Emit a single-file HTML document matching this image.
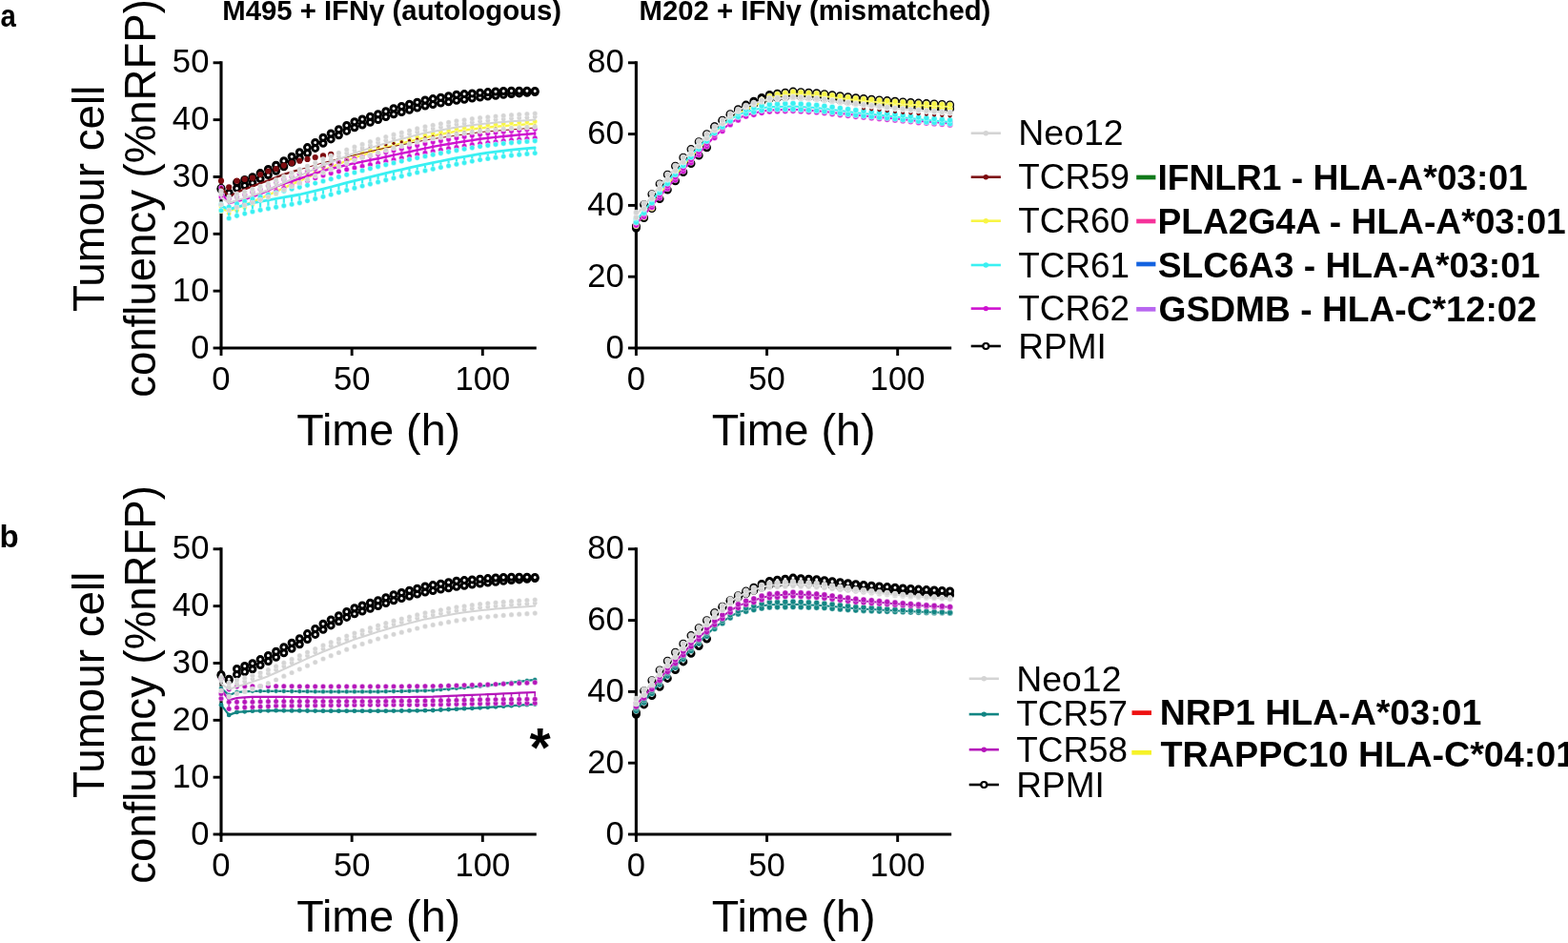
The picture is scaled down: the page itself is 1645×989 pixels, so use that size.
<!DOCTYPE html>
<html lang="en"><head><meta charset="utf-8"><title>Tumour cell confluency</title>
<style>html,body{margin:0;padding:0;background:#fff;overflow:hidden}svg{display:block}</style></head>
<body>
<svg width="1645" height="989" viewBox="0 0 1645 989" font-family='"Liberation Sans", sans-serif' fill="#000">
<rect width="1645" height="989" fill="#fff"/>
<path d="M232.00 64.25V366.55" stroke="#000" stroke-width="3.1" fill="none"/>
<path d="M230.45 365.00H562.76" stroke="#000" stroke-width="3.1" fill="none"/>
<path d="M223.60 365.00H232.00" stroke="#000" stroke-width="2.9" fill="none"/>
<text transform="translate(219.40 375.60) scale(1.01 1)" font-size="34.3" text-anchor="end">0</text>
<path d="M223.60 305.16H232.00" stroke="#000" stroke-width="2.9" fill="none"/>
<text transform="translate(219.40 315.76) scale(1.01 1)" font-size="34.3" text-anchor="end">10</text>
<path d="M223.60 245.32H232.00" stroke="#000" stroke-width="2.9" fill="none"/>
<text transform="translate(219.40 255.92) scale(1.01 1)" font-size="34.3" text-anchor="end">20</text>
<path d="M223.60 185.48H232.00" stroke="#000" stroke-width="2.9" fill="none"/>
<text transform="translate(219.40 196.08) scale(1.01 1)" font-size="34.3" text-anchor="end">30</text>
<path d="M223.60 125.64H232.00" stroke="#000" stroke-width="2.9" fill="none"/>
<text transform="translate(219.40 136.24) scale(1.01 1)" font-size="34.3" text-anchor="end">40</text>
<path d="M223.60 65.80H232.00" stroke="#000" stroke-width="2.9" fill="none"/>
<text transform="translate(219.40 76.40) scale(1.01 1)" font-size="34.3" text-anchor="end">50</text>
<path d="M232.00 365.00V373.00" stroke="#000" stroke-width="2.9" fill="none"/>
<text transform="translate(232.00 409.30) scale(1.01 1)" font-size="34.3" text-anchor="middle">0</text>
<path d="M369.15 365.00V373.00" stroke="#000" stroke-width="2.9" fill="none"/>
<text transform="translate(369.15 409.30) scale(1.01 1)" font-size="34.3" text-anchor="middle">50</text>
<path d="M506.30 365.00V373.00" stroke="#000" stroke-width="2.9" fill="none"/>
<text transform="translate(506.30 409.30) scale(1.01 1)" font-size="34.3" text-anchor="middle">100</text>
<text transform="translate(397.18 466.90) scale(1.03 1)" font-size="45.3" text-anchor="middle">Time (h)</text>
<path d="M667.40 64.25V366.55" stroke="#000" stroke-width="3.1" fill="none"/>
<path d="M665.85 365.00H998.16" stroke="#000" stroke-width="3.1" fill="none"/>
<path d="M659.00 365.00H667.40" stroke="#000" stroke-width="2.9" fill="none"/>
<text transform="translate(654.80 375.60) scale(1.01 1)" font-size="34.3" text-anchor="end">0</text>
<path d="M659.00 290.20H667.40" stroke="#000" stroke-width="2.9" fill="none"/>
<text transform="translate(654.80 300.80) scale(1.01 1)" font-size="34.3" text-anchor="end">20</text>
<path d="M659.00 215.40H667.40" stroke="#000" stroke-width="2.9" fill="none"/>
<text transform="translate(654.80 226.00) scale(1.01 1)" font-size="34.3" text-anchor="end">40</text>
<path d="M659.00 140.60H667.40" stroke="#000" stroke-width="2.9" fill="none"/>
<text transform="translate(654.80 151.20) scale(1.01 1)" font-size="34.3" text-anchor="end">60</text>
<path d="M659.00 65.80H667.40" stroke="#000" stroke-width="2.9" fill="none"/>
<text transform="translate(654.80 76.40) scale(1.01 1)" font-size="34.3" text-anchor="end">80</text>
<path d="M667.40 365.00V373.00" stroke="#000" stroke-width="2.9" fill="none"/>
<text transform="translate(667.40 409.30) scale(1.01 1)" font-size="34.3" text-anchor="middle">0</text>
<path d="M804.55 365.00V373.00" stroke="#000" stroke-width="2.9" fill="none"/>
<text transform="translate(804.55 409.30) scale(1.01 1)" font-size="34.3" text-anchor="middle">50</text>
<path d="M941.70 365.00V373.00" stroke="#000" stroke-width="2.9" fill="none"/>
<text transform="translate(941.70 409.30) scale(1.01 1)" font-size="34.3" text-anchor="middle">100</text>
<text transform="translate(832.58 466.90) scale(1.03 1)" font-size="45.3" text-anchor="middle">Time (h)</text>
<g><circle cx="232.0" cy="198.6" r="3.0" fill="#fff" stroke="#000" stroke-width="3.0"/><circle cx="240.2" cy="203.4" r="3.0" fill="#fff" stroke="#000" stroke-width="3.0"/><circle cx="248.5" cy="197.4" r="3.0" fill="#fff" stroke="#000" stroke-width="3.0"/><circle cx="256.7" cy="194.5" r="3.0" fill="#fff" stroke="#000" stroke-width="3.0"/><circle cx="264.9" cy="191.8" r="3.0" fill="#fff" stroke="#000" stroke-width="3.0"/><circle cx="273.1" cy="187.6" r="3.0" fill="#fff" stroke="#000" stroke-width="3.0"/><circle cx="281.4" cy="183.5" r="3.0" fill="#fff" stroke="#000" stroke-width="3.0"/><circle cx="289.6" cy="179.2" r="3.0" fill="#fff" stroke="#000" stroke-width="3.0"/><circle cx="297.8" cy="174.7" r="3.0" fill="#fff" stroke="#000" stroke-width="3.0"/><circle cx="306.1" cy="170.2" r="3.0" fill="#fff" stroke="#000" stroke-width="3.0"/><circle cx="314.3" cy="165.7" r="3.0" fill="#fff" stroke="#000" stroke-width="3.0"/><circle cx="322.5" cy="160.5" r="3.0" fill="#fff" stroke="#000" stroke-width="3.0"/><circle cx="330.7" cy="155.4" r="3.0" fill="#fff" stroke="#000" stroke-width="3.0"/><circle cx="339.0" cy="150.2" r="3.0" fill="#fff" stroke="#000" stroke-width="3.0"/><circle cx="347.2" cy="145.9" r="3.0" fill="#fff" stroke="#000" stroke-width="3.0"/><circle cx="355.4" cy="141.7" r="3.0" fill="#fff" stroke="#000" stroke-width="3.0"/><circle cx="363.7" cy="137.4" r="3.0" fill="#fff" stroke="#000" stroke-width="3.0"/><circle cx="371.9" cy="133.7" r="3.0" fill="#fff" stroke="#000" stroke-width="3.0"/><circle cx="380.1" cy="131.0" r="3.0" fill="#fff" stroke="#000" stroke-width="3.0"/><circle cx="388.4" cy="128.3" r="3.0" fill="#fff" stroke="#000" stroke-width="3.0"/><circle cx="396.6" cy="125.6" r="3.0" fill="#fff" stroke="#000" stroke-width="3.0"/><circle cx="404.8" cy="122.6" r="3.0" fill="#fff" stroke="#000" stroke-width="3.0"/><circle cx="413.0" cy="119.7" r="3.0" fill="#fff" stroke="#000" stroke-width="3.0"/><circle cx="421.3" cy="117.5" r="3.0" fill="#fff" stroke="#000" stroke-width="3.0"/><circle cx="429.5" cy="115.3" r="3.0" fill="#fff" stroke="#000" stroke-width="3.0"/><circle cx="437.7" cy="113.1" r="3.0" fill="#fff" stroke="#000" stroke-width="3.0"/><circle cx="446.0" cy="111.0" r="3.0" fill="#fff" stroke="#000" stroke-width="3.0"/><circle cx="454.2" cy="109.6" r="3.0" fill="#fff" stroke="#000" stroke-width="3.0"/><circle cx="462.4" cy="108.1" r="3.0" fill="#fff" stroke="#000" stroke-width="3.0"/><circle cx="470.6" cy="106.7" r="3.0" fill="#fff" stroke="#000" stroke-width="3.0"/><circle cx="478.9" cy="105.3" r="3.0" fill="#fff" stroke="#000" stroke-width="3.0"/><circle cx="487.1" cy="104.2" r="3.0" fill="#fff" stroke="#000" stroke-width="3.0"/><circle cx="495.3" cy="103.1" r="3.0" fill="#fff" stroke="#000" stroke-width="3.0"/><circle cx="503.6" cy="102.1" r="3.0" fill="#fff" stroke="#000" stroke-width="3.0"/><circle cx="511.8" cy="101.1" r="3.0" fill="#fff" stroke="#000" stroke-width="3.0"/><circle cx="520.0" cy="100.2" r="3.0" fill="#fff" stroke="#000" stroke-width="3.0"/><circle cx="528.2" cy="99.3" r="3.0" fill="#fff" stroke="#000" stroke-width="3.0"/><circle cx="536.5" cy="98.5" r="3.0" fill="#fff" stroke="#000" stroke-width="3.0"/><circle cx="544.7" cy="97.9" r="3.0" fill="#fff" stroke="#000" stroke-width="3.0"/><circle cx="552.9" cy="97.2" r="3.0" fill="#fff" stroke="#000" stroke-width="3.0"/><circle cx="561.2" cy="96.6" r="3.0" fill="#fff" stroke="#000" stroke-width="3.0"/></g>
<g><circle cx="232.0" cy="197.4" r="3.0" fill="#fff" stroke="#000" stroke-width="3.0"/><circle cx="240.2" cy="202.2" r="3.0" fill="#fff" stroke="#000" stroke-width="3.0"/><circle cx="248.5" cy="191.5" r="3.0" fill="#fff" stroke="#000" stroke-width="3.0"/><circle cx="256.7" cy="188.5" r="3.0" fill="#fff" stroke="#000" stroke-width="3.0"/><circle cx="264.9" cy="185.8" r="3.0" fill="#fff" stroke="#000" stroke-width="3.0"/><circle cx="273.1" cy="181.6" r="3.0" fill="#fff" stroke="#000" stroke-width="3.0"/><circle cx="281.4" cy="177.5" r="3.0" fill="#fff" stroke="#000" stroke-width="3.0"/><circle cx="289.6" cy="173.2" r="3.0" fill="#fff" stroke="#000" stroke-width="3.0"/><circle cx="297.8" cy="168.7" r="3.0" fill="#fff" stroke="#000" stroke-width="3.0"/><circle cx="306.1" cy="164.2" r="3.0" fill="#fff" stroke="#000" stroke-width="3.0"/><circle cx="314.3" cy="159.7" r="3.0" fill="#fff" stroke="#000" stroke-width="3.0"/><circle cx="322.5" cy="154.6" r="3.0" fill="#fff" stroke="#000" stroke-width="3.0"/><circle cx="330.7" cy="149.4" r="3.0" fill="#fff" stroke="#000" stroke-width="3.0"/><circle cx="339.0" cy="144.2" r="3.0" fill="#fff" stroke="#000" stroke-width="3.0"/><circle cx="347.2" cy="139.9" r="3.0" fill="#fff" stroke="#000" stroke-width="3.0"/><circle cx="355.4" cy="135.7" r="3.0" fill="#fff" stroke="#000" stroke-width="3.0"/><circle cx="363.7" cy="131.5" r="3.0" fill="#fff" stroke="#000" stroke-width="3.0"/><circle cx="371.9" cy="127.7" r="3.0" fill="#fff" stroke="#000" stroke-width="3.0"/><circle cx="380.1" cy="125.0" r="3.0" fill="#fff" stroke="#000" stroke-width="3.0"/><circle cx="388.4" cy="122.3" r="3.0" fill="#fff" stroke="#000" stroke-width="3.0"/><circle cx="396.6" cy="119.7" r="3.0" fill="#fff" stroke="#000" stroke-width="3.0"/><circle cx="404.8" cy="116.7" r="3.0" fill="#fff" stroke="#000" stroke-width="3.0"/><circle cx="413.0" cy="113.7" r="3.0" fill="#fff" stroke="#000" stroke-width="3.0"/><circle cx="421.3" cy="111.5" r="3.0" fill="#fff" stroke="#000" stroke-width="3.0"/><circle cx="429.5" cy="109.3" r="3.0" fill="#fff" stroke="#000" stroke-width="3.0"/><circle cx="437.7" cy="107.2" r="3.0" fill="#fff" stroke="#000" stroke-width="3.0"/><circle cx="446.0" cy="105.0" r="3.0" fill="#fff" stroke="#000" stroke-width="3.0"/><circle cx="454.2" cy="103.6" r="3.0" fill="#fff" stroke="#000" stroke-width="3.0"/><circle cx="462.4" cy="102.2" r="3.0" fill="#fff" stroke="#000" stroke-width="3.0"/><circle cx="470.6" cy="100.7" r="3.0" fill="#fff" stroke="#000" stroke-width="3.0"/><circle cx="478.9" cy="99.3" r="3.0" fill="#fff" stroke="#000" stroke-width="3.0"/><circle cx="487.1" cy="98.6" r="3.0" fill="#fff" stroke="#000" stroke-width="3.0"/><circle cx="495.3" cy="97.9" r="3.0" fill="#fff" stroke="#000" stroke-width="3.0"/><circle cx="503.6" cy="97.2" r="3.0" fill="#fff" stroke="#000" stroke-width="3.0"/><circle cx="511.8" cy="96.6" r="3.0" fill="#fff" stroke="#000" stroke-width="3.0"/><circle cx="520.0" cy="96.0" r="3.0" fill="#fff" stroke="#000" stroke-width="3.0"/><circle cx="528.2" cy="95.5" r="3.0" fill="#fff" stroke="#000" stroke-width="3.0"/><circle cx="536.5" cy="95.2" r="3.0" fill="#fff" stroke="#000" stroke-width="3.0"/><circle cx="544.7" cy="95.2" r="3.0" fill="#fff" stroke="#000" stroke-width="3.0"/><circle cx="552.9" cy="95.3" r="3.0" fill="#fff" stroke="#000" stroke-width="3.0"/><circle cx="561.2" cy="95.4" r="3.0" fill="#fff" stroke="#000" stroke-width="3.0"/></g>
<path d="M232.0 219.0L240.2 221.4L248.5 218.2L256.7 215.0L264.9 211.8L273.1 208.2L281.4 204.6L289.6 201.0L297.8 197.2L306.1 193.4L314.3 189.7L322.5 186.1L330.7 182.5L339.0 178.9L347.2 175.4L355.4 172.0L363.7 168.6L371.9 165.4L380.1 162.7L388.4 160.0L396.6 157.4L404.8 155.0L413.0 152.7L421.3 150.4L429.5 148.3L437.7 146.3L446.0 144.3L454.2 142.5L462.4 140.8L470.6 139.2L478.9 137.6L487.1 136.5L495.3 135.5L503.6 134.4L511.8 133.5L520.0 132.8L528.2 132.1L536.5 131.4L544.7 130.9L552.9 130.4L561.2 129.8" stroke="#f8f545" stroke-width="2.4" fill="none" stroke-linejoin="round" stroke-linecap="round"/>
<g><circle cx="232.0" cy="221.4" r="2.5" fill="#f8f545" stroke="#fff" stroke-width="0.4"/><circle cx="240.2" cy="223.8" r="2.5" fill="#f8f545" stroke="#fff" stroke-width="0.4"/><circle cx="248.5" cy="220.6" r="2.5" fill="#f8f545" stroke="#fff" stroke-width="0.4"/><circle cx="256.7" cy="217.4" r="2.5" fill="#f8f545" stroke="#fff" stroke-width="0.4"/><circle cx="264.9" cy="214.2" r="2.5" fill="#f8f545" stroke="#fff" stroke-width="0.4"/><circle cx="273.1" cy="210.6" r="2.5" fill="#f8f545" stroke="#fff" stroke-width="0.4"/><circle cx="281.4" cy="207.0" r="2.5" fill="#f8f545" stroke="#fff" stroke-width="0.4"/><circle cx="289.6" cy="203.4" r="2.5" fill="#f8f545" stroke="#fff" stroke-width="0.4"/><circle cx="297.8" cy="199.6" r="2.5" fill="#f8f545" stroke="#fff" stroke-width="0.4"/><circle cx="306.1" cy="195.8" r="2.5" fill="#f8f545" stroke="#fff" stroke-width="0.4"/><circle cx="314.3" cy="192.1" r="2.5" fill="#f8f545" stroke="#fff" stroke-width="0.4"/><circle cx="322.5" cy="188.5" r="2.5" fill="#f8f545" stroke="#fff" stroke-width="0.4"/><circle cx="330.7" cy="184.9" r="2.5" fill="#f8f545" stroke="#fff" stroke-width="0.4"/><circle cx="339.0" cy="181.3" r="2.5" fill="#f8f545" stroke="#fff" stroke-width="0.4"/><circle cx="347.2" cy="177.8" r="2.5" fill="#f8f545" stroke="#fff" stroke-width="0.4"/><circle cx="355.4" cy="174.4" r="2.5" fill="#f8f545" stroke="#fff" stroke-width="0.4"/><circle cx="363.7" cy="171.0" r="2.5" fill="#f8f545" stroke="#fff" stroke-width="0.4"/><circle cx="371.9" cy="167.8" r="2.5" fill="#f8f545" stroke="#fff" stroke-width="0.4"/><circle cx="380.1" cy="165.1" r="2.5" fill="#f8f545" stroke="#fff" stroke-width="0.4"/><circle cx="388.4" cy="162.4" r="2.5" fill="#f8f545" stroke="#fff" stroke-width="0.4"/><circle cx="396.6" cy="159.7" r="2.5" fill="#f8f545" stroke="#fff" stroke-width="0.4"/><circle cx="404.8" cy="157.4" r="2.5" fill="#f8f545" stroke="#fff" stroke-width="0.4"/><circle cx="413.0" cy="155.1" r="2.5" fill="#f8f545" stroke="#fff" stroke-width="0.4"/><circle cx="421.3" cy="152.7" r="2.5" fill="#f8f545" stroke="#fff" stroke-width="0.4"/><circle cx="429.5" cy="150.7" r="2.5" fill="#f8f545" stroke="#fff" stroke-width="0.4"/><circle cx="437.7" cy="148.7" r="2.5" fill="#f8f545" stroke="#fff" stroke-width="0.4"/><circle cx="446.0" cy="146.7" r="2.5" fill="#f8f545" stroke="#fff" stroke-width="0.4"/><circle cx="454.2" cy="144.8" r="2.5" fill="#f8f545" stroke="#fff" stroke-width="0.4"/><circle cx="462.4" cy="143.2" r="2.5" fill="#f8f545" stroke="#fff" stroke-width="0.4"/><circle cx="470.6" cy="141.6" r="2.5" fill="#f8f545" stroke="#fff" stroke-width="0.4"/><circle cx="478.9" cy="140.0" r="2.5" fill="#f8f545" stroke="#fff" stroke-width="0.4"/><circle cx="487.1" cy="138.9" r="2.5" fill="#f8f545" stroke="#fff" stroke-width="0.4"/><circle cx="495.3" cy="137.8" r="2.5" fill="#f8f545" stroke="#fff" stroke-width="0.4"/><circle cx="503.6" cy="136.8" r="2.5" fill="#f8f545" stroke="#fff" stroke-width="0.4"/><circle cx="511.8" cy="135.9" r="2.5" fill="#f8f545" stroke="#fff" stroke-width="0.4"/><circle cx="520.0" cy="135.2" r="2.5" fill="#f8f545" stroke="#fff" stroke-width="0.4"/><circle cx="528.2" cy="134.5" r="2.5" fill="#f8f545" stroke="#fff" stroke-width="0.4"/><circle cx="536.5" cy="133.8" r="2.5" fill="#f8f545" stroke="#fff" stroke-width="0.4"/><circle cx="544.7" cy="133.3" r="2.5" fill="#f8f545" stroke="#fff" stroke-width="0.4"/><circle cx="552.9" cy="132.8" r="2.5" fill="#f8f545" stroke="#fff" stroke-width="0.4"/><circle cx="561.2" cy="132.2" r="2.5" fill="#f8f545" stroke="#fff" stroke-width="0.4"/></g>
<g><circle cx="232.0" cy="216.6" r="2.5" fill="#f8f545" stroke="#fff" stroke-width="0.4"/><circle cx="240.2" cy="219.0" r="2.5" fill="#f8f545" stroke="#fff" stroke-width="0.4"/><circle cx="248.5" cy="215.8" r="2.5" fill="#f8f545" stroke="#fff" stroke-width="0.4"/><circle cx="256.7" cy="212.6" r="2.5" fill="#f8f545" stroke="#fff" stroke-width="0.4"/><circle cx="264.9" cy="209.4" r="2.5" fill="#f8f545" stroke="#fff" stroke-width="0.4"/><circle cx="273.1" cy="205.8" r="2.5" fill="#f8f545" stroke="#fff" stroke-width="0.4"/><circle cx="281.4" cy="202.2" r="2.5" fill="#f8f545" stroke="#fff" stroke-width="0.4"/><circle cx="289.6" cy="198.6" r="2.5" fill="#f8f545" stroke="#fff" stroke-width="0.4"/><circle cx="297.8" cy="194.8" r="2.5" fill="#f8f545" stroke="#fff" stroke-width="0.4"/><circle cx="306.1" cy="191.0" r="2.5" fill="#f8f545" stroke="#fff" stroke-width="0.4"/><circle cx="314.3" cy="187.3" r="2.5" fill="#f8f545" stroke="#fff" stroke-width="0.4"/><circle cx="322.5" cy="183.7" r="2.5" fill="#f8f545" stroke="#fff" stroke-width="0.4"/><circle cx="330.7" cy="180.1" r="2.5" fill="#f8f545" stroke="#fff" stroke-width="0.4"/><circle cx="339.0" cy="176.5" r="2.5" fill="#f8f545" stroke="#fff" stroke-width="0.4"/><circle cx="347.2" cy="173.0" r="2.5" fill="#f8f545" stroke="#fff" stroke-width="0.4"/><circle cx="355.4" cy="169.6" r="2.5" fill="#f8f545" stroke="#fff" stroke-width="0.4"/><circle cx="363.7" cy="166.2" r="2.5" fill="#f8f545" stroke="#fff" stroke-width="0.4"/><circle cx="371.9" cy="163.0" r="2.5" fill="#f8f545" stroke="#fff" stroke-width="0.4"/><circle cx="380.1" cy="160.3" r="2.5" fill="#f8f545" stroke="#fff" stroke-width="0.4"/><circle cx="388.4" cy="157.7" r="2.5" fill="#f8f545" stroke="#fff" stroke-width="0.4"/><circle cx="396.6" cy="155.0" r="2.5" fill="#f8f545" stroke="#fff" stroke-width="0.4"/><circle cx="404.8" cy="152.6" r="2.5" fill="#f8f545" stroke="#fff" stroke-width="0.4"/><circle cx="413.0" cy="150.3" r="2.5" fill="#f8f545" stroke="#fff" stroke-width="0.4"/><circle cx="421.3" cy="148.0" r="2.5" fill="#f8f545" stroke="#fff" stroke-width="0.4"/><circle cx="429.5" cy="145.9" r="2.5" fill="#f8f545" stroke="#fff" stroke-width="0.4"/><circle cx="437.7" cy="143.9" r="2.5" fill="#f8f545" stroke="#fff" stroke-width="0.4"/><circle cx="446.0" cy="141.9" r="2.5" fill="#f8f545" stroke="#fff" stroke-width="0.4"/><circle cx="454.2" cy="140.1" r="2.5" fill="#f8f545" stroke="#fff" stroke-width="0.4"/><circle cx="462.4" cy="138.4" r="2.5" fill="#f8f545" stroke="#fff" stroke-width="0.4"/><circle cx="470.6" cy="136.8" r="2.5" fill="#f8f545" stroke="#fff" stroke-width="0.4"/><circle cx="478.9" cy="135.2" r="2.5" fill="#f8f545" stroke="#fff" stroke-width="0.4"/><circle cx="487.1" cy="134.1" r="2.5" fill="#f8f545" stroke="#fff" stroke-width="0.4"/><circle cx="495.3" cy="133.1" r="2.5" fill="#f8f545" stroke="#fff" stroke-width="0.4"/><circle cx="503.6" cy="132.0" r="2.5" fill="#f8f545" stroke="#fff" stroke-width="0.4"/><circle cx="511.8" cy="131.1" r="2.5" fill="#f8f545" stroke="#fff" stroke-width="0.4"/><circle cx="520.0" cy="130.4" r="2.5" fill="#f8f545" stroke="#fff" stroke-width="0.4"/><circle cx="528.2" cy="129.7" r="2.5" fill="#f8f545" stroke="#fff" stroke-width="0.4"/><circle cx="536.5" cy="129.1" r="2.5" fill="#f8f545" stroke="#fff" stroke-width="0.4"/><circle cx="544.7" cy="128.5" r="2.5" fill="#f8f545" stroke="#fff" stroke-width="0.4"/><circle cx="552.9" cy="128.0" r="2.5" fill="#f8f545" stroke="#fff" stroke-width="0.4"/><circle cx="561.2" cy="127.4" r="2.5" fill="#f8f545" stroke="#fff" stroke-width="0.4"/></g>
<path d="M232.0 201.6L240.2 213.0L248.5 211.2L256.7 209.0L264.9 206.3L273.1 203.4L281.4 199.6L289.6 195.7L297.8 192.7L306.1 190.0L314.3 187.3L322.5 184.6L330.7 181.9L339.0 179.2L347.2 177.0L355.4 175.0L363.7 173.0L371.9 171.2L380.1 169.6L388.4 167.9L396.6 166.3L404.8 164.5L413.0 162.7L421.3 160.9L429.5 159.2L437.7 157.4L446.0 155.6L454.2 153.9L462.4 152.4L470.6 151.0L478.9 149.6L487.1 148.3L495.3 147.1L503.6 145.8L511.8 144.8L520.0 143.9L528.2 143.0L536.5 142.2L544.7 141.4L552.9 140.7L561.2 140.0" stroke="#cf12d0" stroke-width="2.4" fill="none" stroke-linejoin="round" stroke-linecap="round"/>
<path d="M232.0 206.4V196.8M240.2 217.8V208.2M248.5 216.0V206.4M256.7 213.8V204.2M264.9 211.1V201.5M273.1 208.2V198.6M281.4 204.4V194.8M289.6 200.5V191.0M297.8 197.4V187.9M306.1 194.8V185.2M314.3 192.1V182.5M322.5 189.4V179.8M330.7 186.7V177.1M339.0 184.0V174.4M347.2 181.8V172.2M355.4 179.8V170.2M363.7 177.8V168.2M371.9 176.0V166.4M380.1 174.3V164.8M388.4 172.7V163.2M396.6 171.1V161.5M404.8 169.3V159.7M413.0 167.5V158.0M421.3 165.7V156.2M429.5 163.9V154.4M437.7 162.1V152.6M446.0 160.3V150.8M454.2 158.7V149.1M462.4 157.2V147.7M470.6 155.8V146.2M478.9 154.4V144.8M487.1 153.1V143.5M495.3 151.8V142.3M503.6 150.6V141.0M511.8 149.6V140.0M520.0 148.7V139.1M528.2 147.8V138.2M536.5 146.9V137.4M544.7 146.2V136.7M552.9 145.5V135.9M561.2 144.8V135.2" stroke="#cf12d0" stroke-width="2.0" fill="none"/>
<g><circle cx="232.0" cy="206.4" r="2.7" fill="#cf12d0" stroke="#fff" stroke-width="0.4"/><circle cx="240.2" cy="217.8" r="2.7" fill="#cf12d0" stroke="#fff" stroke-width="0.4"/><circle cx="248.5" cy="216.0" r="2.7" fill="#cf12d0" stroke="#fff" stroke-width="0.4"/><circle cx="256.7" cy="213.8" r="2.7" fill="#cf12d0" stroke="#fff" stroke-width="0.4"/><circle cx="264.9" cy="211.1" r="2.7" fill="#cf12d0" stroke="#fff" stroke-width="0.4"/><circle cx="273.1" cy="208.2" r="2.7" fill="#cf12d0" stroke="#fff" stroke-width="0.4"/><circle cx="281.4" cy="204.4" r="2.7" fill="#cf12d0" stroke="#fff" stroke-width="0.4"/><circle cx="289.6" cy="200.5" r="2.7" fill="#cf12d0" stroke="#fff" stroke-width="0.4"/><circle cx="297.8" cy="197.4" r="2.7" fill="#cf12d0" stroke="#fff" stroke-width="0.4"/><circle cx="306.1" cy="194.8" r="2.7" fill="#cf12d0" stroke="#fff" stroke-width="0.4"/><circle cx="314.3" cy="192.1" r="2.7" fill="#cf12d0" stroke="#fff" stroke-width="0.4"/><circle cx="322.5" cy="189.4" r="2.7" fill="#cf12d0" stroke="#fff" stroke-width="0.4"/><circle cx="330.7" cy="186.7" r="2.7" fill="#cf12d0" stroke="#fff" stroke-width="0.4"/><circle cx="339.0" cy="184.0" r="2.7" fill="#cf12d0" stroke="#fff" stroke-width="0.4"/><circle cx="347.2" cy="181.8" r="2.7" fill="#cf12d0" stroke="#fff" stroke-width="0.4"/><circle cx="355.4" cy="179.8" r="2.7" fill="#cf12d0" stroke="#fff" stroke-width="0.4"/><circle cx="363.7" cy="177.8" r="2.7" fill="#cf12d0" stroke="#fff" stroke-width="0.4"/><circle cx="371.9" cy="176.0" r="2.7" fill="#cf12d0" stroke="#fff" stroke-width="0.4"/><circle cx="380.1" cy="174.3" r="2.7" fill="#cf12d0" stroke="#fff" stroke-width="0.4"/><circle cx="388.4" cy="172.7" r="2.7" fill="#cf12d0" stroke="#fff" stroke-width="0.4"/><circle cx="396.6" cy="171.1" r="2.7" fill="#cf12d0" stroke="#fff" stroke-width="0.4"/><circle cx="404.8" cy="169.3" r="2.7" fill="#cf12d0" stroke="#fff" stroke-width="0.4"/><circle cx="413.0" cy="167.5" r="2.7" fill="#cf12d0" stroke="#fff" stroke-width="0.4"/><circle cx="421.3" cy="165.7" r="2.7" fill="#cf12d0" stroke="#fff" stroke-width="0.4"/><circle cx="429.5" cy="163.9" r="2.7" fill="#cf12d0" stroke="#fff" stroke-width="0.4"/><circle cx="437.7" cy="162.1" r="2.7" fill="#cf12d0" stroke="#fff" stroke-width="0.4"/><circle cx="446.0" cy="160.3" r="2.7" fill="#cf12d0" stroke="#fff" stroke-width="0.4"/><circle cx="454.2" cy="158.7" r="2.7" fill="#cf12d0" stroke="#fff" stroke-width="0.4"/><circle cx="462.4" cy="157.2" r="2.7" fill="#cf12d0" stroke="#fff" stroke-width="0.4"/><circle cx="470.6" cy="155.8" r="2.7" fill="#cf12d0" stroke="#fff" stroke-width="0.4"/><circle cx="478.9" cy="154.4" r="2.7" fill="#cf12d0" stroke="#fff" stroke-width="0.4"/><circle cx="487.1" cy="153.1" r="2.7" fill="#cf12d0" stroke="#fff" stroke-width="0.4"/><circle cx="495.3" cy="151.8" r="2.7" fill="#cf12d0" stroke="#fff" stroke-width="0.4"/><circle cx="503.6" cy="150.6" r="2.7" fill="#cf12d0" stroke="#fff" stroke-width="0.4"/><circle cx="511.8" cy="149.6" r="2.7" fill="#cf12d0" stroke="#fff" stroke-width="0.4"/><circle cx="520.0" cy="148.7" r="2.7" fill="#cf12d0" stroke="#fff" stroke-width="0.4"/><circle cx="528.2" cy="147.8" r="2.7" fill="#cf12d0" stroke="#fff" stroke-width="0.4"/><circle cx="536.5" cy="146.9" r="2.7" fill="#cf12d0" stroke="#fff" stroke-width="0.4"/><circle cx="544.7" cy="146.2" r="2.7" fill="#cf12d0" stroke="#fff" stroke-width="0.4"/><circle cx="552.9" cy="145.5" r="2.7" fill="#cf12d0" stroke="#fff" stroke-width="0.4"/><circle cx="561.2" cy="144.8" r="2.7" fill="#cf12d0" stroke="#fff" stroke-width="0.4"/></g>
<g><circle cx="232.0" cy="196.8" r="2.7" fill="#cf12d0" stroke="#fff" stroke-width="0.4"/><circle cx="240.2" cy="208.2" r="2.7" fill="#cf12d0" stroke="#fff" stroke-width="0.4"/><circle cx="248.5" cy="206.4" r="2.7" fill="#cf12d0" stroke="#fff" stroke-width="0.4"/><circle cx="256.7" cy="204.2" r="2.7" fill="#cf12d0" stroke="#fff" stroke-width="0.4"/><circle cx="264.9" cy="201.5" r="2.7" fill="#cf12d0" stroke="#fff" stroke-width="0.4"/><circle cx="273.1" cy="198.6" r="2.7" fill="#cf12d0" stroke="#fff" stroke-width="0.4"/><circle cx="281.4" cy="194.8" r="2.7" fill="#cf12d0" stroke="#fff" stroke-width="0.4"/><circle cx="289.6" cy="191.0" r="2.7" fill="#cf12d0" stroke="#fff" stroke-width="0.4"/><circle cx="297.8" cy="187.9" r="2.7" fill="#cf12d0" stroke="#fff" stroke-width="0.4"/><circle cx="306.1" cy="185.2" r="2.7" fill="#cf12d0" stroke="#fff" stroke-width="0.4"/><circle cx="314.3" cy="182.5" r="2.7" fill="#cf12d0" stroke="#fff" stroke-width="0.4"/><circle cx="322.5" cy="179.8" r="2.7" fill="#cf12d0" stroke="#fff" stroke-width="0.4"/><circle cx="330.7" cy="177.1" r="2.7" fill="#cf12d0" stroke="#fff" stroke-width="0.4"/><circle cx="339.0" cy="174.4" r="2.7" fill="#cf12d0" stroke="#fff" stroke-width="0.4"/><circle cx="347.2" cy="172.2" r="2.7" fill="#cf12d0" stroke="#fff" stroke-width="0.4"/><circle cx="355.4" cy="170.2" r="2.7" fill="#cf12d0" stroke="#fff" stroke-width="0.4"/><circle cx="363.7" cy="168.2" r="2.7" fill="#cf12d0" stroke="#fff" stroke-width="0.4"/><circle cx="371.9" cy="166.4" r="2.7" fill="#cf12d0" stroke="#fff" stroke-width="0.4"/><circle cx="380.1" cy="164.8" r="2.7" fill="#cf12d0" stroke="#fff" stroke-width="0.4"/><circle cx="388.4" cy="163.2" r="2.7" fill="#cf12d0" stroke="#fff" stroke-width="0.4"/><circle cx="396.6" cy="161.5" r="2.7" fill="#cf12d0" stroke="#fff" stroke-width="0.4"/><circle cx="404.8" cy="159.7" r="2.7" fill="#cf12d0" stroke="#fff" stroke-width="0.4"/><circle cx="413.0" cy="158.0" r="2.7" fill="#cf12d0" stroke="#fff" stroke-width="0.4"/><circle cx="421.3" cy="156.2" r="2.7" fill="#cf12d0" stroke="#fff" stroke-width="0.4"/><circle cx="429.5" cy="154.4" r="2.7" fill="#cf12d0" stroke="#fff" stroke-width="0.4"/><circle cx="437.7" cy="152.6" r="2.7" fill="#cf12d0" stroke="#fff" stroke-width="0.4"/><circle cx="446.0" cy="150.8" r="2.7" fill="#cf12d0" stroke="#fff" stroke-width="0.4"/><circle cx="454.2" cy="149.1" r="2.7" fill="#cf12d0" stroke="#fff" stroke-width="0.4"/><circle cx="462.4" cy="147.7" r="2.7" fill="#cf12d0" stroke="#fff" stroke-width="0.4"/><circle cx="470.6" cy="146.2" r="2.7" fill="#cf12d0" stroke="#fff" stroke-width="0.4"/><circle cx="478.9" cy="144.8" r="2.7" fill="#cf12d0" stroke="#fff" stroke-width="0.4"/><circle cx="487.1" cy="143.5" r="2.7" fill="#cf12d0" stroke="#fff" stroke-width="0.4"/><circle cx="495.3" cy="142.3" r="2.7" fill="#cf12d0" stroke="#fff" stroke-width="0.4"/><circle cx="503.6" cy="141.0" r="2.7" fill="#cf12d0" stroke="#fff" stroke-width="0.4"/><circle cx="511.8" cy="140.0" r="2.7" fill="#cf12d0" stroke="#fff" stroke-width="0.4"/><circle cx="520.0" cy="139.1" r="2.7" fill="#cf12d0" stroke="#fff" stroke-width="0.4"/><circle cx="528.2" cy="138.2" r="2.7" fill="#cf12d0" stroke="#fff" stroke-width="0.4"/><circle cx="536.5" cy="137.4" r="2.7" fill="#cf12d0" stroke="#fff" stroke-width="0.4"/><circle cx="544.7" cy="136.7" r="2.7" fill="#cf12d0" stroke="#fff" stroke-width="0.4"/><circle cx="552.9" cy="135.9" r="2.7" fill="#cf12d0" stroke="#fff" stroke-width="0.4"/><circle cx="561.2" cy="135.2" r="2.7" fill="#cf12d0" stroke="#fff" stroke-width="0.4"/></g>
<path d="M232.0 216.0L240.2 219.6L248.5 217.2L256.7 215.1L264.9 213.0L273.1 211.4L281.4 209.9L289.6 208.3L297.8 206.9L306.1 205.5L314.3 204.0L322.5 202.1L330.7 200.1L339.0 198.1L347.2 196.0L355.4 193.9L363.7 191.7L371.9 189.6L380.1 187.6L388.4 185.7L396.6 183.7L404.8 181.7L413.0 179.7L421.3 177.8L429.5 175.9L437.7 174.1L446.0 172.3L454.2 170.6L462.4 169.0L470.6 167.3L478.9 165.7L487.1 164.3L495.3 162.9L503.6 161.4L511.8 160.2L520.0 159.2L528.2 158.1L536.5 157.1L544.7 156.4L552.9 155.7L561.2 155.0" stroke="#3af0f2" stroke-width="2.8" fill="none" stroke-linejoin="round" stroke-linecap="round"/>
<path d="M232.0 220.8V217.2M240.2 228.9V220.8M248.5 226.3V218.4M256.7 224.1V216.3M264.9 222.0V214.2M273.1 220.3V212.6M281.4 218.7V211.1M289.6 217.2V209.5M297.8 215.7V208.1M306.1 214.2V206.7M314.3 212.7V205.2M322.5 210.6V203.3M330.7 208.5V201.3M339.0 206.3V199.3M347.2 204.1V197.2M355.4 201.8V195.1M363.7 199.5V192.9M371.9 197.2V190.8M380.1 195.1V188.8M388.4 193.0V186.9M396.6 190.9V184.9M404.8 188.8V182.9M413.0 186.8V180.9M421.3 184.7V179.0M429.5 182.8V177.1M437.7 180.9V175.3M446.0 179.0V173.5M454.2 177.2V171.8M462.4 175.5V170.2M470.6 173.9V168.5M478.9 172.2V166.9M487.1 170.7V165.5M495.3 169.1V164.1M503.6 167.6V162.6M511.8 166.4V161.4M520.0 165.2V160.3M528.2 164.1V159.3M536.5 163.0V158.3M544.7 162.2V157.6M552.9 161.4V156.9M561.2 160.6V156.2" stroke="#3af0f2" stroke-width="2.2" fill="none"/>
<g><circle cx="232.0" cy="220.8" r="2.7" fill="#3af0f2" stroke="#fff" stroke-width="0.4"/><circle cx="240.2" cy="228.9" r="2.7" fill="#3af0f2" stroke="#fff" stroke-width="0.4"/><circle cx="248.5" cy="226.3" r="2.7" fill="#3af0f2" stroke="#fff" stroke-width="0.4"/><circle cx="256.7" cy="224.1" r="2.7" fill="#3af0f2" stroke="#fff" stroke-width="0.4"/><circle cx="264.9" cy="222.0" r="2.7" fill="#3af0f2" stroke="#fff" stroke-width="0.4"/><circle cx="273.1" cy="220.3" r="2.7" fill="#3af0f2" stroke="#fff" stroke-width="0.4"/><circle cx="281.4" cy="218.7" r="2.7" fill="#3af0f2" stroke="#fff" stroke-width="0.4"/><circle cx="289.6" cy="217.2" r="2.7" fill="#3af0f2" stroke="#fff" stroke-width="0.4"/><circle cx="297.8" cy="215.7" r="2.7" fill="#3af0f2" stroke="#fff" stroke-width="0.4"/><circle cx="306.1" cy="214.2" r="2.7" fill="#3af0f2" stroke="#fff" stroke-width="0.4"/><circle cx="314.3" cy="212.7" r="2.7" fill="#3af0f2" stroke="#fff" stroke-width="0.4"/><circle cx="322.5" cy="210.6" r="2.7" fill="#3af0f2" stroke="#fff" stroke-width="0.4"/><circle cx="330.7" cy="208.5" r="2.7" fill="#3af0f2" stroke="#fff" stroke-width="0.4"/><circle cx="339.0" cy="206.3" r="2.7" fill="#3af0f2" stroke="#fff" stroke-width="0.4"/><circle cx="347.2" cy="204.1" r="2.7" fill="#3af0f2" stroke="#fff" stroke-width="0.4"/><circle cx="355.4" cy="201.8" r="2.7" fill="#3af0f2" stroke="#fff" stroke-width="0.4"/><circle cx="363.7" cy="199.5" r="2.7" fill="#3af0f2" stroke="#fff" stroke-width="0.4"/><circle cx="371.9" cy="197.2" r="2.7" fill="#3af0f2" stroke="#fff" stroke-width="0.4"/><circle cx="380.1" cy="195.1" r="2.7" fill="#3af0f2" stroke="#fff" stroke-width="0.4"/><circle cx="388.4" cy="193.0" r="2.7" fill="#3af0f2" stroke="#fff" stroke-width="0.4"/><circle cx="396.6" cy="190.9" r="2.7" fill="#3af0f2" stroke="#fff" stroke-width="0.4"/><circle cx="404.8" cy="188.8" r="2.7" fill="#3af0f2" stroke="#fff" stroke-width="0.4"/><circle cx="413.0" cy="186.8" r="2.7" fill="#3af0f2" stroke="#fff" stroke-width="0.4"/><circle cx="421.3" cy="184.7" r="2.7" fill="#3af0f2" stroke="#fff" stroke-width="0.4"/><circle cx="429.5" cy="182.8" r="2.7" fill="#3af0f2" stroke="#fff" stroke-width="0.4"/><circle cx="437.7" cy="180.9" r="2.7" fill="#3af0f2" stroke="#fff" stroke-width="0.4"/><circle cx="446.0" cy="179.0" r="2.7" fill="#3af0f2" stroke="#fff" stroke-width="0.4"/><circle cx="454.2" cy="177.2" r="2.7" fill="#3af0f2" stroke="#fff" stroke-width="0.4"/><circle cx="462.4" cy="175.5" r="2.7" fill="#3af0f2" stroke="#fff" stroke-width="0.4"/><circle cx="470.6" cy="173.9" r="2.7" fill="#3af0f2" stroke="#fff" stroke-width="0.4"/><circle cx="478.9" cy="172.2" r="2.7" fill="#3af0f2" stroke="#fff" stroke-width="0.4"/><circle cx="487.1" cy="170.7" r="2.7" fill="#3af0f2" stroke="#fff" stroke-width="0.4"/><circle cx="495.3" cy="169.1" r="2.7" fill="#3af0f2" stroke="#fff" stroke-width="0.4"/><circle cx="503.6" cy="167.6" r="2.7" fill="#3af0f2" stroke="#fff" stroke-width="0.4"/><circle cx="511.8" cy="166.4" r="2.7" fill="#3af0f2" stroke="#fff" stroke-width="0.4"/><circle cx="520.0" cy="165.2" r="2.7" fill="#3af0f2" stroke="#fff" stroke-width="0.4"/><circle cx="528.2" cy="164.1" r="2.7" fill="#3af0f2" stroke="#fff" stroke-width="0.4"/><circle cx="536.5" cy="163.0" r="2.7" fill="#3af0f2" stroke="#fff" stroke-width="0.4"/><circle cx="544.7" cy="162.2" r="2.7" fill="#3af0f2" stroke="#fff" stroke-width="0.4"/><circle cx="552.9" cy="161.4" r="2.7" fill="#3af0f2" stroke="#fff" stroke-width="0.4"/><circle cx="561.2" cy="160.6" r="2.7" fill="#3af0f2" stroke="#fff" stroke-width="0.4"/></g>
<g><circle cx="232.0" cy="214.2" r="2.7" fill="#3af0f2" stroke="#fff" stroke-width="0.4"/><circle cx="240.2" cy="216.9" r="2.7" fill="#3af0f2" stroke="#fff" stroke-width="0.4"/><circle cx="248.5" cy="213.6" r="2.7" fill="#3af0f2" stroke="#fff" stroke-width="0.4"/><circle cx="256.7" cy="211.0" r="2.7" fill="#3af0f2" stroke="#fff" stroke-width="0.4"/><circle cx="264.9" cy="208.4" r="2.7" fill="#3af0f2" stroke="#fff" stroke-width="0.4"/><circle cx="273.1" cy="206.3" r="2.7" fill="#3af0f2" stroke="#fff" stroke-width="0.4"/><circle cx="281.4" cy="204.2" r="2.7" fill="#3af0f2" stroke="#fff" stroke-width="0.4"/><circle cx="289.6" cy="202.1" r="2.7" fill="#3af0f2" stroke="#fff" stroke-width="0.4"/><circle cx="297.8" cy="200.2" r="2.7" fill="#3af0f2" stroke="#fff" stroke-width="0.4"/><circle cx="306.1" cy="198.2" r="2.7" fill="#3af0f2" stroke="#fff" stroke-width="0.4"/><circle cx="314.3" cy="196.3" r="2.7" fill="#3af0f2" stroke="#fff" stroke-width="0.4"/><circle cx="322.5" cy="194.2" r="2.7" fill="#3af0f2" stroke="#fff" stroke-width="0.4"/><circle cx="330.7" cy="192.1" r="2.7" fill="#3af0f2" stroke="#fff" stroke-width="0.4"/><circle cx="339.0" cy="190.0" r="2.7" fill="#3af0f2" stroke="#fff" stroke-width="0.4"/><circle cx="347.2" cy="187.8" r="2.7" fill="#3af0f2" stroke="#fff" stroke-width="0.4"/><circle cx="355.4" cy="185.5" r="2.7" fill="#3af0f2" stroke="#fff" stroke-width="0.4"/><circle cx="363.7" cy="183.2" r="2.7" fill="#3af0f2" stroke="#fff" stroke-width="0.4"/><circle cx="371.9" cy="181.0" r="2.7" fill="#3af0f2" stroke="#fff" stroke-width="0.4"/><circle cx="380.1" cy="178.9" r="2.7" fill="#3af0f2" stroke="#fff" stroke-width="0.4"/><circle cx="388.4" cy="176.8" r="2.7" fill="#3af0f2" stroke="#fff" stroke-width="0.4"/><circle cx="396.6" cy="174.7" r="2.7" fill="#3af0f2" stroke="#fff" stroke-width="0.4"/><circle cx="404.8" cy="172.8" r="2.7" fill="#3af0f2" stroke="#fff" stroke-width="0.4"/><circle cx="413.0" cy="170.9" r="2.7" fill="#3af0f2" stroke="#fff" stroke-width="0.4"/><circle cx="421.3" cy="169.1" r="2.7" fill="#3af0f2" stroke="#fff" stroke-width="0.4"/><circle cx="429.5" cy="167.3" r="2.7" fill="#3af0f2" stroke="#fff" stroke-width="0.4"/><circle cx="437.7" cy="165.6" r="2.7" fill="#3af0f2" stroke="#fff" stroke-width="0.4"/><circle cx="446.0" cy="163.9" r="2.7" fill="#3af0f2" stroke="#fff" stroke-width="0.4"/><circle cx="454.2" cy="162.2" r="2.7" fill="#3af0f2" stroke="#fff" stroke-width="0.4"/><circle cx="462.4" cy="160.7" r="2.7" fill="#3af0f2" stroke="#fff" stroke-width="0.4"/><circle cx="470.6" cy="159.2" r="2.7" fill="#3af0f2" stroke="#fff" stroke-width="0.4"/><circle cx="478.9" cy="157.7" r="2.7" fill="#3af0f2" stroke="#fff" stroke-width="0.4"/><circle cx="487.1" cy="156.3" r="2.7" fill="#3af0f2" stroke="#fff" stroke-width="0.4"/><circle cx="495.3" cy="155.0" r="2.7" fill="#3af0f2" stroke="#fff" stroke-width="0.4"/><circle cx="503.6" cy="153.6" r="2.7" fill="#3af0f2" stroke="#fff" stroke-width="0.4"/><circle cx="511.8" cy="152.5" r="2.7" fill="#3af0f2" stroke="#fff" stroke-width="0.4"/><circle cx="520.0" cy="151.5" r="2.7" fill="#3af0f2" stroke="#fff" stroke-width="0.4"/><circle cx="528.2" cy="150.5" r="2.7" fill="#3af0f2" stroke="#fff" stroke-width="0.4"/><circle cx="536.5" cy="149.7" r="2.7" fill="#3af0f2" stroke="#fff" stroke-width="0.4"/><circle cx="544.7" cy="149.0" r="2.7" fill="#3af0f2" stroke="#fff" stroke-width="0.4"/><circle cx="552.9" cy="148.4" r="2.7" fill="#3af0f2" stroke="#fff" stroke-width="0.4"/><circle cx="561.2" cy="147.8" r="2.7" fill="#3af0f2" stroke="#fff" stroke-width="0.4"/></g>
<path d="M232.0 196.3L240.2 206.4L248.5 201.6L256.7 198.5L264.9 195.4L273.1 192.3L281.4 189.2L289.6 186.0L297.8 182.9L306.1 180.3L314.3 177.9" stroke="#7d0c10" stroke-width="2.2" fill="none" stroke-linejoin="round" stroke-linecap="round"/>
<path d="M314.3 177.9L322.5 175.5L330.7 173.1L339.0 170.7L347.2 168.6L355.4 166.6L363.7 164.7L371.9 162.7L380.1 160.7L388.4 158.7L396.6 156.8L404.8 155.1L413.0 153.5L421.3 151.9L429.5 150.3L437.7 148.7L446.0 147.1L454.2 145.6L462.4 144.4L470.6 143.3L478.9 142.1L487.1 140.9L495.3 139.8L503.6 138.6L511.8 137.8L520.0 137.2L528.2 136.5L536.5 135.9L544.7 135.3L552.9 134.6L561.2 134.0" stroke="#7d0c10" stroke-width="1.0" fill="none" stroke-linejoin="round" stroke-linecap="round"/>
<g><circle cx="297.8" cy="186.5" r="1.5" fill="#7d0c10" stroke="#fff" stroke-width="0.4"/><circle cx="306.1" cy="183.9" r="1.5" fill="#7d0c10" stroke="#fff" stroke-width="0.4"/><circle cx="314.3" cy="181.5" r="1.5" fill="#7d0c10" stroke="#fff" stroke-width="0.4"/><circle cx="322.5" cy="179.1" r="1.5" fill="#7d0c10" stroke="#fff" stroke-width="0.4"/><circle cx="330.7" cy="176.7" r="1.5" fill="#7d0c10" stroke="#fff" stroke-width="0.4"/><circle cx="339.0" cy="174.3" r="1.5" fill="#7d0c10" stroke="#fff" stroke-width="0.4"/><circle cx="347.2" cy="172.2" r="1.5" fill="#7d0c10" stroke="#fff" stroke-width="0.4"/><circle cx="355.4" cy="170.2" r="1.5" fill="#7d0c10" stroke="#fff" stroke-width="0.4"/><circle cx="363.7" cy="168.2" r="1.5" fill="#7d0c10" stroke="#fff" stroke-width="0.4"/></g>
<g><circle cx="232.0" cy="189.7" r="3.1" fill="#7d0c10"/><circle cx="240.2" cy="196.3" r="3.1" fill="#7d0c10"/><circle cx="248.5" cy="189.7" r="3.1" fill="#7d0c10"/><circle cx="256.7" cy="187.9" r="3.1" fill="#7d0c10"/><circle cx="264.9" cy="186.7" r="3.1" fill="#7d0c10"/><circle cx="273.1" cy="183.1" r="3.1" fill="#7d0c10"/><circle cx="281.4" cy="179.5" r="3.1" fill="#7d0c10"/><circle cx="289.6" cy="177.1" r="3.1" fill="#7d0c10"/><circle cx="297.8" cy="173.5" r="3.1" fill="#7d0c10"/><circle cx="306.1" cy="171.1" r="3.1" fill="#7d0c10"/><circle cx="314.3" cy="168.7" r="3.1" fill="#7d0c10"/><circle cx="322.5" cy="166.9" r="3.1" fill="#7d0c10"/><circle cx="330.7" cy="165.1" r="3.1" fill="#7d0c10"/><circle cx="339.0" cy="163.3" r="3.1" fill="#7d0c10"/><circle cx="347.2" cy="161.9" r="3.1" fill="#7d0c10"/></g>
<g><circle cx="355.4" cy="160.4" r="1.6" fill="#7d0c10"/><circle cx="363.7" cy="158.9" r="1.6" fill="#7d0c10"/><circle cx="371.9" cy="157.5" r="1.6" fill="#7d0c10"/><circle cx="380.1" cy="156.0" r="1.6" fill="#7d0c10"/><circle cx="388.4" cy="154.6" r="1.6" fill="#7d0c10"/><circle cx="396.6" cy="153.2" r="1.6" fill="#7d0c10"/><circle cx="404.8" cy="151.7" r="1.6" fill="#7d0c10"/><circle cx="413.0" cy="150.3" r="1.6" fill="#7d0c10"/><circle cx="421.3" cy="148.9" r="1.6" fill="#7d0c10"/><circle cx="429.5" cy="147.4" r="1.6" fill="#7d0c10"/><circle cx="437.7" cy="146.0" r="1.6" fill="#7d0c10"/><circle cx="446.0" cy="144.5" r="1.6" fill="#7d0c10"/><circle cx="454.2" cy="143.2" r="1.6" fill="#7d0c10"/><circle cx="462.4" cy="142.0" r="1.6" fill="#7d0c10"/><circle cx="470.6" cy="140.9" r="1.6" fill="#7d0c10"/><circle cx="478.9" cy="139.7" r="1.6" fill="#7d0c10"/><circle cx="487.1" cy="138.5" r="1.6" fill="#7d0c10"/><circle cx="495.3" cy="137.4" r="1.6" fill="#7d0c10"/><circle cx="503.6" cy="136.2" r="1.6" fill="#7d0c10"/><circle cx="511.8" cy="135.5" r="1.6" fill="#7d0c10"/><circle cx="520.0" cy="134.9" r="1.6" fill="#7d0c10"/><circle cx="528.2" cy="134.4" r="1.6" fill="#7d0c10"/><circle cx="536.5" cy="133.8" r="1.6" fill="#7d0c10"/><circle cx="544.7" cy="133.3" r="1.6" fill="#7d0c10"/><circle cx="552.9" cy="132.8" r="1.6" fill="#7d0c10"/><circle cx="561.2" cy="132.2" r="1.6" fill="#7d0c10"/></g>
<path d="M232.0 207.0L240.2 213.0L248.5 210.0L256.7 207.8L264.9 205.1L273.1 202.2L281.4 199.2L289.6 195.5L297.8 191.8L306.1 188.0L314.3 184.3L322.5 180.7L330.7 177.1L339.0 173.5L347.2 170.2L355.4 167.0L363.7 163.7L371.9 160.6L380.1 158.0L388.4 155.3L396.6 152.6L404.8 150.2L413.0 147.8L421.3 145.7L429.5 143.6L437.7 141.5L446.0 139.4L454.2 137.9L462.4 136.4L470.6 134.9L478.9 133.4L487.1 132.3L495.3 131.3L503.6 130.2L511.8 129.4L520.0 128.6L528.2 127.9L536.5 127.3L544.7 126.7L552.9 126.2L561.2 125.6" stroke="#d4d4d4" stroke-width="2.0" fill="none" stroke-linejoin="round" stroke-linecap="round"/>
<path d="M232.0 205.2V200.4M240.2 211.2V206.4M248.5 208.2V203.4M256.7 206.0V201.2M264.9 203.3V198.5M273.1 200.4V195.7M281.4 197.4V192.6M289.6 193.7V188.9M297.8 190.0V185.2M306.1 186.2V181.4M314.3 182.5V177.7M322.5 178.9V174.1M330.7 175.3V170.5M339.0 171.7V166.9M347.2 168.5V163.7M355.4 165.2V160.4M363.7 161.9V157.1M371.9 158.9V154.1M380.1 156.2V151.4M388.4 153.5V148.7M396.6 150.8V146.0M404.8 148.4V143.6M413.0 146.0V141.2M421.3 143.9V139.1M429.5 141.8V137.0M437.7 139.7V134.9M446.0 137.6V132.8M454.2 136.1V131.3M462.4 134.6V129.8M470.6 133.1V128.3M478.9 131.6V126.8M487.1 130.5V125.8M495.3 129.5V124.7M503.6 128.4V123.6M511.8 127.6V122.8M520.0 126.8V122.0M528.2 126.1V121.3M536.5 125.5V120.7M544.7 124.9V120.1M552.9 124.4V119.6M561.2 123.8V119.1" stroke="#d4d4d4" stroke-width="2.4" fill="none"/>
<g><circle cx="232.0" cy="214.5" r="2.6" fill="#d4d4d4" stroke="#fff" stroke-width="0.3"/><circle cx="240.2" cy="220.5" r="2.6" fill="#d4d4d4" stroke="#fff" stroke-width="0.3"/><circle cx="248.5" cy="217.5" r="2.6" fill="#d4d4d4" stroke="#fff" stroke-width="0.3"/><circle cx="256.7" cy="215.3" r="2.6" fill="#d4d4d4" stroke="#fff" stroke-width="0.3"/><circle cx="264.9" cy="212.6" r="2.6" fill="#d4d4d4" stroke="#fff" stroke-width="0.3"/><circle cx="273.1" cy="209.7" r="2.6" fill="#d4d4d4" stroke="#fff" stroke-width="0.3"/><circle cx="281.4" cy="206.7" r="2.6" fill="#d4d4d4" stroke="#fff" stroke-width="0.3"/><circle cx="289.6" cy="203.0" r="2.6" fill="#d4d4d4" stroke="#fff" stroke-width="0.3"/><circle cx="297.8" cy="199.2" r="2.6" fill="#d4d4d4" stroke="#fff" stroke-width="0.3"/><circle cx="306.1" cy="195.5" r="2.6" fill="#d4d4d4" stroke="#fff" stroke-width="0.3"/><circle cx="314.3" cy="191.8" r="2.6" fill="#d4d4d4" stroke="#fff" stroke-width="0.3"/><circle cx="322.5" cy="188.2" r="2.6" fill="#d4d4d4" stroke="#fff" stroke-width="0.3"/><circle cx="330.7" cy="184.6" r="2.6" fill="#d4d4d4" stroke="#fff" stroke-width="0.3"/><circle cx="339.0" cy="181.0" r="2.6" fill="#d4d4d4" stroke="#fff" stroke-width="0.3"/><circle cx="347.2" cy="177.7" r="2.6" fill="#d4d4d4" stroke="#fff" stroke-width="0.3"/><circle cx="355.4" cy="174.5" r="2.6" fill="#d4d4d4" stroke="#fff" stroke-width="0.3"/><circle cx="363.7" cy="171.2" r="2.6" fill="#d4d4d4" stroke="#fff" stroke-width="0.3"/><circle cx="371.9" cy="168.1" r="2.6" fill="#d4d4d4" stroke="#fff" stroke-width="0.3"/><circle cx="380.1" cy="165.4" r="2.6" fill="#d4d4d4" stroke="#fff" stroke-width="0.3"/><circle cx="388.4" cy="162.7" r="2.6" fill="#d4d4d4" stroke="#fff" stroke-width="0.3"/><circle cx="396.6" cy="160.0" r="2.6" fill="#d4d4d4" stroke="#fff" stroke-width="0.3"/><circle cx="404.8" cy="157.7" r="2.6" fill="#d4d4d4" stroke="#fff" stroke-width="0.3"/><circle cx="413.0" cy="155.3" r="2.6" fill="#d4d4d4" stroke="#fff" stroke-width="0.3"/><circle cx="421.3" cy="153.2" r="2.6" fill="#d4d4d4" stroke="#fff" stroke-width="0.3"/><circle cx="429.5" cy="151.1" r="2.6" fill="#d4d4d4" stroke="#fff" stroke-width="0.3"/><circle cx="437.7" cy="149.0" r="2.6" fill="#d4d4d4" stroke="#fff" stroke-width="0.3"/><circle cx="446.0" cy="146.9" r="2.6" fill="#d4d4d4" stroke="#fff" stroke-width="0.3"/><circle cx="454.2" cy="145.4" r="2.6" fill="#d4d4d4" stroke="#fff" stroke-width="0.3"/><circle cx="462.4" cy="143.9" r="2.6" fill="#d4d4d4" stroke="#fff" stroke-width="0.3"/><circle cx="470.6" cy="142.4" r="2.6" fill="#d4d4d4" stroke="#fff" stroke-width="0.3"/><circle cx="478.9" cy="140.9" r="2.6" fill="#d4d4d4" stroke="#fff" stroke-width="0.3"/><circle cx="487.1" cy="139.8" r="2.6" fill="#d4d4d4" stroke="#fff" stroke-width="0.3"/><circle cx="495.3" cy="138.7" r="2.6" fill="#d4d4d4" stroke="#fff" stroke-width="0.3"/><circle cx="503.6" cy="137.7" r="2.6" fill="#d4d4d4" stroke="#fff" stroke-width="0.3"/><circle cx="511.8" cy="136.8" r="2.6" fill="#d4d4d4" stroke="#fff" stroke-width="0.3"/><circle cx="520.0" cy="136.1" r="2.6" fill="#d4d4d4" stroke="#fff" stroke-width="0.3"/><circle cx="528.2" cy="135.4" r="2.6" fill="#d4d4d4" stroke="#fff" stroke-width="0.3"/><circle cx="536.5" cy="134.7" r="2.6" fill="#d4d4d4" stroke="#fff" stroke-width="0.3"/><circle cx="544.7" cy="134.2" r="2.6" fill="#d4d4d4" stroke="#fff" stroke-width="0.3"/><circle cx="552.9" cy="133.7" r="2.6" fill="#d4d4d4" stroke="#fff" stroke-width="0.3"/><circle cx="561.2" cy="133.1" r="2.6" fill="#d4d4d4" stroke="#fff" stroke-width="0.3"/></g>
<g><circle cx="232.0" cy="204.0" r="2.4" fill="#d4d4d4"/><circle cx="240.2" cy="210.0" r="2.4" fill="#d4d4d4"/><circle cx="248.5" cy="207.0" r="2.4" fill="#d4d4d4"/><circle cx="256.7" cy="204.8" r="2.4" fill="#d4d4d4"/><circle cx="264.9" cy="202.1" r="2.4" fill="#d4d4d4"/><circle cx="273.1" cy="199.2" r="2.4" fill="#d4d4d4"/><circle cx="281.4" cy="196.2" r="2.4" fill="#d4d4d4"/><circle cx="289.6" cy="192.5" r="2.4" fill="#d4d4d4"/><circle cx="297.8" cy="188.8" r="2.4" fill="#d4d4d4"/><circle cx="306.1" cy="185.0" r="2.4" fill="#d4d4d4"/><circle cx="314.3" cy="181.3" r="2.4" fill="#d4d4d4"/><circle cx="322.5" cy="177.7" r="2.4" fill="#d4d4d4"/><circle cx="330.7" cy="174.1" r="2.4" fill="#d4d4d4"/><circle cx="339.0" cy="170.5" r="2.4" fill="#d4d4d4"/><circle cx="347.2" cy="167.3" r="2.4" fill="#d4d4d4"/><circle cx="355.4" cy="164.0" r="2.4" fill="#d4d4d4"/><circle cx="363.7" cy="160.7" r="2.4" fill="#d4d4d4"/><circle cx="371.9" cy="157.7" r="2.4" fill="#d4d4d4"/><circle cx="380.1" cy="155.0" r="2.4" fill="#d4d4d4"/><circle cx="388.4" cy="152.3" r="2.4" fill="#d4d4d4"/><circle cx="396.6" cy="149.6" r="2.4" fill="#d4d4d4"/><circle cx="404.8" cy="147.2" r="2.4" fill="#d4d4d4"/><circle cx="413.0" cy="144.8" r="2.4" fill="#d4d4d4"/><circle cx="421.3" cy="142.7" r="2.4" fill="#d4d4d4"/><circle cx="429.5" cy="140.6" r="2.4" fill="#d4d4d4"/><circle cx="437.7" cy="138.5" r="2.4" fill="#d4d4d4"/><circle cx="446.0" cy="136.4" r="2.4" fill="#d4d4d4"/><circle cx="454.2" cy="134.9" r="2.4" fill="#d4d4d4"/><circle cx="462.4" cy="133.4" r="2.4" fill="#d4d4d4"/><circle cx="470.6" cy="131.9" r="2.4" fill="#d4d4d4"/><circle cx="478.9" cy="130.4" r="2.4" fill="#d4d4d4"/><circle cx="487.1" cy="129.4" r="2.4" fill="#d4d4d4"/><circle cx="495.3" cy="128.3" r="2.4" fill="#d4d4d4"/><circle cx="503.6" cy="127.2" r="2.4" fill="#d4d4d4"/><circle cx="511.8" cy="126.4" r="2.4" fill="#d4d4d4"/><circle cx="520.0" cy="125.6" r="2.4" fill="#d4d4d4"/><circle cx="528.2" cy="124.9" r="2.4" fill="#d4d4d4"/><circle cx="536.5" cy="124.3" r="2.4" fill="#d4d4d4"/><circle cx="544.7" cy="123.7" r="2.4" fill="#d4d4d4"/><circle cx="552.9" cy="123.2" r="2.4" fill="#d4d4d4"/><circle cx="561.2" cy="122.6" r="2.4" fill="#d4d4d4"/></g>
<g><circle cx="232.0" cy="200.4" r="2.6" fill="#d4d4d4" stroke="#fff" stroke-width="0.3"/><circle cx="240.2" cy="206.4" r="2.6" fill="#d4d4d4" stroke="#fff" stroke-width="0.3"/><circle cx="248.5" cy="203.4" r="2.6" fill="#d4d4d4" stroke="#fff" stroke-width="0.3"/><circle cx="256.7" cy="201.2" r="2.6" fill="#d4d4d4" stroke="#fff" stroke-width="0.3"/><circle cx="264.9" cy="198.5" r="2.6" fill="#d4d4d4" stroke="#fff" stroke-width="0.3"/><circle cx="273.1" cy="195.7" r="2.6" fill="#d4d4d4" stroke="#fff" stroke-width="0.3"/><circle cx="281.4" cy="192.6" r="2.6" fill="#d4d4d4" stroke="#fff" stroke-width="0.3"/><circle cx="289.6" cy="188.9" r="2.6" fill="#d4d4d4" stroke="#fff" stroke-width="0.3"/><circle cx="297.8" cy="185.2" r="2.6" fill="#d4d4d4" stroke="#fff" stroke-width="0.3"/><circle cx="306.1" cy="181.4" r="2.6" fill="#d4d4d4" stroke="#fff" stroke-width="0.3"/><circle cx="314.3" cy="177.7" r="2.6" fill="#d4d4d4" stroke="#fff" stroke-width="0.3"/><circle cx="322.5" cy="174.1" r="2.6" fill="#d4d4d4" stroke="#fff" stroke-width="0.3"/><circle cx="330.7" cy="170.5" r="2.6" fill="#d4d4d4" stroke="#fff" stroke-width="0.3"/><circle cx="339.0" cy="166.9" r="2.6" fill="#d4d4d4" stroke="#fff" stroke-width="0.3"/><circle cx="347.2" cy="163.7" r="2.6" fill="#d4d4d4" stroke="#fff" stroke-width="0.3"/><circle cx="355.4" cy="160.4" r="2.6" fill="#d4d4d4" stroke="#fff" stroke-width="0.3"/><circle cx="363.7" cy="157.1" r="2.6" fill="#d4d4d4" stroke="#fff" stroke-width="0.3"/><circle cx="371.9" cy="154.1" r="2.6" fill="#d4d4d4" stroke="#fff" stroke-width="0.3"/><circle cx="380.1" cy="151.4" r="2.6" fill="#d4d4d4" stroke="#fff" stroke-width="0.3"/><circle cx="388.4" cy="148.7" r="2.6" fill="#d4d4d4" stroke="#fff" stroke-width="0.3"/><circle cx="396.6" cy="146.0" r="2.6" fill="#d4d4d4" stroke="#fff" stroke-width="0.3"/><circle cx="404.8" cy="143.6" r="2.6" fill="#d4d4d4" stroke="#fff" stroke-width="0.3"/><circle cx="413.0" cy="141.2" r="2.6" fill="#d4d4d4" stroke="#fff" stroke-width="0.3"/><circle cx="421.3" cy="139.1" r="2.6" fill="#d4d4d4" stroke="#fff" stroke-width="0.3"/><circle cx="429.5" cy="137.0" r="2.6" fill="#d4d4d4" stroke="#fff" stroke-width="0.3"/><circle cx="437.7" cy="134.9" r="2.6" fill="#d4d4d4" stroke="#fff" stroke-width="0.3"/><circle cx="446.0" cy="132.8" r="2.6" fill="#d4d4d4" stroke="#fff" stroke-width="0.3"/><circle cx="454.2" cy="131.3" r="2.6" fill="#d4d4d4" stroke="#fff" stroke-width="0.3"/><circle cx="462.4" cy="129.8" r="2.6" fill="#d4d4d4" stroke="#fff" stroke-width="0.3"/><circle cx="470.6" cy="128.3" r="2.6" fill="#d4d4d4" stroke="#fff" stroke-width="0.3"/><circle cx="478.9" cy="126.8" r="2.6" fill="#d4d4d4" stroke="#fff" stroke-width="0.3"/><circle cx="487.1" cy="125.8" r="2.6" fill="#d4d4d4" stroke="#fff" stroke-width="0.3"/><circle cx="495.3" cy="124.7" r="2.6" fill="#d4d4d4" stroke="#fff" stroke-width="0.3"/><circle cx="503.6" cy="123.6" r="2.6" fill="#d4d4d4" stroke="#fff" stroke-width="0.3"/><circle cx="511.8" cy="122.8" r="2.6" fill="#d4d4d4" stroke="#fff" stroke-width="0.3"/><circle cx="520.0" cy="122.0" r="2.6" fill="#d4d4d4" stroke="#fff" stroke-width="0.3"/><circle cx="528.2" cy="121.3" r="2.6" fill="#d4d4d4" stroke="#fff" stroke-width="0.3"/><circle cx="536.5" cy="120.7" r="2.6" fill="#d4d4d4" stroke="#fff" stroke-width="0.3"/><circle cx="544.7" cy="120.1" r="2.6" fill="#d4d4d4" stroke="#fff" stroke-width="0.3"/><circle cx="552.9" cy="119.6" r="2.6" fill="#d4d4d4" stroke="#fff" stroke-width="0.3"/><circle cx="561.2" cy="119.1" r="2.6" fill="#d4d4d4" stroke="#fff" stroke-width="0.3"/></g>
<g><circle cx="667.4" cy="239.3" r="3.0" fill="#fff" stroke="#000" stroke-width="3.0"/><circle cx="675.6" cy="228.5" r="3.0" fill="#fff" stroke="#000" stroke-width="3.0"/><circle cx="683.9" cy="218.6" r="3.0" fill="#fff" stroke="#000" stroke-width="3.0"/><circle cx="692.1" cy="208.6" r="3.0" fill="#fff" stroke="#000" stroke-width="3.0"/><circle cx="700.3" cy="199.1" r="3.0" fill="#fff" stroke="#000" stroke-width="3.0"/><circle cx="708.5" cy="189.8" r="3.0" fill="#fff" stroke="#000" stroke-width="3.0"/><circle cx="716.8" cy="180.5" r="3.0" fill="#fff" stroke="#000" stroke-width="3.0"/><circle cx="725.0" cy="171.5" r="3.0" fill="#fff" stroke="#000" stroke-width="3.0"/><circle cx="733.2" cy="163.1" r="3.0" fill="#fff" stroke="#000" stroke-width="3.0"/><circle cx="741.5" cy="154.8" r="3.0" fill="#fff" stroke="#000" stroke-width="3.0"/><circle cx="749.7" cy="133.1" r="3.0" fill="#fff" stroke="#000" stroke-width="3.0"/><circle cx="757.9" cy="126.8" r="3.0" fill="#fff" stroke="#000" stroke-width="3.0"/><circle cx="766.1" cy="120.4" r="3.0" fill="#fff" stroke="#000" stroke-width="3.0"/><circle cx="774.4" cy="116.4" r="3.0" fill="#fff" stroke="#000" stroke-width="3.0"/><circle cx="782.6" cy="112.6" r="3.0" fill="#fff" stroke="#000" stroke-width="3.0"/><circle cx="790.8" cy="109.2" r="3.0" fill="#fff" stroke="#000" stroke-width="3.0"/><circle cx="799.1" cy="106.0" r="3.0" fill="#fff" stroke="#000" stroke-width="3.0"/><circle cx="807.3" cy="103.6" r="3.0" fill="#fff" stroke="#000" stroke-width="3.0"/><circle cx="815.5" cy="102.5" r="3.0" fill="#fff" stroke="#000" stroke-width="3.0"/><circle cx="823.8" cy="101.5" r="3.0" fill="#fff" stroke="#000" stroke-width="3.0"/><circle cx="832.0" cy="100.4" r="3.0" fill="#fff" stroke="#000" stroke-width="3.0"/><circle cx="840.2" cy="101.0" r="3.0" fill="#fff" stroke="#000" stroke-width="3.0"/><circle cx="848.4" cy="101.5" r="3.0" fill="#fff" stroke="#000" stroke-width="3.0"/><circle cx="856.7" cy="102.1" r="3.0" fill="#fff" stroke="#000" stroke-width="3.0"/><circle cx="864.9" cy="103.0" r="3.0" fill="#fff" stroke="#000" stroke-width="3.0"/><circle cx="873.1" cy="104.0" r="3.0" fill="#fff" stroke="#000" stroke-width="3.0"/><circle cx="881.4" cy="105.0" r="3.0" fill="#fff" stroke="#000" stroke-width="3.0"/><circle cx="889.6" cy="106.1" r="3.0" fill="#fff" stroke="#000" stroke-width="3.0"/><circle cx="897.8" cy="107.1" r="3.0" fill="#fff" stroke="#000" stroke-width="3.0"/><circle cx="906.0" cy="107.8" r="3.0" fill="#fff" stroke="#000" stroke-width="3.0"/><circle cx="914.3" cy="108.5" r="3.0" fill="#fff" stroke="#000" stroke-width="3.0"/><circle cx="922.5" cy="109.2" r="3.0" fill="#fff" stroke="#000" stroke-width="3.0"/><circle cx="930.7" cy="109.9" r="3.0" fill="#fff" stroke="#000" stroke-width="3.0"/><circle cx="939.0" cy="110.6" r="3.0" fill="#fff" stroke="#000" stroke-width="3.0"/><circle cx="947.2" cy="111.2" r="3.0" fill="#fff" stroke="#000" stroke-width="3.0"/><circle cx="955.4" cy="111.8" r="3.0" fill="#fff" stroke="#000" stroke-width="3.0"/><circle cx="963.6" cy="112.4" r="3.0" fill="#fff" stroke="#000" stroke-width="3.0"/><circle cx="971.9" cy="112.9" r="3.0" fill="#fff" stroke="#000" stroke-width="3.0"/><circle cx="980.1" cy="113.3" r="3.0" fill="#fff" stroke="#000" stroke-width="3.0"/><circle cx="988.3" cy="113.7" r="3.0" fill="#fff" stroke="#000" stroke-width="3.0"/><circle cx="996.6" cy="114.0" r="3.0" fill="#fff" stroke="#000" stroke-width="3.0"/></g>
<g><circle cx="667.4" cy="237.1" r="3.0" fill="#fff" stroke="#000" stroke-width="3.0"/><circle cx="675.6" cy="214.7" r="3.0" fill="#fff" stroke="#000" stroke-width="3.0"/><circle cx="683.9" cy="203.8" r="3.0" fill="#fff" stroke="#000" stroke-width="3.0"/><circle cx="692.1" cy="192.9" r="3.0" fill="#fff" stroke="#000" stroke-width="3.0"/><circle cx="700.3" cy="183.2" r="3.0" fill="#fff" stroke="#000" stroke-width="3.0"/><circle cx="708.5" cy="174.3" r="3.0" fill="#fff" stroke="#000" stroke-width="3.0"/><circle cx="716.8" cy="165.3" r="3.0" fill="#fff" stroke="#000" stroke-width="3.0"/><circle cx="725.0" cy="156.6" r="3.0" fill="#fff" stroke="#000" stroke-width="3.0"/><circle cx="733.2" cy="148.7" r="3.0" fill="#fff" stroke="#000" stroke-width="3.0"/><circle cx="741.5" cy="140.7" r="3.0" fill="#fff" stroke="#000" stroke-width="3.0"/><circle cx="749.7" cy="132.7" r="3.0" fill="#fff" stroke="#000" stroke-width="3.0"/><circle cx="757.9" cy="126.2" r="3.0" fill="#fff" stroke="#000" stroke-width="3.0"/><circle cx="766.1" cy="119.7" r="3.0" fill="#fff" stroke="#000" stroke-width="3.0"/><circle cx="774.4" cy="114.7" r="3.0" fill="#fff" stroke="#000" stroke-width="3.0"/><circle cx="782.6" cy="110.1" r="3.0" fill="#fff" stroke="#000" stroke-width="3.0"/><circle cx="790.8" cy="106.3" r="3.0" fill="#fff" stroke="#000" stroke-width="3.0"/><circle cx="799.1" cy="102.4" r="3.0" fill="#fff" stroke="#000" stroke-width="3.0"/><circle cx="807.3" cy="99.5" r="3.0" fill="#fff" stroke="#000" stroke-width="3.0"/><circle cx="815.5" cy="98.3" r="3.0" fill="#fff" stroke="#000" stroke-width="3.0"/><circle cx="823.8" cy="97.2" r="3.0" fill="#fff" stroke="#000" stroke-width="3.0"/><circle cx="832.0" cy="96.1" r="3.0" fill="#fff" stroke="#000" stroke-width="3.0"/><circle cx="840.2" cy="96.7" r="3.0" fill="#fff" stroke="#000" stroke-width="3.0"/><circle cx="848.4" cy="97.2" r="3.0" fill="#fff" stroke="#000" stroke-width="3.0"/><circle cx="856.7" cy="97.8" r="3.0" fill="#fff" stroke="#000" stroke-width="3.0"/><circle cx="864.9" cy="98.7" r="3.0" fill="#fff" stroke="#000" stroke-width="3.0"/><circle cx="873.1" cy="99.7" r="3.0" fill="#fff" stroke="#000" stroke-width="3.0"/><circle cx="881.4" cy="100.7" r="3.0" fill="#fff" stroke="#000" stroke-width="3.0"/><circle cx="889.6" cy="101.8" r="3.0" fill="#fff" stroke="#000" stroke-width="3.0"/><circle cx="897.8" cy="102.8" r="3.0" fill="#fff" stroke="#000" stroke-width="3.0"/><circle cx="906.0" cy="103.5" r="3.0" fill="#fff" stroke="#000" stroke-width="3.0"/><circle cx="914.3" cy="104.2" r="3.0" fill="#fff" stroke="#000" stroke-width="3.0"/><circle cx="922.5" cy="104.9" r="3.0" fill="#fff" stroke="#000" stroke-width="3.0"/><circle cx="930.7" cy="105.6" r="3.0" fill="#fff" stroke="#000" stroke-width="3.0"/><circle cx="939.0" cy="106.3" r="3.0" fill="#fff" stroke="#000" stroke-width="3.0"/><circle cx="947.2" cy="106.9" r="3.0" fill="#fff" stroke="#000" stroke-width="3.0"/><circle cx="955.4" cy="107.5" r="3.0" fill="#fff" stroke="#000" stroke-width="3.0"/><circle cx="963.6" cy="108.1" r="3.0" fill="#fff" stroke="#000" stroke-width="3.0"/><circle cx="971.9" cy="108.6" r="3.0" fill="#fff" stroke="#000" stroke-width="3.0"/><circle cx="980.1" cy="109.0" r="3.0" fill="#fff" stroke="#000" stroke-width="3.0"/><circle cx="988.3" cy="109.5" r="3.0" fill="#fff" stroke="#000" stroke-width="3.0"/><circle cx="996.6" cy="109.9" r="3.0" fill="#fff" stroke="#000" stroke-width="3.0"/></g>
<path d="M667.4 234.8L675.6 225.7L683.9 216.3L692.1 204.3L700.3 193.6L708.5 183.7L716.8 173.7L725.0 164.2L733.2 155.6L741.5 147.0L749.7 138.4L757.9 131.8L766.1 125.2L774.4 119.7L782.6 114.9L790.8 111.5L799.1 106.7L807.3 102.9L815.5 100.7L823.8 99.5L832.0 98.3L840.2 98.9L848.4 99.5L856.7 100.0L864.9 100.9L873.1 101.9L881.4 103.0L889.6 104.0L897.8 105.1L906.0 105.8L914.3 106.5L922.5 107.2L930.7 107.9L939.0 108.6L947.2 109.2L955.4 109.7L963.6 110.3L971.9 110.8L980.1 111.2L988.3 111.6L996.6 112.0" stroke="#f8f545" stroke-width="2.0" fill="none" stroke-linejoin="round" stroke-linecap="round"/>
<g><circle cx="667.4" cy="236.9" r="3.0" fill="#f8f545" stroke="#fff" stroke-width="0.4"/><circle cx="675.6" cy="227.7" r="3.0" fill="#f8f545" stroke="#fff" stroke-width="0.4"/><circle cx="683.9" cy="218.4" r="3.0" fill="#f8f545" stroke="#fff" stroke-width="0.4"/><circle cx="692.1" cy="206.3" r="3.0" fill="#f8f545" stroke="#fff" stroke-width="0.4"/><circle cx="700.3" cy="195.7" r="3.0" fill="#f8f545" stroke="#fff" stroke-width="0.4"/><circle cx="708.5" cy="185.7" r="3.0" fill="#f8f545" stroke="#fff" stroke-width="0.4"/><circle cx="716.8" cy="175.8" r="3.0" fill="#f8f545" stroke="#fff" stroke-width="0.4"/><circle cx="725.0" cy="166.3" r="3.0" fill="#f8f545" stroke="#fff" stroke-width="0.4"/><circle cx="733.2" cy="157.7" r="3.0" fill="#f8f545" stroke="#fff" stroke-width="0.4"/><circle cx="741.5" cy="149.0" r="3.0" fill="#f8f545" stroke="#fff" stroke-width="0.4"/><circle cx="749.7" cy="140.4" r="3.0" fill="#f8f545" stroke="#fff" stroke-width="0.4"/><circle cx="757.9" cy="133.9" r="3.0" fill="#f8f545" stroke="#fff" stroke-width="0.4"/><circle cx="766.1" cy="127.3" r="3.0" fill="#f8f545" stroke="#fff" stroke-width="0.4"/><circle cx="774.4" cy="121.8" r="3.0" fill="#f8f545" stroke="#fff" stroke-width="0.4"/><circle cx="782.6" cy="117.0" r="3.0" fill="#f8f545" stroke="#fff" stroke-width="0.4"/><circle cx="790.8" cy="113.5" r="3.0" fill="#f8f545" stroke="#fff" stroke-width="0.4"/><circle cx="799.1" cy="108.8" r="3.0" fill="#f8f545" stroke="#fff" stroke-width="0.4"/><circle cx="807.3" cy="104.9" r="3.0" fill="#f8f545" stroke="#fff" stroke-width="0.4"/><circle cx="815.5" cy="102.8" r="3.0" fill="#f8f545" stroke="#fff" stroke-width="0.4"/><circle cx="823.8" cy="101.6" r="3.0" fill="#f8f545" stroke="#fff" stroke-width="0.4"/><circle cx="832.0" cy="100.4" r="3.0" fill="#f8f545" stroke="#fff" stroke-width="0.4"/><circle cx="840.2" cy="101.0" r="3.0" fill="#f8f545" stroke="#fff" stroke-width="0.4"/><circle cx="848.4" cy="101.5" r="3.0" fill="#f8f545" stroke="#fff" stroke-width="0.4"/><circle cx="856.7" cy="102.1" r="3.0" fill="#f8f545" stroke="#fff" stroke-width="0.4"/><circle cx="864.9" cy="103.0" r="3.0" fill="#f8f545" stroke="#fff" stroke-width="0.4"/><circle cx="873.1" cy="104.0" r="3.0" fill="#f8f545" stroke="#fff" stroke-width="0.4"/><circle cx="881.4" cy="105.0" r="3.0" fill="#f8f545" stroke="#fff" stroke-width="0.4"/><circle cx="889.6" cy="106.1" r="3.0" fill="#f8f545" stroke="#fff" stroke-width="0.4"/><circle cx="897.8" cy="107.1" r="3.0" fill="#f8f545" stroke="#fff" stroke-width="0.4"/><circle cx="906.0" cy="107.8" r="3.0" fill="#f8f545" stroke="#fff" stroke-width="0.4"/><circle cx="914.3" cy="108.5" r="3.0" fill="#f8f545" stroke="#fff" stroke-width="0.4"/><circle cx="922.5" cy="109.2" r="3.0" fill="#f8f545" stroke="#fff" stroke-width="0.4"/><circle cx="930.7" cy="109.9" r="3.0" fill="#f8f545" stroke="#fff" stroke-width="0.4"/><circle cx="939.0" cy="110.6" r="3.0" fill="#f8f545" stroke="#fff" stroke-width="0.4"/><circle cx="947.2" cy="111.2" r="3.0" fill="#f8f545" stroke="#fff" stroke-width="0.4"/><circle cx="955.4" cy="111.8" r="3.0" fill="#f8f545" stroke="#fff" stroke-width="0.4"/><circle cx="963.6" cy="112.4" r="3.0" fill="#f8f545" stroke="#fff" stroke-width="0.4"/><circle cx="971.9" cy="112.9" r="3.0" fill="#f8f545" stroke="#fff" stroke-width="0.4"/><circle cx="980.1" cy="113.3" r="3.0" fill="#f8f545" stroke="#fff" stroke-width="0.4"/><circle cx="988.3" cy="113.7" r="3.0" fill="#f8f545" stroke="#fff" stroke-width="0.4"/><circle cx="996.6" cy="114.0" r="3.0" fill="#f8f545" stroke="#fff" stroke-width="0.4"/></g>
<g><circle cx="667.4" cy="232.8" r="3.0" fill="#f8f545" stroke="#fff" stroke-width="0.4"/><circle cx="675.6" cy="223.6" r="3.0" fill="#f8f545" stroke="#fff" stroke-width="0.4"/><circle cx="683.9" cy="214.3" r="3.0" fill="#f8f545" stroke="#fff" stroke-width="0.4"/><circle cx="692.1" cy="202.2" r="3.0" fill="#f8f545" stroke="#fff" stroke-width="0.4"/><circle cx="700.3" cy="191.6" r="3.0" fill="#f8f545" stroke="#fff" stroke-width="0.4"/><circle cx="708.5" cy="181.6" r="3.0" fill="#f8f545" stroke="#fff" stroke-width="0.4"/><circle cx="716.8" cy="171.7" r="3.0" fill="#f8f545" stroke="#fff" stroke-width="0.4"/><circle cx="725.0" cy="162.2" r="3.0" fill="#f8f545" stroke="#fff" stroke-width="0.4"/><circle cx="733.2" cy="153.5" r="3.0" fill="#f8f545" stroke="#fff" stroke-width="0.4"/><circle cx="741.5" cy="144.9" r="3.0" fill="#f8f545" stroke="#fff" stroke-width="0.4"/><circle cx="749.7" cy="136.3" r="3.0" fill="#f8f545" stroke="#fff" stroke-width="0.4"/><circle cx="757.9" cy="129.7" r="3.0" fill="#f8f545" stroke="#fff" stroke-width="0.4"/><circle cx="766.1" cy="123.2" r="3.0" fill="#f8f545" stroke="#fff" stroke-width="0.4"/><circle cx="774.4" cy="117.7" r="3.0" fill="#f8f545" stroke="#fff" stroke-width="0.4"/><circle cx="782.6" cy="112.9" r="3.0" fill="#f8f545" stroke="#fff" stroke-width="0.4"/><circle cx="790.8" cy="109.4" r="3.0" fill="#f8f545" stroke="#fff" stroke-width="0.4"/><circle cx="799.1" cy="104.7" r="3.0" fill="#f8f545" stroke="#fff" stroke-width="0.4"/><circle cx="807.3" cy="100.8" r="3.0" fill="#f8f545" stroke="#fff" stroke-width="0.4"/><circle cx="815.5" cy="98.7" r="3.0" fill="#f8f545" stroke="#fff" stroke-width="0.4"/><circle cx="823.8" cy="97.5" r="3.0" fill="#f8f545" stroke="#fff" stroke-width="0.4"/><circle cx="832.0" cy="96.3" r="3.0" fill="#f8f545" stroke="#fff" stroke-width="0.4"/><circle cx="840.2" cy="96.8" r="3.0" fill="#f8f545" stroke="#fff" stroke-width="0.4"/><circle cx="848.4" cy="97.4" r="3.0" fill="#f8f545" stroke="#fff" stroke-width="0.4"/><circle cx="856.7" cy="98.0" r="3.0" fill="#f8f545" stroke="#fff" stroke-width="0.4"/><circle cx="864.9" cy="98.8" r="3.0" fill="#f8f545" stroke="#fff" stroke-width="0.4"/><circle cx="873.1" cy="99.9" r="3.0" fill="#f8f545" stroke="#fff" stroke-width="0.4"/><circle cx="881.4" cy="100.9" r="3.0" fill="#f8f545" stroke="#fff" stroke-width="0.4"/><circle cx="889.6" cy="102.0" r="3.0" fill="#f8f545" stroke="#fff" stroke-width="0.4"/><circle cx="897.8" cy="103.0" r="3.0" fill="#f8f545" stroke="#fff" stroke-width="0.4"/><circle cx="906.0" cy="103.7" r="3.0" fill="#f8f545" stroke="#fff" stroke-width="0.4"/><circle cx="914.3" cy="104.4" r="3.0" fill="#f8f545" stroke="#fff" stroke-width="0.4"/><circle cx="922.5" cy="105.1" r="3.0" fill="#f8f545" stroke="#fff" stroke-width="0.4"/><circle cx="930.7" cy="105.8" r="3.0" fill="#f8f545" stroke="#fff" stroke-width="0.4"/><circle cx="939.0" cy="106.5" r="3.0" fill="#f8f545" stroke="#fff" stroke-width="0.4"/><circle cx="947.2" cy="107.1" r="3.0" fill="#f8f545" stroke="#fff" stroke-width="0.4"/><circle cx="955.4" cy="107.7" r="3.0" fill="#f8f545" stroke="#fff" stroke-width="0.4"/><circle cx="963.6" cy="108.2" r="3.0" fill="#f8f545" stroke="#fff" stroke-width="0.4"/><circle cx="971.9" cy="108.8" r="3.0" fill="#f8f545" stroke="#fff" stroke-width="0.4"/><circle cx="980.1" cy="109.1" r="3.0" fill="#f8f545" stroke="#fff" stroke-width="0.4"/><circle cx="988.3" cy="109.5" r="3.0" fill="#f8f545" stroke="#fff" stroke-width="0.4"/><circle cx="996.6" cy="109.9" r="3.0" fill="#f8f545" stroke="#fff" stroke-width="0.4"/></g>
<path d="M667.4 234.8L675.6 225.8L683.9 215.9L692.1 206.0L700.3 196.5L708.5 187.3L716.8 178.0L725.0 169.1L733.2 160.8L741.5 152.0L749.7 143.0L757.9 136.1L766.1 129.2L774.4 124.4L782.6 120.5L790.8 118.7L799.1 116.8L807.3 115.5L815.5 115.2L823.8 115.0L832.0 114.8L840.2 115.3L848.4 115.7L856.7 116.2L864.9 117.0L873.1 117.9L881.4 118.9L889.6 119.8L897.8 120.8L906.0 121.5L914.3 122.3L922.5 123.0L930.7 123.8L939.0 124.5L947.2 125.3L955.4 126.1L963.6 126.9L971.9 127.6L980.1 128.2L988.3 128.8L996.6 129.4" stroke="#cf12d0" stroke-width="2.0" fill="none" stroke-linejoin="round" stroke-linecap="round"/>
<g><circle cx="667.4" cy="236.3" r="3.0" fill="#cf12d0" stroke="#fff" stroke-width="0.4"/><circle cx="675.6" cy="227.3" r="3.0" fill="#cf12d0" stroke="#fff" stroke-width="0.4"/><circle cx="683.9" cy="217.4" r="3.0" fill="#cf12d0" stroke="#fff" stroke-width="0.4"/><circle cx="692.1" cy="207.5" r="3.0" fill="#cf12d0" stroke="#fff" stroke-width="0.4"/><circle cx="700.3" cy="198.0" r="3.0" fill="#cf12d0" stroke="#fff" stroke-width="0.4"/><circle cx="708.5" cy="188.8" r="3.0" fill="#cf12d0" stroke="#fff" stroke-width="0.4"/><circle cx="716.8" cy="179.5" r="3.0" fill="#cf12d0" stroke="#fff" stroke-width="0.4"/><circle cx="725.0" cy="170.6" r="3.0" fill="#cf12d0" stroke="#fff" stroke-width="0.4"/><circle cx="733.2" cy="162.3" r="3.0" fill="#cf12d0" stroke="#fff" stroke-width="0.4"/><circle cx="741.5" cy="153.5" r="3.0" fill="#cf12d0" stroke="#fff" stroke-width="0.4"/><circle cx="749.7" cy="144.5" r="3.0" fill="#cf12d0" stroke="#fff" stroke-width="0.4"/><circle cx="757.9" cy="137.6" r="3.0" fill="#cf12d0" stroke="#fff" stroke-width="0.4"/><circle cx="766.1" cy="130.7" r="3.0" fill="#cf12d0" stroke="#fff" stroke-width="0.4"/><circle cx="774.4" cy="125.9" r="3.0" fill="#cf12d0" stroke="#fff" stroke-width="0.4"/><circle cx="782.6" cy="122.0" r="3.0" fill="#cf12d0" stroke="#fff" stroke-width="0.4"/><circle cx="790.8" cy="120.2" r="3.0" fill="#cf12d0" stroke="#fff" stroke-width="0.4"/><circle cx="799.1" cy="118.3" r="3.0" fill="#cf12d0" stroke="#fff" stroke-width="0.4"/><circle cx="807.3" cy="117.0" r="3.0" fill="#cf12d0" stroke="#fff" stroke-width="0.4"/><circle cx="815.5" cy="116.7" r="3.0" fill="#cf12d0" stroke="#fff" stroke-width="0.4"/><circle cx="823.8" cy="116.5" r="3.0" fill="#cf12d0" stroke="#fff" stroke-width="0.4"/><circle cx="832.0" cy="116.3" r="3.0" fill="#cf12d0" stroke="#fff" stroke-width="0.4"/><circle cx="840.2" cy="116.8" r="3.0" fill="#cf12d0" stroke="#fff" stroke-width="0.4"/><circle cx="848.4" cy="117.2" r="3.0" fill="#cf12d0" stroke="#fff" stroke-width="0.4"/><circle cx="856.7" cy="117.7" r="3.0" fill="#cf12d0" stroke="#fff" stroke-width="0.4"/><circle cx="864.9" cy="118.5" r="3.0" fill="#cf12d0" stroke="#fff" stroke-width="0.4"/><circle cx="873.1" cy="119.4" r="3.0" fill="#cf12d0" stroke="#fff" stroke-width="0.4"/><circle cx="881.4" cy="120.4" r="3.0" fill="#cf12d0" stroke="#fff" stroke-width="0.4"/><circle cx="889.6" cy="121.3" r="3.0" fill="#cf12d0" stroke="#fff" stroke-width="0.4"/><circle cx="897.8" cy="122.3" r="3.0" fill="#cf12d0" stroke="#fff" stroke-width="0.4"/><circle cx="906.0" cy="123.0" r="3.0" fill="#cf12d0" stroke="#fff" stroke-width="0.4"/><circle cx="914.3" cy="123.8" r="3.0" fill="#cf12d0" stroke="#fff" stroke-width="0.4"/><circle cx="922.5" cy="124.5" r="3.0" fill="#cf12d0" stroke="#fff" stroke-width="0.4"/><circle cx="930.7" cy="125.3" r="3.0" fill="#cf12d0" stroke="#fff" stroke-width="0.4"/><circle cx="939.0" cy="126.0" r="3.0" fill="#cf12d0" stroke="#fff" stroke-width="0.4"/><circle cx="947.2" cy="126.8" r="3.0" fill="#cf12d0" stroke="#fff" stroke-width="0.4"/><circle cx="955.4" cy="127.6" r="3.0" fill="#cf12d0" stroke="#fff" stroke-width="0.4"/><circle cx="963.6" cy="128.4" r="3.0" fill="#cf12d0" stroke="#fff" stroke-width="0.4"/><circle cx="971.9" cy="129.1" r="3.0" fill="#cf12d0" stroke="#fff" stroke-width="0.4"/><circle cx="980.1" cy="129.7" r="3.0" fill="#cf12d0" stroke="#fff" stroke-width="0.4"/><circle cx="988.3" cy="130.3" r="3.0" fill="#cf12d0" stroke="#fff" stroke-width="0.4"/><circle cx="996.6" cy="130.9" r="3.0" fill="#cf12d0" stroke="#fff" stroke-width="0.4"/></g>
<g><circle cx="667.4" cy="233.4" r="3.0" fill="#cf12d0" stroke="#fff" stroke-width="0.4"/><circle cx="675.6" cy="224.3" r="3.0" fill="#cf12d0" stroke="#fff" stroke-width="0.4"/><circle cx="683.9" cy="214.4" r="3.0" fill="#cf12d0" stroke="#fff" stroke-width="0.4"/><circle cx="692.1" cy="204.5" r="3.0" fill="#cf12d0" stroke="#fff" stroke-width="0.4"/><circle cx="700.3" cy="195.0" r="3.0" fill="#cf12d0" stroke="#fff" stroke-width="0.4"/><circle cx="708.5" cy="185.8" r="3.0" fill="#cf12d0" stroke="#fff" stroke-width="0.4"/><circle cx="716.8" cy="176.6" r="3.0" fill="#cf12d0" stroke="#fff" stroke-width="0.4"/><circle cx="725.0" cy="167.6" r="3.0" fill="#cf12d0" stroke="#fff" stroke-width="0.4"/><circle cx="733.2" cy="159.3" r="3.0" fill="#cf12d0" stroke="#fff" stroke-width="0.4"/><circle cx="741.5" cy="150.5" r="3.0" fill="#cf12d0" stroke="#fff" stroke-width="0.4"/><circle cx="749.7" cy="141.5" r="3.0" fill="#cf12d0" stroke="#fff" stroke-width="0.4"/><circle cx="757.9" cy="134.6" r="3.0" fill="#cf12d0" stroke="#fff" stroke-width="0.4"/><circle cx="766.1" cy="127.7" r="3.0" fill="#cf12d0" stroke="#fff" stroke-width="0.4"/><circle cx="774.4" cy="122.9" r="3.0" fill="#cf12d0" stroke="#fff" stroke-width="0.4"/><circle cx="782.6" cy="119.0" r="3.0" fill="#cf12d0" stroke="#fff" stroke-width="0.4"/><circle cx="790.8" cy="117.2" r="3.0" fill="#cf12d0" stroke="#fff" stroke-width="0.4"/><circle cx="799.1" cy="115.3" r="3.0" fill="#cf12d0" stroke="#fff" stroke-width="0.4"/><circle cx="807.3" cy="114.0" r="3.0" fill="#cf12d0" stroke="#fff" stroke-width="0.4"/><circle cx="815.5" cy="113.7" r="3.0" fill="#cf12d0" stroke="#fff" stroke-width="0.4"/><circle cx="823.8" cy="113.5" r="3.0" fill="#cf12d0" stroke="#fff" stroke-width="0.4"/><circle cx="832.0" cy="113.3" r="3.0" fill="#cf12d0" stroke="#fff" stroke-width="0.4"/><circle cx="840.2" cy="113.8" r="3.0" fill="#cf12d0" stroke="#fff" stroke-width="0.4"/><circle cx="848.4" cy="114.2" r="3.0" fill="#cf12d0" stroke="#fff" stroke-width="0.4"/><circle cx="856.7" cy="114.7" r="3.0" fill="#cf12d0" stroke="#fff" stroke-width="0.4"/><circle cx="864.9" cy="115.5" r="3.0" fill="#cf12d0" stroke="#fff" stroke-width="0.4"/><circle cx="873.1" cy="116.4" r="3.0" fill="#cf12d0" stroke="#fff" stroke-width="0.4"/><circle cx="881.4" cy="117.4" r="3.0" fill="#cf12d0" stroke="#fff" stroke-width="0.4"/><circle cx="889.6" cy="118.3" r="3.0" fill="#cf12d0" stroke="#fff" stroke-width="0.4"/><circle cx="897.8" cy="119.3" r="3.0" fill="#cf12d0" stroke="#fff" stroke-width="0.4"/><circle cx="906.0" cy="120.0" r="3.0" fill="#cf12d0" stroke="#fff" stroke-width="0.4"/><circle cx="914.3" cy="120.8" r="3.0" fill="#cf12d0" stroke="#fff" stroke-width="0.4"/><circle cx="922.5" cy="121.5" r="3.0" fill="#cf12d0" stroke="#fff" stroke-width="0.4"/><circle cx="930.7" cy="122.3" r="3.0" fill="#cf12d0" stroke="#fff" stroke-width="0.4"/><circle cx="939.0" cy="123.0" r="3.0" fill="#cf12d0" stroke="#fff" stroke-width="0.4"/><circle cx="947.2" cy="123.8" r="3.0" fill="#cf12d0" stroke="#fff" stroke-width="0.4"/><circle cx="955.4" cy="124.6" r="3.0" fill="#cf12d0" stroke="#fff" stroke-width="0.4"/><circle cx="963.6" cy="125.4" r="3.0" fill="#cf12d0" stroke="#fff" stroke-width="0.4"/><circle cx="971.9" cy="126.1" r="3.0" fill="#cf12d0" stroke="#fff" stroke-width="0.4"/><circle cx="980.1" cy="126.7" r="3.0" fill="#cf12d0" stroke="#fff" stroke-width="0.4"/><circle cx="988.3" cy="127.3" r="3.0" fill="#cf12d0" stroke="#fff" stroke-width="0.4"/><circle cx="996.6" cy="127.9" r="3.0" fill="#cf12d0" stroke="#fff" stroke-width="0.4"/></g>
<path d="M667.4 231.1L675.6 221.4L683.9 210.8L692.1 200.2L700.3 190.5L708.5 181.2L716.8 171.9L725.0 162.9L733.2 154.4L741.5 146.0L749.7 137.6L757.9 131.3L766.1 124.9L774.4 120.6L782.6 117.2L790.8 115.3L799.1 113.4L807.3 112.1L815.5 111.9L823.8 111.7L832.0 111.4L840.2 112.0L848.4 112.6L856.7 113.1L864.9 114.0L873.1 115.0L881.4 116.1L889.6 117.1L897.8 118.2L906.0 119.0L914.3 119.8L922.5 120.7L930.7 121.5L939.0 122.4L947.2 123.2L955.4 124.1L963.6 125.0L971.9 125.9L980.1 126.5L988.3 127.2L996.6 127.9" stroke="#3af0f2" stroke-width="2.0" fill="none" stroke-linejoin="round" stroke-linecap="round"/>
<g><circle cx="667.4" cy="233.0" r="3.0" fill="#3af0f2" stroke="#fff" stroke-width="0.4"/><circle cx="675.6" cy="223.3" r="3.0" fill="#3af0f2" stroke="#fff" stroke-width="0.4"/><circle cx="683.9" cy="212.7" r="3.0" fill="#3af0f2" stroke="#fff" stroke-width="0.4"/><circle cx="692.1" cy="202.1" r="3.0" fill="#3af0f2" stroke="#fff" stroke-width="0.4"/><circle cx="700.3" cy="192.4" r="3.0" fill="#3af0f2" stroke="#fff" stroke-width="0.4"/><circle cx="708.5" cy="183.0" r="3.0" fill="#3af0f2" stroke="#fff" stroke-width="0.4"/><circle cx="716.8" cy="173.7" r="3.0" fill="#3af0f2" stroke="#fff" stroke-width="0.4"/><circle cx="725.0" cy="164.7" r="3.0" fill="#3af0f2" stroke="#fff" stroke-width="0.4"/><circle cx="733.2" cy="156.3" r="3.0" fill="#3af0f2" stroke="#fff" stroke-width="0.4"/><circle cx="741.5" cy="147.9" r="3.0" fill="#3af0f2" stroke="#fff" stroke-width="0.4"/><circle cx="749.7" cy="139.5" r="3.0" fill="#3af0f2" stroke="#fff" stroke-width="0.4"/><circle cx="757.9" cy="133.1" r="3.0" fill="#3af0f2" stroke="#fff" stroke-width="0.4"/><circle cx="766.1" cy="126.8" r="3.0" fill="#3af0f2" stroke="#fff" stroke-width="0.4"/><circle cx="774.4" cy="122.5" r="3.0" fill="#3af0f2" stroke="#fff" stroke-width="0.4"/><circle cx="782.6" cy="119.1" r="3.0" fill="#3af0f2" stroke="#fff" stroke-width="0.4"/><circle cx="790.8" cy="117.4" r="3.0" fill="#3af0f2" stroke="#fff" stroke-width="0.4"/><circle cx="799.1" cy="115.7" r="3.0" fill="#3af0f2" stroke="#fff" stroke-width="0.4"/><circle cx="807.3" cy="114.6" r="3.0" fill="#3af0f2" stroke="#fff" stroke-width="0.4"/><circle cx="815.5" cy="114.5" r="3.0" fill="#3af0f2" stroke="#fff" stroke-width="0.4"/><circle cx="823.8" cy="114.5" r="3.0" fill="#3af0f2" stroke="#fff" stroke-width="0.4"/><circle cx="832.0" cy="114.4" r="3.0" fill="#3af0f2" stroke="#fff" stroke-width="0.4"/><circle cx="840.2" cy="114.9" r="3.0" fill="#3af0f2" stroke="#fff" stroke-width="0.4"/><circle cx="848.4" cy="115.4" r="3.0" fill="#3af0f2" stroke="#fff" stroke-width="0.4"/><circle cx="856.7" cy="115.9" r="3.0" fill="#3af0f2" stroke="#fff" stroke-width="0.4"/><circle cx="864.9" cy="116.8" r="3.0" fill="#3af0f2" stroke="#fff" stroke-width="0.4"/><circle cx="873.1" cy="117.7" r="3.0" fill="#3af0f2" stroke="#fff" stroke-width="0.4"/><circle cx="881.4" cy="118.7" r="3.0" fill="#3af0f2" stroke="#fff" stroke-width="0.4"/><circle cx="889.6" cy="119.7" r="3.0" fill="#3af0f2" stroke="#fff" stroke-width="0.4"/><circle cx="897.8" cy="120.7" r="3.0" fill="#3af0f2" stroke="#fff" stroke-width="0.4"/><circle cx="906.0" cy="121.5" r="3.0" fill="#3af0f2" stroke="#fff" stroke-width="0.4"/><circle cx="914.3" cy="122.3" r="3.0" fill="#3af0f2" stroke="#fff" stroke-width="0.4"/><circle cx="922.5" cy="123.1" r="3.0" fill="#3af0f2" stroke="#fff" stroke-width="0.4"/><circle cx="930.7" cy="123.8" r="3.0" fill="#3af0f2" stroke="#fff" stroke-width="0.4"/><circle cx="939.0" cy="124.6" r="3.0" fill="#3af0f2" stroke="#fff" stroke-width="0.4"/><circle cx="947.2" cy="125.5" r="3.0" fill="#3af0f2" stroke="#fff" stroke-width="0.4"/><circle cx="955.4" cy="126.3" r="3.0" fill="#3af0f2" stroke="#fff" stroke-width="0.4"/><circle cx="963.6" cy="127.1" r="3.0" fill="#3af0f2" stroke="#fff" stroke-width="0.4"/><circle cx="971.9" cy="127.9" r="3.0" fill="#3af0f2" stroke="#fff" stroke-width="0.4"/><circle cx="980.1" cy="128.5" r="3.0" fill="#3af0f2" stroke="#fff" stroke-width="0.4"/><circle cx="988.3" cy="129.1" r="3.0" fill="#3af0f2" stroke="#fff" stroke-width="0.4"/><circle cx="996.6" cy="129.8" r="3.0" fill="#3af0f2" stroke="#fff" stroke-width="0.4"/></g>
<g><circle cx="667.4" cy="229.2" r="3.0" fill="#3af0f2" stroke="#fff" stroke-width="0.4"/><circle cx="675.6" cy="219.5" r="3.0" fill="#3af0f2" stroke="#fff" stroke-width="0.4"/><circle cx="683.9" cy="208.9" r="3.0" fill="#3af0f2" stroke="#fff" stroke-width="0.4"/><circle cx="692.1" cy="198.4" r="3.0" fill="#3af0f2" stroke="#fff" stroke-width="0.4"/><circle cx="700.3" cy="188.6" r="3.0" fill="#3af0f2" stroke="#fff" stroke-width="0.4"/><circle cx="708.5" cy="179.3" r="3.0" fill="#3af0f2" stroke="#fff" stroke-width="0.4"/><circle cx="716.8" cy="170.0" r="3.0" fill="#3af0f2" stroke="#fff" stroke-width="0.4"/><circle cx="725.0" cy="161.0" r="3.0" fill="#3af0f2" stroke="#fff" stroke-width="0.4"/><circle cx="733.2" cy="152.6" r="3.0" fill="#3af0f2" stroke="#fff" stroke-width="0.4"/><circle cx="741.5" cy="144.2" r="3.0" fill="#3af0f2" stroke="#fff" stroke-width="0.4"/><circle cx="749.7" cy="135.7" r="3.0" fill="#3af0f2" stroke="#fff" stroke-width="0.4"/><circle cx="757.9" cy="129.4" r="3.0" fill="#3af0f2" stroke="#fff" stroke-width="0.4"/><circle cx="766.1" cy="123.0" r="3.0" fill="#3af0f2" stroke="#fff" stroke-width="0.4"/><circle cx="774.4" cy="118.8" r="3.0" fill="#3af0f2" stroke="#fff" stroke-width="0.4"/><circle cx="782.6" cy="115.2" r="3.0" fill="#3af0f2" stroke="#fff" stroke-width="0.4"/><circle cx="790.8" cy="113.2" r="3.0" fill="#3af0f2" stroke="#fff" stroke-width="0.4"/><circle cx="799.1" cy="111.1" r="3.0" fill="#3af0f2" stroke="#fff" stroke-width="0.4"/><circle cx="807.3" cy="109.6" r="3.0" fill="#3af0f2" stroke="#fff" stroke-width="0.4"/><circle cx="815.5" cy="109.2" r="3.0" fill="#3af0f2" stroke="#fff" stroke-width="0.4"/><circle cx="823.8" cy="108.8" r="3.0" fill="#3af0f2" stroke="#fff" stroke-width="0.4"/><circle cx="832.0" cy="108.4" r="3.0" fill="#3af0f2" stroke="#fff" stroke-width="0.4"/><circle cx="840.2" cy="109.1" r="3.0" fill="#3af0f2" stroke="#fff" stroke-width="0.4"/><circle cx="848.4" cy="109.7" r="3.0" fill="#3af0f2" stroke="#fff" stroke-width="0.4"/><circle cx="856.7" cy="110.3" r="3.0" fill="#3af0f2" stroke="#fff" stroke-width="0.4"/><circle cx="864.9" cy="111.2" r="3.0" fill="#3af0f2" stroke="#fff" stroke-width="0.4"/><circle cx="873.1" cy="112.3" r="3.0" fill="#3af0f2" stroke="#fff" stroke-width="0.4"/><circle cx="881.4" cy="113.4" r="3.0" fill="#3af0f2" stroke="#fff" stroke-width="0.4"/><circle cx="889.6" cy="114.5" r="3.0" fill="#3af0f2" stroke="#fff" stroke-width="0.4"/><circle cx="897.8" cy="115.6" r="3.0" fill="#3af0f2" stroke="#fff" stroke-width="0.4"/><circle cx="906.0" cy="116.5" r="3.0" fill="#3af0f2" stroke="#fff" stroke-width="0.4"/><circle cx="914.3" cy="117.4" r="3.0" fill="#3af0f2" stroke="#fff" stroke-width="0.4"/><circle cx="922.5" cy="118.3" r="3.0" fill="#3af0f2" stroke="#fff" stroke-width="0.4"/><circle cx="930.7" cy="119.2" r="3.0" fill="#3af0f2" stroke="#fff" stroke-width="0.4"/><circle cx="939.0" cy="120.1" r="3.0" fill="#3af0f2" stroke="#fff" stroke-width="0.4"/><circle cx="947.2" cy="121.0" r="3.0" fill="#3af0f2" stroke="#fff" stroke-width="0.4"/><circle cx="955.4" cy="122.0" r="3.0" fill="#3af0f2" stroke="#fff" stroke-width="0.4"/><circle cx="963.6" cy="122.9" r="3.0" fill="#3af0f2" stroke="#fff" stroke-width="0.4"/><circle cx="971.9" cy="123.8" r="3.0" fill="#3af0f2" stroke="#fff" stroke-width="0.4"/><circle cx="980.1" cy="124.6" r="3.0" fill="#3af0f2" stroke="#fff" stroke-width="0.4"/><circle cx="988.3" cy="125.3" r="3.0" fill="#3af0f2" stroke="#fff" stroke-width="0.4"/><circle cx="996.6" cy="126.0" r="3.0" fill="#3af0f2" stroke="#fff" stroke-width="0.4"/></g>
<g><circle cx="906.0" cy="113.5" r="2.0" fill="#7d0c10"/><circle cx="914.3" cy="114.4" r="2.0" fill="#7d0c10"/><circle cx="922.5" cy="115.3" r="2.0" fill="#7d0c10"/><circle cx="930.7" cy="116.2" r="2.0" fill="#7d0c10"/><circle cx="939.0" cy="117.1" r="2.0" fill="#7d0c10"/><circle cx="947.2" cy="117.9" r="2.0" fill="#7d0c10"/><circle cx="955.4" cy="118.5" r="2.0" fill="#7d0c10"/><circle cx="963.6" cy="119.2" r="2.0" fill="#7d0c10"/><circle cx="971.9" cy="119.8" r="2.0" fill="#7d0c10"/><circle cx="980.1" cy="120.4" r="2.0" fill="#7d0c10"/><circle cx="988.3" cy="121.0" r="2.0" fill="#7d0c10"/><circle cx="996.6" cy="121.5" r="2.0" fill="#7d0c10"/></g>
<g><circle cx="906.0" cy="112.7" r="2.0" fill="#7d0c10"/><circle cx="914.3" cy="113.6" r="2.0" fill="#7d0c10"/><circle cx="922.5" cy="114.5" r="2.0" fill="#7d0c10"/><circle cx="930.7" cy="115.4" r="2.0" fill="#7d0c10"/><circle cx="939.0" cy="116.4" r="2.0" fill="#7d0c10"/><circle cx="947.2" cy="117.1" r="2.0" fill="#7d0c10"/><circle cx="955.4" cy="117.8" r="2.0" fill="#7d0c10"/><circle cx="963.6" cy="118.5" r="2.0" fill="#7d0c10"/><circle cx="971.9" cy="119.1" r="2.0" fill="#7d0c10"/><circle cx="980.1" cy="119.7" r="2.0" fill="#7d0c10"/><circle cx="988.3" cy="120.2" r="2.0" fill="#7d0c10"/><circle cx="996.6" cy="120.8" r="2.0" fill="#7d0c10"/></g>
<path d="M667.4 225.5L675.6 216.1L683.9 205.6L692.1 195.0L700.3 185.5L708.5 176.5L716.8 167.5L725.0 158.9L733.2 150.8L741.5 142.7L749.7 134.6L757.9 127.7L766.1 120.8L774.4 115.8L782.6 111.6L790.8 108.7L799.1 105.9L807.3 103.8L815.5 103.3L823.8 102.8L832.0 102.3L840.2 102.8L848.4 103.3L856.7 103.8L864.9 104.7L873.1 105.8L881.4 106.9L889.6 108.1L897.8 109.2L906.0 110.1L914.3 111.0L922.5 111.9L930.7 112.8L939.0 113.7L947.2 114.5L955.4 115.2L963.6 115.8L971.9 116.5L980.1 117.0L988.3 117.6L996.6 118.2" stroke="#d4d4d4" stroke-width="2.0" fill="none" stroke-linejoin="round" stroke-linecap="round"/>
<g><circle cx="667.4" cy="228.1" r="3.0" fill="#d4d4d4" stroke="#fff" stroke-width="0.4"/><circle cx="675.6" cy="218.7" r="3.0" fill="#d4d4d4" stroke="#fff" stroke-width="0.4"/><circle cx="683.9" cy="208.1" r="3.0" fill="#d4d4d4" stroke="#fff" stroke-width="0.4"/><circle cx="692.1" cy="197.5" r="3.0" fill="#d4d4d4" stroke="#fff" stroke-width="0.4"/><circle cx="700.3" cy="188.0" r="3.0" fill="#d4d4d4" stroke="#fff" stroke-width="0.4"/><circle cx="708.5" cy="179.0" r="3.0" fill="#d4d4d4" stroke="#fff" stroke-width="0.4"/><circle cx="716.8" cy="170.0" r="3.0" fill="#d4d4d4" stroke="#fff" stroke-width="0.4"/><circle cx="725.0" cy="161.3" r="3.0" fill="#d4d4d4" stroke="#fff" stroke-width="0.4"/><circle cx="733.2" cy="153.2" r="3.0" fill="#d4d4d4" stroke="#fff" stroke-width="0.4"/><circle cx="741.5" cy="144.9" r="3.0" fill="#d4d4d4" stroke="#fff" stroke-width="0.4"/><circle cx="749.7" cy="136.5" r="3.0" fill="#d4d4d4" stroke="#fff" stroke-width="0.4"/><circle cx="757.9" cy="129.3" r="3.0" fill="#d4d4d4" stroke="#fff" stroke-width="0.4"/><circle cx="766.1" cy="122.1" r="3.0" fill="#d4d4d4" stroke="#fff" stroke-width="0.4"/><circle cx="774.4" cy="116.8" r="3.0" fill="#d4d4d4" stroke="#fff" stroke-width="0.4"/><circle cx="782.6" cy="112.3" r="3.0" fill="#d4d4d4" stroke="#fff" stroke-width="0.4"/><circle cx="790.8" cy="109.4" r="3.0" fill="#d4d4d4" stroke="#fff" stroke-width="0.4"/><circle cx="799.1" cy="106.5" r="3.0" fill="#d4d4d4" stroke="#fff" stroke-width="0.4"/><circle cx="807.3" cy="104.4" r="3.0" fill="#d4d4d4" stroke="#fff" stroke-width="0.4"/><circle cx="815.5" cy="103.9" r="3.0" fill="#d4d4d4" stroke="#fff" stroke-width="0.4"/><circle cx="823.8" cy="103.4" r="3.0" fill="#d4d4d4" stroke="#fff" stroke-width="0.4"/><circle cx="832.0" cy="102.8" r="3.0" fill="#d4d4d4" stroke="#fff" stroke-width="0.4"/><circle cx="840.2" cy="103.3" r="3.0" fill="#d4d4d4" stroke="#fff" stroke-width="0.4"/><circle cx="848.4" cy="103.8" r="3.0" fill="#d4d4d4" stroke="#fff" stroke-width="0.4"/><circle cx="856.7" cy="104.3" r="3.0" fill="#d4d4d4" stroke="#fff" stroke-width="0.4"/><circle cx="864.9" cy="105.2" r="3.0" fill="#d4d4d4" stroke="#fff" stroke-width="0.4"/><circle cx="873.1" cy="106.3" r="3.0" fill="#d4d4d4" stroke="#fff" stroke-width="0.4"/><circle cx="881.4" cy="107.4" r="3.0" fill="#d4d4d4" stroke="#fff" stroke-width="0.4"/><circle cx="889.6" cy="108.5" r="3.0" fill="#d4d4d4" stroke="#fff" stroke-width="0.4"/><circle cx="897.8" cy="109.6" r="3.0" fill="#d4d4d4" stroke="#fff" stroke-width="0.4"/><circle cx="906.0" cy="110.5" r="3.0" fill="#d4d4d4" stroke="#fff" stroke-width="0.4"/><circle cx="914.3" cy="111.4" r="3.0" fill="#d4d4d4" stroke="#fff" stroke-width="0.4"/><circle cx="922.5" cy="112.3" r="3.0" fill="#d4d4d4" stroke="#fff" stroke-width="0.4"/><circle cx="930.7" cy="113.2" r="3.0" fill="#d4d4d4" stroke="#fff" stroke-width="0.4"/><circle cx="939.0" cy="114.1" r="3.0" fill="#d4d4d4" stroke="#fff" stroke-width="0.4"/><circle cx="947.2" cy="114.8" r="3.0" fill="#d4d4d4" stroke="#fff" stroke-width="0.4"/><circle cx="955.4" cy="115.4" r="3.0" fill="#d4d4d4" stroke="#fff" stroke-width="0.4"/><circle cx="963.6" cy="116.1" r="3.0" fill="#d4d4d4" stroke="#fff" stroke-width="0.4"/><circle cx="971.9" cy="116.7" r="3.0" fill="#d4d4d4" stroke="#fff" stroke-width="0.4"/><circle cx="980.1" cy="117.3" r="3.0" fill="#d4d4d4" stroke="#fff" stroke-width="0.4"/><circle cx="988.3" cy="117.8" r="3.0" fill="#d4d4d4" stroke="#fff" stroke-width="0.4"/><circle cx="996.6" cy="118.3" r="3.0" fill="#d4d4d4" stroke="#fff" stroke-width="0.4"/></g>
<g><circle cx="667.4" cy="222.9" r="3.0" fill="#d4d4d4" stroke="#fff" stroke-width="0.4"/><circle cx="675.6" cy="213.6" r="3.0" fill="#d4d4d4" stroke="#fff" stroke-width="0.4"/><circle cx="683.9" cy="203.0" r="3.0" fill="#d4d4d4" stroke="#fff" stroke-width="0.4"/><circle cx="692.1" cy="192.4" r="3.0" fill="#d4d4d4" stroke="#fff" stroke-width="0.4"/><circle cx="700.3" cy="183.0" r="3.0" fill="#d4d4d4" stroke="#fff" stroke-width="0.4"/><circle cx="708.5" cy="174.0" r="3.0" fill="#d4d4d4" stroke="#fff" stroke-width="0.4"/><circle cx="716.8" cy="165.0" r="3.0" fill="#d4d4d4" stroke="#fff" stroke-width="0.4"/><circle cx="725.0" cy="156.4" r="3.0" fill="#d4d4d4" stroke="#fff" stroke-width="0.4"/><circle cx="733.2" cy="148.3" r="3.0" fill="#d4d4d4" stroke="#fff" stroke-width="0.4"/><circle cx="741.5" cy="140.5" r="3.0" fill="#d4d4d4" stroke="#fff" stroke-width="0.4"/><circle cx="749.7" cy="132.7" r="3.0" fill="#d4d4d4" stroke="#fff" stroke-width="0.4"/><circle cx="757.9" cy="126.1" r="3.0" fill="#d4d4d4" stroke="#fff" stroke-width="0.4"/><circle cx="766.1" cy="119.5" r="3.0" fill="#d4d4d4" stroke="#fff" stroke-width="0.4"/><circle cx="774.4" cy="114.9" r="3.0" fill="#d4d4d4" stroke="#fff" stroke-width="0.4"/><circle cx="782.6" cy="110.9" r="3.0" fill="#d4d4d4" stroke="#fff" stroke-width="0.4"/><circle cx="790.8" cy="108.0" r="3.0" fill="#d4d4d4" stroke="#fff" stroke-width="0.4"/><circle cx="799.1" cy="105.2" r="3.0" fill="#d4d4d4" stroke="#fff" stroke-width="0.4"/><circle cx="807.3" cy="103.1" r="3.0" fill="#d4d4d4" stroke="#fff" stroke-width="0.4"/><circle cx="815.5" cy="102.7" r="3.0" fill="#d4d4d4" stroke="#fff" stroke-width="0.4"/><circle cx="823.8" cy="102.2" r="3.0" fill="#d4d4d4" stroke="#fff" stroke-width="0.4"/><circle cx="832.0" cy="101.7" r="3.0" fill="#d4d4d4" stroke="#fff" stroke-width="0.4"/><circle cx="840.2" cy="102.2" r="3.0" fill="#d4d4d4" stroke="#fff" stroke-width="0.4"/><circle cx="848.4" cy="102.8" r="3.0" fill="#d4d4d4" stroke="#fff" stroke-width="0.4"/><circle cx="856.7" cy="103.3" r="3.0" fill="#d4d4d4" stroke="#fff" stroke-width="0.4"/><circle cx="864.9" cy="104.2" r="3.0" fill="#d4d4d4" stroke="#fff" stroke-width="0.4"/><circle cx="873.1" cy="105.4" r="3.0" fill="#d4d4d4" stroke="#fff" stroke-width="0.4"/><circle cx="881.4" cy="106.5" r="3.0" fill="#d4d4d4" stroke="#fff" stroke-width="0.4"/><circle cx="889.6" cy="107.6" r="3.0" fill="#d4d4d4" stroke="#fff" stroke-width="0.4"/><circle cx="897.8" cy="108.8" r="3.0" fill="#d4d4d4" stroke="#fff" stroke-width="0.4"/><circle cx="906.0" cy="109.7" r="3.0" fill="#d4d4d4" stroke="#fff" stroke-width="0.4"/><circle cx="914.3" cy="110.6" r="3.0" fill="#d4d4d4" stroke="#fff" stroke-width="0.4"/><circle cx="922.5" cy="111.6" r="3.0" fill="#d4d4d4" stroke="#fff" stroke-width="0.4"/><circle cx="930.7" cy="112.5" r="3.0" fill="#d4d4d4" stroke="#fff" stroke-width="0.4"/><circle cx="939.0" cy="113.4" r="3.0" fill="#d4d4d4" stroke="#fff" stroke-width="0.4"/><circle cx="947.2" cy="114.2" r="3.0" fill="#d4d4d4" stroke="#fff" stroke-width="0.4"/><circle cx="955.4" cy="114.9" r="3.0" fill="#d4d4d4" stroke="#fff" stroke-width="0.4"/><circle cx="963.6" cy="115.6" r="3.0" fill="#d4d4d4" stroke="#fff" stroke-width="0.4"/><circle cx="971.9" cy="116.2" r="3.0" fill="#d4d4d4" stroke="#fff" stroke-width="0.4"/><circle cx="980.1" cy="116.8" r="3.0" fill="#d4d4d4" stroke="#fff" stroke-width="0.4"/><circle cx="988.3" cy="117.4" r="3.0" fill="#d4d4d4" stroke="#fff" stroke-width="0.4"/><circle cx="996.6" cy="118.0" r="3.0" fill="#d4d4d4" stroke="#fff" stroke-width="0.4"/></g>
<text transform="translate(109.30 208.30) rotate(-90) scale(1.0104 1)" font-size="45.3" text-anchor="middle">Tumour cell</text>
<text transform="translate(162.50 208.00) rotate(-90) scale(1.006 1)" font-size="45.3" text-anchor="middle">confluency (%nRFP)</text>
<path d="M232.00 574.25V876.55" stroke="#000" stroke-width="3.1" fill="none"/>
<path d="M230.45 875.00H562.76" stroke="#000" stroke-width="3.1" fill="none"/>
<path d="M223.60 875.00H232.00" stroke="#000" stroke-width="2.9" fill="none"/>
<text transform="translate(219.40 885.60) scale(1.01 1)" font-size="34.3" text-anchor="end">0</text>
<path d="M223.60 815.16H232.00" stroke="#000" stroke-width="2.9" fill="none"/>
<text transform="translate(219.40 825.76) scale(1.01 1)" font-size="34.3" text-anchor="end">10</text>
<path d="M223.60 755.32H232.00" stroke="#000" stroke-width="2.9" fill="none"/>
<text transform="translate(219.40 765.92) scale(1.01 1)" font-size="34.3" text-anchor="end">20</text>
<path d="M223.60 695.48H232.00" stroke="#000" stroke-width="2.9" fill="none"/>
<text transform="translate(219.40 706.08) scale(1.01 1)" font-size="34.3" text-anchor="end">30</text>
<path d="M223.60 635.64H232.00" stroke="#000" stroke-width="2.9" fill="none"/>
<text transform="translate(219.40 646.24) scale(1.01 1)" font-size="34.3" text-anchor="end">40</text>
<path d="M223.60 575.80H232.00" stroke="#000" stroke-width="2.9" fill="none"/>
<text transform="translate(219.40 586.40) scale(1.01 1)" font-size="34.3" text-anchor="end">50</text>
<path d="M232.00 875.00V883.00" stroke="#000" stroke-width="2.9" fill="none"/>
<text transform="translate(232.00 919.30) scale(1.01 1)" font-size="34.3" text-anchor="middle">0</text>
<path d="M369.15 875.00V883.00" stroke="#000" stroke-width="2.9" fill="none"/>
<text transform="translate(369.15 919.30) scale(1.01 1)" font-size="34.3" text-anchor="middle">50</text>
<path d="M506.30 875.00V883.00" stroke="#000" stroke-width="2.9" fill="none"/>
<text transform="translate(506.30 919.30) scale(1.01 1)" font-size="34.3" text-anchor="middle">100</text>
<text transform="translate(397.18 976.90) scale(1.03 1)" font-size="45.3" text-anchor="middle">Time (h)</text>
<path d="M667.40 574.25V876.55" stroke="#000" stroke-width="3.1" fill="none"/>
<path d="M665.85 875.00H998.16" stroke="#000" stroke-width="3.1" fill="none"/>
<path d="M659.00 875.00H667.40" stroke="#000" stroke-width="2.9" fill="none"/>
<text transform="translate(654.80 885.60) scale(1.01 1)" font-size="34.3" text-anchor="end">0</text>
<path d="M659.00 800.20H667.40" stroke="#000" stroke-width="2.9" fill="none"/>
<text transform="translate(654.80 810.80) scale(1.01 1)" font-size="34.3" text-anchor="end">20</text>
<path d="M659.00 725.40H667.40" stroke="#000" stroke-width="2.9" fill="none"/>
<text transform="translate(654.80 736.00) scale(1.01 1)" font-size="34.3" text-anchor="end">40</text>
<path d="M659.00 650.60H667.40" stroke="#000" stroke-width="2.9" fill="none"/>
<text transform="translate(654.80 661.20) scale(1.01 1)" font-size="34.3" text-anchor="end">60</text>
<path d="M659.00 575.80H667.40" stroke="#000" stroke-width="2.9" fill="none"/>
<text transform="translate(654.80 586.40) scale(1.01 1)" font-size="34.3" text-anchor="end">80</text>
<path d="M667.40 875.00V883.00" stroke="#000" stroke-width="2.9" fill="none"/>
<text transform="translate(667.40 919.30) scale(1.01 1)" font-size="34.3" text-anchor="middle">0</text>
<path d="M804.55 875.00V883.00" stroke="#000" stroke-width="2.9" fill="none"/>
<text transform="translate(804.55 919.30) scale(1.01 1)" font-size="34.3" text-anchor="middle">50</text>
<path d="M941.70 875.00V883.00" stroke="#000" stroke-width="2.9" fill="none"/>
<text transform="translate(941.70 919.30) scale(1.01 1)" font-size="34.3" text-anchor="middle">100</text>
<text transform="translate(832.58 976.90) scale(1.03 1)" font-size="45.3" text-anchor="middle">Time (h)</text>
<g><circle cx="232.0" cy="708.6" r="3.0" fill="#fff" stroke="#000" stroke-width="3.0"/><circle cx="240.2" cy="713.4" r="3.0" fill="#fff" stroke="#000" stroke-width="3.0"/><circle cx="248.5" cy="707.4" r="3.0" fill="#fff" stroke="#000" stroke-width="3.0"/><circle cx="256.7" cy="704.5" r="3.0" fill="#fff" stroke="#000" stroke-width="3.0"/><circle cx="264.9" cy="701.8" r="3.0" fill="#fff" stroke="#000" stroke-width="3.0"/><circle cx="273.1" cy="697.6" r="3.0" fill="#fff" stroke="#000" stroke-width="3.0"/><circle cx="281.4" cy="693.5" r="3.0" fill="#fff" stroke="#000" stroke-width="3.0"/><circle cx="289.6" cy="689.2" r="3.0" fill="#fff" stroke="#000" stroke-width="3.0"/><circle cx="297.8" cy="684.7" r="3.0" fill="#fff" stroke="#000" stroke-width="3.0"/><circle cx="306.1" cy="680.2" r="3.0" fill="#fff" stroke="#000" stroke-width="3.0"/><circle cx="314.3" cy="675.7" r="3.0" fill="#fff" stroke="#000" stroke-width="3.0"/><circle cx="322.5" cy="670.5" r="3.0" fill="#fff" stroke="#000" stroke-width="3.0"/><circle cx="330.7" cy="665.4" r="3.0" fill="#fff" stroke="#000" stroke-width="3.0"/><circle cx="339.0" cy="660.2" r="3.0" fill="#fff" stroke="#000" stroke-width="3.0"/><circle cx="347.2" cy="655.9" r="3.0" fill="#fff" stroke="#000" stroke-width="3.0"/><circle cx="355.4" cy="651.7" r="3.0" fill="#fff" stroke="#000" stroke-width="3.0"/><circle cx="363.7" cy="647.4" r="3.0" fill="#fff" stroke="#000" stroke-width="3.0"/><circle cx="371.9" cy="643.7" r="3.0" fill="#fff" stroke="#000" stroke-width="3.0"/><circle cx="380.1" cy="641.0" r="3.0" fill="#fff" stroke="#000" stroke-width="3.0"/><circle cx="388.4" cy="638.3" r="3.0" fill="#fff" stroke="#000" stroke-width="3.0"/><circle cx="396.6" cy="635.6" r="3.0" fill="#fff" stroke="#000" stroke-width="3.0"/><circle cx="404.8" cy="632.6" r="3.0" fill="#fff" stroke="#000" stroke-width="3.0"/><circle cx="413.0" cy="629.7" r="3.0" fill="#fff" stroke="#000" stroke-width="3.0"/><circle cx="421.3" cy="627.5" r="3.0" fill="#fff" stroke="#000" stroke-width="3.0"/><circle cx="429.5" cy="625.3" r="3.0" fill="#fff" stroke="#000" stroke-width="3.0"/><circle cx="437.7" cy="623.1" r="3.0" fill="#fff" stroke="#000" stroke-width="3.0"/><circle cx="446.0" cy="621.0" r="3.0" fill="#fff" stroke="#000" stroke-width="3.0"/><circle cx="454.2" cy="619.6" r="3.0" fill="#fff" stroke="#000" stroke-width="3.0"/><circle cx="462.4" cy="618.1" r="3.0" fill="#fff" stroke="#000" stroke-width="3.0"/><circle cx="470.6" cy="616.7" r="3.0" fill="#fff" stroke="#000" stroke-width="3.0"/><circle cx="478.9" cy="615.3" r="3.0" fill="#fff" stroke="#000" stroke-width="3.0"/><circle cx="487.1" cy="614.2" r="3.0" fill="#fff" stroke="#000" stroke-width="3.0"/><circle cx="495.3" cy="613.1" r="3.0" fill="#fff" stroke="#000" stroke-width="3.0"/><circle cx="503.6" cy="612.1" r="3.0" fill="#fff" stroke="#000" stroke-width="3.0"/><circle cx="511.8" cy="611.1" r="3.0" fill="#fff" stroke="#000" stroke-width="3.0"/><circle cx="520.0" cy="610.2" r="3.0" fill="#fff" stroke="#000" stroke-width="3.0"/><circle cx="528.2" cy="609.3" r="3.0" fill="#fff" stroke="#000" stroke-width="3.0"/><circle cx="536.5" cy="608.5" r="3.0" fill="#fff" stroke="#000" stroke-width="3.0"/><circle cx="544.7" cy="607.9" r="3.0" fill="#fff" stroke="#000" stroke-width="3.0"/><circle cx="552.9" cy="607.2" r="3.0" fill="#fff" stroke="#000" stroke-width="3.0"/><circle cx="561.2" cy="606.6" r="3.0" fill="#fff" stroke="#000" stroke-width="3.0"/></g>
<g><circle cx="232.0" cy="707.4" r="3.0" fill="#fff" stroke="#000" stroke-width="3.0"/><circle cx="240.2" cy="712.2" r="3.0" fill="#fff" stroke="#000" stroke-width="3.0"/><circle cx="248.5" cy="701.5" r="3.0" fill="#fff" stroke="#000" stroke-width="3.0"/><circle cx="256.7" cy="698.5" r="3.0" fill="#fff" stroke="#000" stroke-width="3.0"/><circle cx="264.9" cy="695.8" r="3.0" fill="#fff" stroke="#000" stroke-width="3.0"/><circle cx="273.1" cy="691.6" r="3.0" fill="#fff" stroke="#000" stroke-width="3.0"/><circle cx="281.4" cy="687.5" r="3.0" fill="#fff" stroke="#000" stroke-width="3.0"/><circle cx="289.6" cy="683.2" r="3.0" fill="#fff" stroke="#000" stroke-width="3.0"/><circle cx="297.8" cy="678.7" r="3.0" fill="#fff" stroke="#000" stroke-width="3.0"/><circle cx="306.1" cy="674.2" r="3.0" fill="#fff" stroke="#000" stroke-width="3.0"/><circle cx="314.3" cy="669.7" r="3.0" fill="#fff" stroke="#000" stroke-width="3.0"/><circle cx="322.5" cy="664.6" r="3.0" fill="#fff" stroke="#000" stroke-width="3.0"/><circle cx="330.7" cy="659.4" r="3.0" fill="#fff" stroke="#000" stroke-width="3.0"/><circle cx="339.0" cy="654.2" r="3.0" fill="#fff" stroke="#000" stroke-width="3.0"/><circle cx="347.2" cy="649.9" r="3.0" fill="#fff" stroke="#000" stroke-width="3.0"/><circle cx="355.4" cy="645.7" r="3.0" fill="#fff" stroke="#000" stroke-width="3.0"/><circle cx="363.7" cy="641.5" r="3.0" fill="#fff" stroke="#000" stroke-width="3.0"/><circle cx="371.9" cy="637.7" r="3.0" fill="#fff" stroke="#000" stroke-width="3.0"/><circle cx="380.1" cy="635.0" r="3.0" fill="#fff" stroke="#000" stroke-width="3.0"/><circle cx="388.4" cy="632.3" r="3.0" fill="#fff" stroke="#000" stroke-width="3.0"/><circle cx="396.6" cy="629.7" r="3.0" fill="#fff" stroke="#000" stroke-width="3.0"/><circle cx="404.8" cy="626.7" r="3.0" fill="#fff" stroke="#000" stroke-width="3.0"/><circle cx="413.0" cy="623.7" r="3.0" fill="#fff" stroke="#000" stroke-width="3.0"/><circle cx="421.3" cy="621.5" r="3.0" fill="#fff" stroke="#000" stroke-width="3.0"/><circle cx="429.5" cy="619.3" r="3.0" fill="#fff" stroke="#000" stroke-width="3.0"/><circle cx="437.7" cy="617.2" r="3.0" fill="#fff" stroke="#000" stroke-width="3.0"/><circle cx="446.0" cy="615.0" r="3.0" fill="#fff" stroke="#000" stroke-width="3.0"/><circle cx="454.2" cy="613.6" r="3.0" fill="#fff" stroke="#000" stroke-width="3.0"/><circle cx="462.4" cy="612.2" r="3.0" fill="#fff" stroke="#000" stroke-width="3.0"/><circle cx="470.6" cy="610.7" r="3.0" fill="#fff" stroke="#000" stroke-width="3.0"/><circle cx="478.9" cy="609.3" r="3.0" fill="#fff" stroke="#000" stroke-width="3.0"/><circle cx="487.1" cy="608.6" r="3.0" fill="#fff" stroke="#000" stroke-width="3.0"/><circle cx="495.3" cy="607.9" r="3.0" fill="#fff" stroke="#000" stroke-width="3.0"/><circle cx="503.6" cy="607.2" r="3.0" fill="#fff" stroke="#000" stroke-width="3.0"/><circle cx="511.8" cy="606.6" r="3.0" fill="#fff" stroke="#000" stroke-width="3.0"/><circle cx="520.0" cy="606.0" r="3.0" fill="#fff" stroke="#000" stroke-width="3.0"/><circle cx="528.2" cy="605.5" r="3.0" fill="#fff" stroke="#000" stroke-width="3.0"/><circle cx="536.5" cy="605.2" r="3.0" fill="#fff" stroke="#000" stroke-width="3.0"/><circle cx="544.7" cy="605.2" r="3.0" fill="#fff" stroke="#000" stroke-width="3.0"/><circle cx="552.9" cy="605.3" r="3.0" fill="#fff" stroke="#000" stroke-width="3.0"/><circle cx="561.2" cy="605.4" r="3.0" fill="#fff" stroke="#000" stroke-width="3.0"/></g>
<path d="M232.0 739.2L240.2 749.9L248.5 746.9L256.7 746.3L264.9 745.7L273.1 745.5L281.4 745.3L289.6 745.2L297.8 745.3L306.1 745.4L314.3 745.4L322.5 745.5L330.7 745.6L339.0 745.7L347.2 745.7L355.4 745.7L363.7 745.7L371.9 745.7L380.1 745.7L388.4 745.7L396.6 745.7L404.8 745.7L413.0 745.6L421.3 745.5L429.5 745.4L437.7 745.3L446.0 745.2L454.2 745.0L462.4 744.5L470.6 744.1L478.9 743.7L487.1 743.2L495.3 742.8L503.6 742.3L511.8 741.8L520.0 741.3L528.2 740.7L536.5 740.2L544.7 739.6L552.9 739.1L561.2 738.6" stroke="#128583" stroke-width="2.2" fill="none" stroke-linejoin="round" stroke-linecap="round"/>
<g><circle cx="232.0" cy="739.2" r="2.4" fill="#128583"/><circle cx="240.2" cy="749.9" r="2.4" fill="#128583"/><circle cx="248.5" cy="746.9" r="2.4" fill="#128583"/><circle cx="256.7" cy="746.3" r="2.4" fill="#128583"/><circle cx="264.9" cy="745.7" r="2.4" fill="#128583"/><circle cx="273.1" cy="745.5" r="2.4" fill="#128583"/><circle cx="281.4" cy="745.3" r="2.4" fill="#128583"/><circle cx="289.6" cy="745.2" r="2.4" fill="#128583"/><circle cx="297.8" cy="745.3" r="2.4" fill="#128583"/><circle cx="306.1" cy="745.4" r="2.4" fill="#128583"/><circle cx="314.3" cy="745.4" r="2.4" fill="#128583"/><circle cx="322.5" cy="745.5" r="2.4" fill="#128583"/><circle cx="330.7" cy="745.6" r="2.4" fill="#128583"/><circle cx="339.0" cy="745.7" r="2.4" fill="#128583"/><circle cx="347.2" cy="745.7" r="2.4" fill="#128583"/><circle cx="355.4" cy="745.7" r="2.4" fill="#128583"/><circle cx="363.7" cy="745.7" r="2.4" fill="#128583"/><circle cx="371.9" cy="745.7" r="2.4" fill="#128583"/><circle cx="380.1" cy="745.7" r="2.4" fill="#128583"/><circle cx="388.4" cy="745.7" r="2.4" fill="#128583"/><circle cx="396.6" cy="745.7" r="2.4" fill="#128583"/><circle cx="404.8" cy="745.7" r="2.4" fill="#128583"/><circle cx="413.0" cy="745.6" r="2.4" fill="#128583"/><circle cx="421.3" cy="745.5" r="2.4" fill="#128583"/><circle cx="429.5" cy="745.4" r="2.4" fill="#128583"/><circle cx="437.7" cy="745.3" r="2.4" fill="#128583"/><circle cx="446.0" cy="745.2" r="2.4" fill="#128583"/><circle cx="454.2" cy="745.0" r="2.4" fill="#128583"/><circle cx="462.4" cy="744.5" r="2.4" fill="#128583"/><circle cx="470.6" cy="744.1" r="2.4" fill="#128583"/><circle cx="478.9" cy="743.7" r="2.4" fill="#128583"/><circle cx="487.1" cy="743.2" r="2.4" fill="#128583"/><circle cx="495.3" cy="742.8" r="2.4" fill="#128583"/><circle cx="503.6" cy="742.3" r="2.4" fill="#128583"/><circle cx="511.8" cy="741.8" r="2.4" fill="#128583"/><circle cx="520.0" cy="741.3" r="2.4" fill="#128583"/><circle cx="528.2" cy="740.7" r="2.4" fill="#128583"/><circle cx="536.5" cy="740.2" r="2.4" fill="#128583"/><circle cx="544.7" cy="739.6" r="2.4" fill="#128583"/><circle cx="552.9" cy="739.1" r="2.4" fill="#128583"/><circle cx="561.2" cy="738.6" r="2.4" fill="#128583"/></g>
<path d="M232.0 721.8L240.2 729.0L248.5 726.0L256.7 725.4L264.9 724.8L273.1 724.8L281.4 724.8L289.6 724.8L297.8 724.9L306.1 725.0L314.3 725.1L322.5 725.2L330.7 725.3L339.0 725.4L347.2 725.4L355.4 725.4L363.7 725.4L371.9 725.4L380.1 725.4L388.4 725.4L396.6 725.4L404.8 725.2L413.0 725.0L421.3 724.9L429.5 724.7L437.7 724.5L446.0 724.3L454.2 724.0L462.4 723.2L470.6 722.5L478.9 721.8L487.1 721.1L495.3 720.4L503.6 719.7L511.8 718.8L520.0 717.8L528.2 716.8L536.5 715.8L544.7 714.8L552.9 713.8L561.2 712.8" stroke="#128583" stroke-width="2.2" fill="none" stroke-linejoin="round" stroke-linecap="round"/>
<g><circle cx="232.0" cy="721.8" r="2.4" fill="#128583" stroke="#fff" stroke-width="0.4"/><circle cx="240.2" cy="729.0" r="2.4" fill="#128583" stroke="#fff" stroke-width="0.4"/><circle cx="248.5" cy="726.0" r="2.4" fill="#128583" stroke="#fff" stroke-width="0.4"/><circle cx="256.7" cy="725.4" r="2.4" fill="#128583" stroke="#fff" stroke-width="0.4"/><circle cx="264.9" cy="724.8" r="2.4" fill="#128583" stroke="#fff" stroke-width="0.4"/><circle cx="273.1" cy="724.8" r="2.4" fill="#128583" stroke="#fff" stroke-width="0.4"/><circle cx="281.4" cy="724.8" r="2.4" fill="#128583" stroke="#fff" stroke-width="0.4"/><circle cx="289.6" cy="724.8" r="2.4" fill="#128583" stroke="#fff" stroke-width="0.4"/><circle cx="297.8" cy="724.9" r="2.4" fill="#128583" stroke="#fff" stroke-width="0.4"/><circle cx="306.1" cy="725.0" r="2.4" fill="#128583" stroke="#fff" stroke-width="0.4"/><circle cx="314.3" cy="725.1" r="2.4" fill="#128583" stroke="#fff" stroke-width="0.4"/><circle cx="322.5" cy="725.2" r="2.4" fill="#128583" stroke="#fff" stroke-width="0.4"/><circle cx="330.7" cy="725.3" r="2.4" fill="#128583" stroke="#fff" stroke-width="0.4"/><circle cx="339.0" cy="725.4" r="2.4" fill="#128583" stroke="#fff" stroke-width="0.4"/><circle cx="347.2" cy="725.4" r="2.4" fill="#128583" stroke="#fff" stroke-width="0.4"/><circle cx="355.4" cy="725.4" r="2.4" fill="#128583" stroke="#fff" stroke-width="0.4"/><circle cx="363.7" cy="725.4" r="2.4" fill="#128583" stroke="#fff" stroke-width="0.4"/><circle cx="371.9" cy="725.4" r="2.4" fill="#128583" stroke="#fff" stroke-width="0.4"/><circle cx="380.1" cy="725.4" r="2.4" fill="#128583" stroke="#fff" stroke-width="0.4"/><circle cx="388.4" cy="725.4" r="2.4" fill="#128583" stroke="#fff" stroke-width="0.4"/><circle cx="396.6" cy="725.4" r="2.4" fill="#128583" stroke="#fff" stroke-width="0.4"/><circle cx="404.8" cy="725.2" r="2.4" fill="#128583" stroke="#fff" stroke-width="0.4"/><circle cx="413.0" cy="725.0" r="2.4" fill="#128583" stroke="#fff" stroke-width="0.4"/><circle cx="421.3" cy="724.9" r="2.4" fill="#128583" stroke="#fff" stroke-width="0.4"/><circle cx="429.5" cy="724.7" r="2.4" fill="#128583" stroke="#fff" stroke-width="0.4"/><circle cx="437.7" cy="724.5" r="2.4" fill="#128583" stroke="#fff" stroke-width="0.4"/><circle cx="446.0" cy="724.3" r="2.4" fill="#128583" stroke="#fff" stroke-width="0.4"/><circle cx="454.2" cy="724.0" r="2.4" fill="#128583" stroke="#fff" stroke-width="0.4"/><circle cx="462.4" cy="723.2" r="2.4" fill="#128583" stroke="#fff" stroke-width="0.4"/><circle cx="470.6" cy="722.5" r="2.4" fill="#128583" stroke="#fff" stroke-width="0.4"/><circle cx="478.9" cy="721.8" r="2.4" fill="#128583" stroke="#fff" stroke-width="0.4"/><circle cx="487.1" cy="721.1" r="2.4" fill="#128583" stroke="#fff" stroke-width="0.4"/><circle cx="495.3" cy="720.4" r="2.4" fill="#128583" stroke="#fff" stroke-width="0.4"/><circle cx="503.6" cy="719.7" r="2.4" fill="#128583" stroke="#fff" stroke-width="0.4"/><circle cx="511.8" cy="718.8" r="2.4" fill="#128583" stroke="#fff" stroke-width="0.4"/><circle cx="520.0" cy="717.8" r="2.4" fill="#128583" stroke="#fff" stroke-width="0.4"/><circle cx="528.2" cy="716.8" r="2.4" fill="#128583" stroke="#fff" stroke-width="0.4"/><circle cx="536.5" cy="715.8" r="2.4" fill="#128583" stroke="#fff" stroke-width="0.4"/><circle cx="544.7" cy="714.8" r="2.4" fill="#128583" stroke="#fff" stroke-width="0.4"/><circle cx="552.9" cy="713.8" r="2.4" fill="#128583" stroke="#fff" stroke-width="0.4"/><circle cx="561.2" cy="712.8" r="2.4" fill="#128583" stroke="#fff" stroke-width="0.4"/></g>
<path d="M232.0 723.0L240.2 734.4L248.5 732.0L256.7 731.4L264.9 730.8L273.1 730.8L281.4 730.8L289.6 730.8L297.8 730.9L306.1 731.0L314.3 731.1L322.5 731.2L330.7 731.3L339.0 731.4L347.2 731.4L355.4 731.4L363.7 731.4L371.9 731.4L380.1 731.4L388.4 731.4L396.6 731.4L404.8 731.3L413.0 731.2L421.3 731.1L429.5 731.0L437.7 730.9L446.0 730.8L454.2 730.7L462.4 730.3L470.6 729.9L478.9 729.6L487.1 729.2L495.3 728.9L503.6 728.5L511.8 728.2L520.0 727.8L528.2 727.4L536.5 727.1L544.7 726.7L552.9 726.4L561.2 726.0" stroke="#b516ba" stroke-width="2.2" fill="none" stroke-linejoin="round" stroke-linecap="round"/>
<path d="M232.0 732.6V723.0M240.2 743.4V734.4M248.5 742.2V732.0M256.7 741.9V731.4M264.9 741.6V730.8M273.1 741.1V730.8M281.4 740.7V730.8M289.6 740.3V730.8M297.8 740.2V730.9M306.1 740.2V731.0M314.3 740.1V731.1M322.5 740.0V731.2M330.7 739.9V731.3M339.0 739.8V731.4M347.2 739.7V731.4M355.4 739.6V731.4M363.7 739.5V731.4M371.9 739.4V731.4M380.1 739.3V731.4M388.4 739.3V731.4M396.6 739.2V731.4M404.8 739.2V731.3M413.0 739.2V731.2M421.3 739.2V731.1M429.5 739.2V731.0M437.7 739.2V730.9M446.0 739.2V730.8M454.2 739.1V730.7M462.4 738.9V730.3M470.6 738.7V729.9M478.9 738.6V729.6M487.1 738.4V729.2M495.3 738.2V728.9M503.6 738.0V728.5M511.8 737.9V728.2M520.0 737.8V727.8M528.2 737.7V727.4M536.5 737.6V727.1M544.7 737.5V726.7M552.9 737.5V726.4M561.2 737.4V726.0" stroke="#b516ba" stroke-width="1.6" fill="none"/>
<g><circle cx="232.0" cy="732.6" r="2.7" fill="#b516ba" stroke="#fff" stroke-width="0.4"/><circle cx="240.2" cy="743.4" r="2.7" fill="#b516ba" stroke="#fff" stroke-width="0.4"/><circle cx="248.5" cy="742.2" r="2.7" fill="#b516ba" stroke="#fff" stroke-width="0.4"/><circle cx="256.7" cy="741.9" r="2.7" fill="#b516ba" stroke="#fff" stroke-width="0.4"/><circle cx="264.9" cy="741.6" r="2.7" fill="#b516ba" stroke="#fff" stroke-width="0.4"/><circle cx="273.1" cy="741.1" r="2.7" fill="#b516ba" stroke="#fff" stroke-width="0.4"/><circle cx="281.4" cy="740.7" r="2.7" fill="#b516ba" stroke="#fff" stroke-width="0.4"/><circle cx="289.6" cy="740.3" r="2.7" fill="#b516ba" stroke="#fff" stroke-width="0.4"/><circle cx="297.8" cy="740.2" r="2.7" fill="#b516ba" stroke="#fff" stroke-width="0.4"/><circle cx="306.1" cy="740.2" r="2.7" fill="#b516ba" stroke="#fff" stroke-width="0.4"/><circle cx="314.3" cy="740.1" r="2.7" fill="#b516ba" stroke="#fff" stroke-width="0.4"/><circle cx="322.5" cy="740.0" r="2.7" fill="#b516ba" stroke="#fff" stroke-width="0.4"/><circle cx="330.7" cy="739.9" r="2.7" fill="#b516ba" stroke="#fff" stroke-width="0.4"/><circle cx="339.0" cy="739.8" r="2.7" fill="#b516ba" stroke="#fff" stroke-width="0.4"/><circle cx="347.2" cy="739.7" r="2.7" fill="#b516ba" stroke="#fff" stroke-width="0.4"/><circle cx="355.4" cy="739.6" r="2.7" fill="#b516ba" stroke="#fff" stroke-width="0.4"/><circle cx="363.7" cy="739.5" r="2.7" fill="#b516ba" stroke="#fff" stroke-width="0.4"/><circle cx="371.9" cy="739.4" r="2.7" fill="#b516ba" stroke="#fff" stroke-width="0.4"/><circle cx="380.1" cy="739.3" r="2.7" fill="#b516ba" stroke="#fff" stroke-width="0.4"/><circle cx="388.4" cy="739.3" r="2.7" fill="#b516ba" stroke="#fff" stroke-width="0.4"/><circle cx="396.6" cy="739.2" r="2.7" fill="#b516ba" stroke="#fff" stroke-width="0.4"/><circle cx="404.8" cy="739.2" r="2.7" fill="#b516ba" stroke="#fff" stroke-width="0.4"/><circle cx="413.0" cy="739.2" r="2.7" fill="#b516ba" stroke="#fff" stroke-width="0.4"/><circle cx="421.3" cy="739.2" r="2.7" fill="#b516ba" stroke="#fff" stroke-width="0.4"/><circle cx="429.5" cy="739.2" r="2.7" fill="#b516ba" stroke="#fff" stroke-width="0.4"/><circle cx="437.7" cy="739.2" r="2.7" fill="#b516ba" stroke="#fff" stroke-width="0.4"/><circle cx="446.0" cy="739.2" r="2.7" fill="#b516ba" stroke="#fff" stroke-width="0.4"/><circle cx="454.2" cy="739.1" r="2.7" fill="#b516ba" stroke="#fff" stroke-width="0.4"/><circle cx="462.4" cy="738.9" r="2.7" fill="#b516ba" stroke="#fff" stroke-width="0.4"/><circle cx="470.6" cy="738.7" r="2.7" fill="#b516ba" stroke="#fff" stroke-width="0.4"/><circle cx="478.9" cy="738.6" r="2.7" fill="#b516ba" stroke="#fff" stroke-width="0.4"/><circle cx="487.1" cy="738.4" r="2.7" fill="#b516ba" stroke="#fff" stroke-width="0.4"/><circle cx="495.3" cy="738.2" r="2.7" fill="#b516ba" stroke="#fff" stroke-width="0.4"/><circle cx="503.6" cy="738.0" r="2.7" fill="#b516ba" stroke="#fff" stroke-width="0.4"/><circle cx="511.8" cy="737.9" r="2.7" fill="#b516ba" stroke="#fff" stroke-width="0.4"/><circle cx="520.0" cy="737.8" r="2.7" fill="#b516ba" stroke="#fff" stroke-width="0.4"/><circle cx="528.2" cy="737.7" r="2.7" fill="#b516ba" stroke="#fff" stroke-width="0.4"/><circle cx="536.5" cy="737.6" r="2.7" fill="#b516ba" stroke="#fff" stroke-width="0.4"/><circle cx="544.7" cy="737.5" r="2.7" fill="#b516ba" stroke="#fff" stroke-width="0.4"/><circle cx="552.9" cy="737.5" r="2.7" fill="#b516ba" stroke="#fff" stroke-width="0.4"/><circle cx="561.2" cy="737.4" r="2.7" fill="#b516ba" stroke="#fff" stroke-width="0.4"/></g>
<g><circle cx="232.0" cy="727.8" r="2.7" fill="#b516ba" stroke="#fff" stroke-width="0.4"/><circle cx="240.2" cy="736.2" r="2.7" fill="#b516ba" stroke="#fff" stroke-width="0.4"/><circle cx="248.5" cy="736.2" r="2.7" fill="#b516ba" stroke="#fff" stroke-width="0.4"/><circle cx="256.7" cy="736.2" r="2.7" fill="#b516ba" stroke="#fff" stroke-width="0.4"/><circle cx="264.9" cy="736.2" r="2.7" fill="#b516ba" stroke="#fff" stroke-width="0.4"/><circle cx="273.1" cy="735.9" r="2.7" fill="#b516ba" stroke="#fff" stroke-width="0.4"/><circle cx="281.4" cy="735.7" r="2.7" fill="#b516ba" stroke="#fff" stroke-width="0.4"/><circle cx="289.6" cy="735.6" r="2.7" fill="#b516ba" stroke="#fff" stroke-width="0.4"/><circle cx="297.8" cy="735.6" r="2.7" fill="#b516ba" stroke="#fff" stroke-width="0.4"/><circle cx="306.1" cy="735.6" r="2.7" fill="#b516ba" stroke="#fff" stroke-width="0.4"/><circle cx="314.3" cy="735.6" r="2.7" fill="#b516ba" stroke="#fff" stroke-width="0.4"/><circle cx="322.5" cy="735.6" r="2.7" fill="#b516ba" stroke="#fff" stroke-width="0.4"/><circle cx="330.7" cy="735.6" r="2.7" fill="#b516ba" stroke="#fff" stroke-width="0.4"/><circle cx="339.0" cy="735.6" r="2.7" fill="#b516ba" stroke="#fff" stroke-width="0.4"/><circle cx="347.2" cy="735.6" r="2.7" fill="#b516ba" stroke="#fff" stroke-width="0.4"/><circle cx="355.4" cy="735.6" r="2.7" fill="#b516ba" stroke="#fff" stroke-width="0.4"/><circle cx="363.7" cy="735.6" r="2.7" fill="#b516ba" stroke="#fff" stroke-width="0.4"/><circle cx="371.9" cy="735.6" r="2.7" fill="#b516ba" stroke="#fff" stroke-width="0.4"/><circle cx="380.1" cy="735.6" r="2.7" fill="#b516ba" stroke="#fff" stroke-width="0.4"/><circle cx="388.4" cy="735.6" r="2.7" fill="#b516ba" stroke="#fff" stroke-width="0.4"/><circle cx="396.6" cy="735.6" r="2.7" fill="#b516ba" stroke="#fff" stroke-width="0.4"/><circle cx="404.8" cy="735.5" r="2.7" fill="#b516ba" stroke="#fff" stroke-width="0.4"/><circle cx="413.0" cy="735.4" r="2.7" fill="#b516ba" stroke="#fff" stroke-width="0.4"/><circle cx="421.3" cy="735.3" r="2.7" fill="#b516ba" stroke="#fff" stroke-width="0.4"/><circle cx="429.5" cy="735.2" r="2.7" fill="#b516ba" stroke="#fff" stroke-width="0.4"/><circle cx="437.7" cy="735.1" r="2.7" fill="#b516ba" stroke="#fff" stroke-width="0.4"/><circle cx="446.0" cy="735.0" r="2.7" fill="#b516ba" stroke="#fff" stroke-width="0.4"/><circle cx="454.2" cy="734.9" r="2.7" fill="#b516ba" stroke="#fff" stroke-width="0.4"/><circle cx="462.4" cy="734.7" r="2.7" fill="#b516ba" stroke="#fff" stroke-width="0.4"/><circle cx="470.6" cy="734.6" r="2.7" fill="#b516ba" stroke="#fff" stroke-width="0.4"/><circle cx="478.9" cy="734.4" r="2.7" fill="#b516ba" stroke="#fff" stroke-width="0.4"/><circle cx="487.1" cy="734.2" r="2.7" fill="#b516ba" stroke="#fff" stroke-width="0.4"/><circle cx="495.3" cy="734.0" r="2.7" fill="#b516ba" stroke="#fff" stroke-width="0.4"/><circle cx="503.6" cy="733.8" r="2.7" fill="#b516ba" stroke="#fff" stroke-width="0.4"/><circle cx="511.8" cy="733.7" r="2.7" fill="#b516ba" stroke="#fff" stroke-width="0.4"/><circle cx="520.0" cy="733.6" r="2.7" fill="#b516ba" stroke="#fff" stroke-width="0.4"/><circle cx="528.2" cy="733.5" r="2.7" fill="#b516ba" stroke="#fff" stroke-width="0.4"/><circle cx="536.5" cy="733.4" r="2.7" fill="#b516ba" stroke="#fff" stroke-width="0.4"/><circle cx="544.7" cy="733.4" r="2.7" fill="#b516ba" stroke="#fff" stroke-width="0.4"/><circle cx="552.9" cy="733.3" r="2.7" fill="#b516ba" stroke="#fff" stroke-width="0.4"/><circle cx="561.2" cy="733.2" r="2.7" fill="#b516ba" stroke="#fff" stroke-width="0.4"/></g>
<g><circle cx="232.0" cy="711.6" r="2.7" fill="#b516ba" stroke="#fff" stroke-width="0.4"/><circle cx="240.2" cy="723.0" r="2.7" fill="#b516ba" stroke="#fff" stroke-width="0.4"/><circle cx="248.5" cy="720.0" r="2.7" fill="#b516ba" stroke="#fff" stroke-width="0.4"/><circle cx="256.7" cy="719.9" r="2.7" fill="#b516ba" stroke="#fff" stroke-width="0.4"/><circle cx="264.9" cy="719.7" r="2.7" fill="#b516ba" stroke="#fff" stroke-width="0.4"/><circle cx="273.1" cy="719.7" r="2.7" fill="#b516ba" stroke="#fff" stroke-width="0.4"/><circle cx="281.4" cy="719.7" r="2.7" fill="#b516ba" stroke="#fff" stroke-width="0.4"/><circle cx="289.6" cy="719.7" r="2.7" fill="#b516ba" stroke="#fff" stroke-width="0.4"/><circle cx="297.8" cy="719.8" r="2.7" fill="#b516ba" stroke="#fff" stroke-width="0.4"/><circle cx="306.1" cy="719.8" r="2.7" fill="#b516ba" stroke="#fff" stroke-width="0.4"/><circle cx="314.3" cy="719.9" r="2.7" fill="#b516ba" stroke="#fff" stroke-width="0.4"/><circle cx="322.5" cy="719.9" r="2.7" fill="#b516ba" stroke="#fff" stroke-width="0.4"/><circle cx="330.7" cy="720.0" r="2.7" fill="#b516ba" stroke="#fff" stroke-width="0.4"/><circle cx="339.0" cy="720.0" r="2.7" fill="#b516ba" stroke="#fff" stroke-width="0.4"/><circle cx="347.2" cy="720.0" r="2.7" fill="#b516ba" stroke="#fff" stroke-width="0.4"/><circle cx="355.4" cy="720.0" r="2.7" fill="#b516ba" stroke="#fff" stroke-width="0.4"/><circle cx="363.7" cy="720.0" r="2.7" fill="#b516ba" stroke="#fff" stroke-width="0.4"/><circle cx="371.9" cy="720.0" r="2.7" fill="#b516ba" stroke="#fff" stroke-width="0.4"/><circle cx="380.1" cy="720.0" r="2.7" fill="#b516ba" stroke="#fff" stroke-width="0.4"/><circle cx="388.4" cy="720.0" r="2.7" fill="#b516ba" stroke="#fff" stroke-width="0.4"/><circle cx="396.6" cy="720.0" r="2.7" fill="#b516ba" stroke="#fff" stroke-width="0.4"/><circle cx="404.8" cy="720.0" r="2.7" fill="#b516ba" stroke="#fff" stroke-width="0.4"/><circle cx="413.0" cy="719.9" r="2.7" fill="#b516ba" stroke="#fff" stroke-width="0.4"/><circle cx="421.3" cy="719.9" r="2.7" fill="#b516ba" stroke="#fff" stroke-width="0.4"/><circle cx="429.5" cy="719.8" r="2.7" fill="#b516ba" stroke="#fff" stroke-width="0.4"/><circle cx="437.7" cy="719.8" r="2.7" fill="#b516ba" stroke="#fff" stroke-width="0.4"/><circle cx="446.0" cy="719.7" r="2.7" fill="#b516ba" stroke="#fff" stroke-width="0.4"/><circle cx="454.2" cy="719.6" r="2.7" fill="#b516ba" stroke="#fff" stroke-width="0.4"/><circle cx="462.4" cy="719.4" r="2.7" fill="#b516ba" stroke="#fff" stroke-width="0.4"/><circle cx="470.6" cy="719.2" r="2.7" fill="#b516ba" stroke="#fff" stroke-width="0.4"/><circle cx="478.9" cy="719.0" r="2.7" fill="#b516ba" stroke="#fff" stroke-width="0.4"/><circle cx="487.1" cy="718.7" r="2.7" fill="#b516ba" stroke="#fff" stroke-width="0.4"/><circle cx="495.3" cy="718.5" r="2.7" fill="#b516ba" stroke="#fff" stroke-width="0.4"/><circle cx="503.6" cy="718.3" r="2.7" fill="#b516ba" stroke="#fff" stroke-width="0.4"/><circle cx="511.8" cy="718.0" r="2.7" fill="#b516ba" stroke="#fff" stroke-width="0.4"/><circle cx="520.0" cy="717.6" r="2.7" fill="#b516ba" stroke="#fff" stroke-width="0.4"/><circle cx="528.2" cy="717.3" r="2.7" fill="#b516ba" stroke="#fff" stroke-width="0.4"/><circle cx="536.5" cy="716.9" r="2.7" fill="#b516ba" stroke="#fff" stroke-width="0.4"/><circle cx="544.7" cy="716.5" r="2.7" fill="#b516ba" stroke="#fff" stroke-width="0.4"/><circle cx="552.9" cy="716.2" r="2.7" fill="#b516ba" stroke="#fff" stroke-width="0.4"/><circle cx="561.2" cy="715.8" r="2.7" fill="#b516ba" stroke="#fff" stroke-width="0.4"/></g>
<path d="M232.0 717.0L240.2 723.0L248.5 720.0L256.7 717.8L264.9 715.1L273.1 712.2L281.4 709.2L289.6 705.5L297.8 701.8L306.1 698.0L314.3 694.3L322.5 690.7L330.7 687.1L339.0 683.5L347.2 680.2L355.4 677.0L363.7 673.7L371.9 670.6L380.1 668.0L388.4 665.3L396.6 662.6L404.8 660.2L413.0 657.8L421.3 655.7L429.5 653.6L437.7 651.5L446.0 649.4L454.2 647.9L462.4 646.4L470.6 644.9L478.9 643.4L487.1 642.3L495.3 641.3L503.6 640.2L511.8 639.4L520.0 638.6L528.2 637.9L536.5 637.3L544.7 636.7L552.9 636.2L561.2 635.6" stroke="#d4d4d4" stroke-width="2.0" fill="none" stroke-linejoin="round" stroke-linecap="round"/>
<path d="M232.0 715.2V710.4M240.2 721.2V716.4M248.5 718.2V713.4M256.7 716.0V711.2M264.9 713.3V708.5M273.1 710.4V705.7M281.4 707.4V702.6M289.6 703.7V698.9M297.8 700.0V695.2M306.1 696.2V691.4M314.3 692.5V687.7M322.5 688.9V684.1M330.7 685.3V680.5M339.0 681.7V676.9M347.2 678.5V673.7M355.4 675.2V670.4M363.7 671.9V667.1M371.9 668.9V664.1M380.1 666.2V661.4M388.4 663.5V658.7M396.6 660.8V656.0M404.8 658.4V653.6M413.0 656.0V651.2M421.3 653.9V649.1M429.5 651.8V647.0M437.7 649.7V644.9M446.0 647.6V642.8M454.2 646.1V641.3M462.4 644.6V639.8M470.6 643.1V638.3M478.9 641.6V636.8M487.1 640.5V635.8M495.3 639.5V634.7M503.6 638.4V633.6M511.8 637.6V632.8M520.0 636.8V632.0M528.2 636.1V631.3M536.5 635.5V630.7M544.7 634.9V630.1M552.9 634.4V629.6M561.2 633.8V629.1" stroke="#d4d4d4" stroke-width="2.4" fill="none"/>
<g><circle cx="232.0" cy="724.5" r="2.6" fill="#d4d4d4" stroke="#fff" stroke-width="0.3"/><circle cx="240.2" cy="730.5" r="2.6" fill="#d4d4d4" stroke="#fff" stroke-width="0.3"/><circle cx="248.5" cy="727.5" r="2.6" fill="#d4d4d4" stroke="#fff" stroke-width="0.3"/><circle cx="256.7" cy="725.3" r="2.6" fill="#d4d4d4" stroke="#fff" stroke-width="0.3"/><circle cx="264.9" cy="722.6" r="2.6" fill="#d4d4d4" stroke="#fff" stroke-width="0.3"/><circle cx="273.1" cy="719.7" r="2.6" fill="#d4d4d4" stroke="#fff" stroke-width="0.3"/><circle cx="281.4" cy="716.7" r="2.6" fill="#d4d4d4" stroke="#fff" stroke-width="0.3"/><circle cx="289.6" cy="713.0" r="2.6" fill="#d4d4d4" stroke="#fff" stroke-width="0.3"/><circle cx="297.8" cy="709.2" r="2.6" fill="#d4d4d4" stroke="#fff" stroke-width="0.3"/><circle cx="306.1" cy="705.5" r="2.6" fill="#d4d4d4" stroke="#fff" stroke-width="0.3"/><circle cx="314.3" cy="701.8" r="2.6" fill="#d4d4d4" stroke="#fff" stroke-width="0.3"/><circle cx="322.5" cy="698.2" r="2.6" fill="#d4d4d4" stroke="#fff" stroke-width="0.3"/><circle cx="330.7" cy="694.6" r="2.6" fill="#d4d4d4" stroke="#fff" stroke-width="0.3"/><circle cx="339.0" cy="691.0" r="2.6" fill="#d4d4d4" stroke="#fff" stroke-width="0.3"/><circle cx="347.2" cy="687.7" r="2.6" fill="#d4d4d4" stroke="#fff" stroke-width="0.3"/><circle cx="355.4" cy="684.5" r="2.6" fill="#d4d4d4" stroke="#fff" stroke-width="0.3"/><circle cx="363.7" cy="681.2" r="2.6" fill="#d4d4d4" stroke="#fff" stroke-width="0.3"/><circle cx="371.9" cy="678.1" r="2.6" fill="#d4d4d4" stroke="#fff" stroke-width="0.3"/><circle cx="380.1" cy="675.4" r="2.6" fill="#d4d4d4" stroke="#fff" stroke-width="0.3"/><circle cx="388.4" cy="672.7" r="2.6" fill="#d4d4d4" stroke="#fff" stroke-width="0.3"/><circle cx="396.6" cy="670.0" r="2.6" fill="#d4d4d4" stroke="#fff" stroke-width="0.3"/><circle cx="404.8" cy="667.7" r="2.6" fill="#d4d4d4" stroke="#fff" stroke-width="0.3"/><circle cx="413.0" cy="665.3" r="2.6" fill="#d4d4d4" stroke="#fff" stroke-width="0.3"/><circle cx="421.3" cy="663.2" r="2.6" fill="#d4d4d4" stroke="#fff" stroke-width="0.3"/><circle cx="429.5" cy="661.1" r="2.6" fill="#d4d4d4" stroke="#fff" stroke-width="0.3"/><circle cx="437.7" cy="659.0" r="2.6" fill="#d4d4d4" stroke="#fff" stroke-width="0.3"/><circle cx="446.0" cy="656.9" r="2.6" fill="#d4d4d4" stroke="#fff" stroke-width="0.3"/><circle cx="454.2" cy="655.4" r="2.6" fill="#d4d4d4" stroke="#fff" stroke-width="0.3"/><circle cx="462.4" cy="653.9" r="2.6" fill="#d4d4d4" stroke="#fff" stroke-width="0.3"/><circle cx="470.6" cy="652.4" r="2.6" fill="#d4d4d4" stroke="#fff" stroke-width="0.3"/><circle cx="478.9" cy="650.9" r="2.6" fill="#d4d4d4" stroke="#fff" stroke-width="0.3"/><circle cx="487.1" cy="649.8" r="2.6" fill="#d4d4d4" stroke="#fff" stroke-width="0.3"/><circle cx="495.3" cy="648.7" r="2.6" fill="#d4d4d4" stroke="#fff" stroke-width="0.3"/><circle cx="503.6" cy="647.7" r="2.6" fill="#d4d4d4" stroke="#fff" stroke-width="0.3"/><circle cx="511.8" cy="646.8" r="2.6" fill="#d4d4d4" stroke="#fff" stroke-width="0.3"/><circle cx="520.0" cy="646.1" r="2.6" fill="#d4d4d4" stroke="#fff" stroke-width="0.3"/><circle cx="528.2" cy="645.4" r="2.6" fill="#d4d4d4" stroke="#fff" stroke-width="0.3"/><circle cx="536.5" cy="644.7" r="2.6" fill="#d4d4d4" stroke="#fff" stroke-width="0.3"/><circle cx="544.7" cy="644.2" r="2.6" fill="#d4d4d4" stroke="#fff" stroke-width="0.3"/><circle cx="552.9" cy="643.7" r="2.6" fill="#d4d4d4" stroke="#fff" stroke-width="0.3"/><circle cx="561.2" cy="643.1" r="2.6" fill="#d4d4d4" stroke="#fff" stroke-width="0.3"/></g>
<g><circle cx="232.0" cy="714.0" r="2.4" fill="#d4d4d4"/><circle cx="240.2" cy="720.0" r="2.4" fill="#d4d4d4"/><circle cx="248.5" cy="717.0" r="2.4" fill="#d4d4d4"/><circle cx="256.7" cy="714.8" r="2.4" fill="#d4d4d4"/><circle cx="264.9" cy="712.1" r="2.4" fill="#d4d4d4"/><circle cx="273.1" cy="709.2" r="2.4" fill="#d4d4d4"/><circle cx="281.4" cy="706.2" r="2.4" fill="#d4d4d4"/><circle cx="289.6" cy="702.5" r="2.4" fill="#d4d4d4"/><circle cx="297.8" cy="698.8" r="2.4" fill="#d4d4d4"/><circle cx="306.1" cy="695.0" r="2.4" fill="#d4d4d4"/><circle cx="314.3" cy="691.3" r="2.4" fill="#d4d4d4"/><circle cx="322.5" cy="687.7" r="2.4" fill="#d4d4d4"/><circle cx="330.7" cy="684.1" r="2.4" fill="#d4d4d4"/><circle cx="339.0" cy="680.5" r="2.4" fill="#d4d4d4"/><circle cx="347.2" cy="677.3" r="2.4" fill="#d4d4d4"/><circle cx="355.4" cy="674.0" r="2.4" fill="#d4d4d4"/><circle cx="363.7" cy="670.7" r="2.4" fill="#d4d4d4"/><circle cx="371.9" cy="667.7" r="2.4" fill="#d4d4d4"/><circle cx="380.1" cy="665.0" r="2.4" fill="#d4d4d4"/><circle cx="388.4" cy="662.3" r="2.4" fill="#d4d4d4"/><circle cx="396.6" cy="659.6" r="2.4" fill="#d4d4d4"/><circle cx="404.8" cy="657.2" r="2.4" fill="#d4d4d4"/><circle cx="413.0" cy="654.8" r="2.4" fill="#d4d4d4"/><circle cx="421.3" cy="652.7" r="2.4" fill="#d4d4d4"/><circle cx="429.5" cy="650.6" r="2.4" fill="#d4d4d4"/><circle cx="437.7" cy="648.5" r="2.4" fill="#d4d4d4"/><circle cx="446.0" cy="646.4" r="2.4" fill="#d4d4d4"/><circle cx="454.2" cy="644.9" r="2.4" fill="#d4d4d4"/><circle cx="462.4" cy="643.4" r="2.4" fill="#d4d4d4"/><circle cx="470.6" cy="641.9" r="2.4" fill="#d4d4d4"/><circle cx="478.9" cy="640.4" r="2.4" fill="#d4d4d4"/><circle cx="487.1" cy="639.4" r="2.4" fill="#d4d4d4"/><circle cx="495.3" cy="638.3" r="2.4" fill="#d4d4d4"/><circle cx="503.6" cy="637.2" r="2.4" fill="#d4d4d4"/><circle cx="511.8" cy="636.4" r="2.4" fill="#d4d4d4"/><circle cx="520.0" cy="635.6" r="2.4" fill="#d4d4d4"/><circle cx="528.2" cy="634.9" r="2.4" fill="#d4d4d4"/><circle cx="536.5" cy="634.3" r="2.4" fill="#d4d4d4"/><circle cx="544.7" cy="633.7" r="2.4" fill="#d4d4d4"/><circle cx="552.9" cy="633.2" r="2.4" fill="#d4d4d4"/><circle cx="561.2" cy="632.6" r="2.4" fill="#d4d4d4"/></g>
<g><circle cx="232.0" cy="710.4" r="2.6" fill="#d4d4d4" stroke="#fff" stroke-width="0.3"/><circle cx="240.2" cy="716.4" r="2.6" fill="#d4d4d4" stroke="#fff" stroke-width="0.3"/><circle cx="248.5" cy="713.4" r="2.6" fill="#d4d4d4" stroke="#fff" stroke-width="0.3"/><circle cx="256.7" cy="711.2" r="2.6" fill="#d4d4d4" stroke="#fff" stroke-width="0.3"/><circle cx="264.9" cy="708.5" r="2.6" fill="#d4d4d4" stroke="#fff" stroke-width="0.3"/><circle cx="273.1" cy="705.7" r="2.6" fill="#d4d4d4" stroke="#fff" stroke-width="0.3"/><circle cx="281.4" cy="702.6" r="2.6" fill="#d4d4d4" stroke="#fff" stroke-width="0.3"/><circle cx="289.6" cy="698.9" r="2.6" fill="#d4d4d4" stroke="#fff" stroke-width="0.3"/><circle cx="297.8" cy="695.2" r="2.6" fill="#d4d4d4" stroke="#fff" stroke-width="0.3"/><circle cx="306.1" cy="691.4" r="2.6" fill="#d4d4d4" stroke="#fff" stroke-width="0.3"/><circle cx="314.3" cy="687.7" r="2.6" fill="#d4d4d4" stroke="#fff" stroke-width="0.3"/><circle cx="322.5" cy="684.1" r="2.6" fill="#d4d4d4" stroke="#fff" stroke-width="0.3"/><circle cx="330.7" cy="680.5" r="2.6" fill="#d4d4d4" stroke="#fff" stroke-width="0.3"/><circle cx="339.0" cy="676.9" r="2.6" fill="#d4d4d4" stroke="#fff" stroke-width="0.3"/><circle cx="347.2" cy="673.7" r="2.6" fill="#d4d4d4" stroke="#fff" stroke-width="0.3"/><circle cx="355.4" cy="670.4" r="2.6" fill="#d4d4d4" stroke="#fff" stroke-width="0.3"/><circle cx="363.7" cy="667.1" r="2.6" fill="#d4d4d4" stroke="#fff" stroke-width="0.3"/><circle cx="371.9" cy="664.1" r="2.6" fill="#d4d4d4" stroke="#fff" stroke-width="0.3"/><circle cx="380.1" cy="661.4" r="2.6" fill="#d4d4d4" stroke="#fff" stroke-width="0.3"/><circle cx="388.4" cy="658.7" r="2.6" fill="#d4d4d4" stroke="#fff" stroke-width="0.3"/><circle cx="396.6" cy="656.0" r="2.6" fill="#d4d4d4" stroke="#fff" stroke-width="0.3"/><circle cx="404.8" cy="653.6" r="2.6" fill="#d4d4d4" stroke="#fff" stroke-width="0.3"/><circle cx="413.0" cy="651.2" r="2.6" fill="#d4d4d4" stroke="#fff" stroke-width="0.3"/><circle cx="421.3" cy="649.1" r="2.6" fill="#d4d4d4" stroke="#fff" stroke-width="0.3"/><circle cx="429.5" cy="647.0" r="2.6" fill="#d4d4d4" stroke="#fff" stroke-width="0.3"/><circle cx="437.7" cy="644.9" r="2.6" fill="#d4d4d4" stroke="#fff" stroke-width="0.3"/><circle cx="446.0" cy="642.8" r="2.6" fill="#d4d4d4" stroke="#fff" stroke-width="0.3"/><circle cx="454.2" cy="641.3" r="2.6" fill="#d4d4d4" stroke="#fff" stroke-width="0.3"/><circle cx="462.4" cy="639.8" r="2.6" fill="#d4d4d4" stroke="#fff" stroke-width="0.3"/><circle cx="470.6" cy="638.3" r="2.6" fill="#d4d4d4" stroke="#fff" stroke-width="0.3"/><circle cx="478.9" cy="636.8" r="2.6" fill="#d4d4d4" stroke="#fff" stroke-width="0.3"/><circle cx="487.1" cy="635.8" r="2.6" fill="#d4d4d4" stroke="#fff" stroke-width="0.3"/><circle cx="495.3" cy="634.7" r="2.6" fill="#d4d4d4" stroke="#fff" stroke-width="0.3"/><circle cx="503.6" cy="633.6" r="2.6" fill="#d4d4d4" stroke="#fff" stroke-width="0.3"/><circle cx="511.8" cy="632.8" r="2.6" fill="#d4d4d4" stroke="#fff" stroke-width="0.3"/><circle cx="520.0" cy="632.0" r="2.6" fill="#d4d4d4" stroke="#fff" stroke-width="0.3"/><circle cx="528.2" cy="631.3" r="2.6" fill="#d4d4d4" stroke="#fff" stroke-width="0.3"/><circle cx="536.5" cy="630.7" r="2.6" fill="#d4d4d4" stroke="#fff" stroke-width="0.3"/><circle cx="544.7" cy="630.1" r="2.6" fill="#d4d4d4" stroke="#fff" stroke-width="0.3"/><circle cx="552.9" cy="629.6" r="2.6" fill="#d4d4d4" stroke="#fff" stroke-width="0.3"/><circle cx="561.2" cy="629.1" r="2.6" fill="#d4d4d4" stroke="#fff" stroke-width="0.3"/></g>
<g><circle cx="667.4" cy="749.3" r="3.0" fill="#fff" stroke="#000" stroke-width="3.0"/><circle cx="675.6" cy="738.9" r="3.0" fill="#fff" stroke="#000" stroke-width="3.0"/><circle cx="683.9" cy="729.6" r="3.0" fill="#fff" stroke="#000" stroke-width="3.0"/><circle cx="692.1" cy="720.3" r="3.0" fill="#fff" stroke="#000" stroke-width="3.0"/><circle cx="700.3" cy="711.4" r="3.0" fill="#fff" stroke="#000" stroke-width="3.0"/><circle cx="708.5" cy="702.6" r="3.0" fill="#fff" stroke="#000" stroke-width="3.0"/><circle cx="716.8" cy="693.9" r="3.0" fill="#fff" stroke="#000" stroke-width="3.0"/><circle cx="725.0" cy="685.2" r="3.0" fill="#fff" stroke="#000" stroke-width="3.0"/><circle cx="733.2" cy="677.6" r="3.0" fill="#fff" stroke="#000" stroke-width="3.0"/><circle cx="741.5" cy="670.0" r="3.0" fill="#fff" stroke="#000" stroke-width="3.0"/><circle cx="749.7" cy="643.1" r="3.0" fill="#fff" stroke="#000" stroke-width="3.0"/><circle cx="757.9" cy="636.8" r="3.0" fill="#fff" stroke="#000" stroke-width="3.0"/><circle cx="766.1" cy="630.4" r="3.0" fill="#fff" stroke="#000" stroke-width="3.0"/><circle cx="774.4" cy="626.4" r="3.0" fill="#fff" stroke="#000" stroke-width="3.0"/><circle cx="782.6" cy="622.5" r="3.0" fill="#fff" stroke="#000" stroke-width="3.0"/><circle cx="790.8" cy="619.2" r="3.0" fill="#fff" stroke="#000" stroke-width="3.0"/><circle cx="799.1" cy="616.0" r="3.0" fill="#fff" stroke="#000" stroke-width="3.0"/><circle cx="807.3" cy="613.6" r="3.0" fill="#fff" stroke="#000" stroke-width="3.0"/><circle cx="815.5" cy="612.5" r="3.0" fill="#fff" stroke="#000" stroke-width="3.0"/><circle cx="823.8" cy="611.5" r="3.0" fill="#fff" stroke="#000" stroke-width="3.0"/><circle cx="832.0" cy="610.4" r="3.0" fill="#fff" stroke="#000" stroke-width="3.0"/><circle cx="840.2" cy="611.0" r="3.0" fill="#fff" stroke="#000" stroke-width="3.0"/><circle cx="848.4" cy="611.5" r="3.0" fill="#fff" stroke="#000" stroke-width="3.0"/><circle cx="856.7" cy="612.1" r="3.0" fill="#fff" stroke="#000" stroke-width="3.0"/><circle cx="864.9" cy="613.0" r="3.0" fill="#fff" stroke="#000" stroke-width="3.0"/><circle cx="873.1" cy="614.0" r="3.0" fill="#fff" stroke="#000" stroke-width="3.0"/><circle cx="881.4" cy="615.0" r="3.0" fill="#fff" stroke="#000" stroke-width="3.0"/><circle cx="889.6" cy="616.1" r="3.0" fill="#fff" stroke="#000" stroke-width="3.0"/><circle cx="897.8" cy="617.1" r="3.0" fill="#fff" stroke="#000" stroke-width="3.0"/><circle cx="906.0" cy="617.8" r="3.0" fill="#fff" stroke="#000" stroke-width="3.0"/><circle cx="914.3" cy="618.5" r="3.0" fill="#fff" stroke="#000" stroke-width="3.0"/><circle cx="922.5" cy="619.2" r="3.0" fill="#fff" stroke="#000" stroke-width="3.0"/><circle cx="930.7" cy="619.9" r="3.0" fill="#fff" stroke="#000" stroke-width="3.0"/><circle cx="939.0" cy="620.6" r="3.0" fill="#fff" stroke="#000" stroke-width="3.0"/><circle cx="947.2" cy="621.2" r="3.0" fill="#fff" stroke="#000" stroke-width="3.0"/><circle cx="955.4" cy="621.8" r="3.0" fill="#fff" stroke="#000" stroke-width="3.0"/><circle cx="963.6" cy="622.4" r="3.0" fill="#fff" stroke="#000" stroke-width="3.0"/><circle cx="971.9" cy="622.9" r="3.0" fill="#fff" stroke="#000" stroke-width="3.0"/><circle cx="980.1" cy="623.3" r="3.0" fill="#fff" stroke="#000" stroke-width="3.0"/><circle cx="988.3" cy="623.7" r="3.0" fill="#fff" stroke="#000" stroke-width="3.0"/><circle cx="996.6" cy="624.0" r="3.0" fill="#fff" stroke="#000" stroke-width="3.0"/></g>
<g><circle cx="667.4" cy="747.1" r="3.0" fill="#fff" stroke="#000" stroke-width="3.0"/><circle cx="675.6" cy="724.7" r="3.0" fill="#fff" stroke="#000" stroke-width="3.0"/><circle cx="683.9" cy="713.8" r="3.0" fill="#fff" stroke="#000" stroke-width="3.0"/><circle cx="692.1" cy="702.9" r="3.0" fill="#fff" stroke="#000" stroke-width="3.0"/><circle cx="700.3" cy="693.2" r="3.0" fill="#fff" stroke="#000" stroke-width="3.0"/><circle cx="708.5" cy="684.3" r="3.0" fill="#fff" stroke="#000" stroke-width="3.0"/><circle cx="716.8" cy="675.3" r="3.0" fill="#fff" stroke="#000" stroke-width="3.0"/><circle cx="725.0" cy="666.6" r="3.0" fill="#fff" stroke="#000" stroke-width="3.0"/><circle cx="733.2" cy="658.7" r="3.0" fill="#fff" stroke="#000" stroke-width="3.0"/><circle cx="741.5" cy="650.7" r="3.0" fill="#fff" stroke="#000" stroke-width="3.0"/><circle cx="749.7" cy="642.7" r="3.0" fill="#fff" stroke="#000" stroke-width="3.0"/><circle cx="757.9" cy="636.2" r="3.0" fill="#fff" stroke="#000" stroke-width="3.0"/><circle cx="766.1" cy="629.7" r="3.0" fill="#fff" stroke="#000" stroke-width="3.0"/><circle cx="774.4" cy="624.7" r="3.0" fill="#fff" stroke="#000" stroke-width="3.0"/><circle cx="782.6" cy="620.1" r="3.0" fill="#fff" stroke="#000" stroke-width="3.0"/><circle cx="790.8" cy="616.3" r="3.0" fill="#fff" stroke="#000" stroke-width="3.0"/><circle cx="799.1" cy="612.4" r="3.0" fill="#fff" stroke="#000" stroke-width="3.0"/><circle cx="807.3" cy="609.5" r="3.0" fill="#fff" stroke="#000" stroke-width="3.0"/><circle cx="815.5" cy="608.3" r="3.0" fill="#fff" stroke="#000" stroke-width="3.0"/><circle cx="823.8" cy="607.2" r="3.0" fill="#fff" stroke="#000" stroke-width="3.0"/><circle cx="832.0" cy="606.1" r="3.0" fill="#fff" stroke="#000" stroke-width="3.0"/><circle cx="840.2" cy="606.7" r="3.0" fill="#fff" stroke="#000" stroke-width="3.0"/><circle cx="848.4" cy="607.2" r="3.0" fill="#fff" stroke="#000" stroke-width="3.0"/><circle cx="856.7" cy="607.8" r="3.0" fill="#fff" stroke="#000" stroke-width="3.0"/><circle cx="864.9" cy="608.7" r="3.0" fill="#fff" stroke="#000" stroke-width="3.0"/><circle cx="873.1" cy="609.7" r="3.0" fill="#fff" stroke="#000" stroke-width="3.0"/><circle cx="881.4" cy="610.7" r="3.0" fill="#fff" stroke="#000" stroke-width="3.0"/><circle cx="889.6" cy="611.8" r="3.0" fill="#fff" stroke="#000" stroke-width="3.0"/><circle cx="897.8" cy="612.8" r="3.0" fill="#fff" stroke="#000" stroke-width="3.0"/><circle cx="906.0" cy="613.5" r="3.0" fill="#fff" stroke="#000" stroke-width="3.0"/><circle cx="914.3" cy="614.2" r="3.0" fill="#fff" stroke="#000" stroke-width="3.0"/><circle cx="922.5" cy="614.9" r="3.0" fill="#fff" stroke="#000" stroke-width="3.0"/><circle cx="930.7" cy="615.6" r="3.0" fill="#fff" stroke="#000" stroke-width="3.0"/><circle cx="939.0" cy="616.3" r="3.0" fill="#fff" stroke="#000" stroke-width="3.0"/><circle cx="947.2" cy="616.9" r="3.0" fill="#fff" stroke="#000" stroke-width="3.0"/><circle cx="955.4" cy="617.5" r="3.0" fill="#fff" stroke="#000" stroke-width="3.0"/><circle cx="963.6" cy="618.1" r="3.0" fill="#fff" stroke="#000" stroke-width="3.0"/><circle cx="971.9" cy="618.6" r="3.0" fill="#fff" stroke="#000" stroke-width="3.0"/><circle cx="980.1" cy="619.0" r="3.0" fill="#fff" stroke="#000" stroke-width="3.0"/><circle cx="988.3" cy="619.5" r="3.0" fill="#fff" stroke="#000" stroke-width="3.0"/><circle cx="996.6" cy="619.9" r="3.0" fill="#fff" stroke="#000" stroke-width="3.0"/></g>
<path d="M667.4 744.1L675.6 735.5L683.9 726.0L692.1 716.6L700.3 707.5L708.5 698.7L716.8 689.9L725.0 681.1L733.2 673.4L741.5 665.8L749.7 658.1L757.9 652.3L766.1 646.5L774.4 642.4L782.6 639.5L790.8 637.5L799.1 635.6L807.3 634.2L815.5 634.1L823.8 633.9L832.0 633.8L840.2 634.1L848.4 634.4L856.7 634.7L864.9 635.3L873.1 636.0L881.4 636.8L889.6 637.5L897.8 638.3L906.0 638.7L914.3 639.1L922.5 639.5L930.7 640.0L939.0 640.4L947.2 640.8L955.4 641.2L963.6 641.6L971.9 641.9L980.1 642.2L988.3 642.5L996.6 642.7" stroke="#128583" stroke-width="2.0" fill="none" stroke-linejoin="round" stroke-linecap="round"/>
<g><circle cx="667.4" cy="745.6" r="3.0" fill="#128583" stroke="#fff" stroke-width="0.4"/><circle cx="675.6" cy="737.0" r="3.0" fill="#128583" stroke="#fff" stroke-width="0.4"/><circle cx="683.9" cy="727.5" r="3.0" fill="#128583" stroke="#fff" stroke-width="0.4"/><circle cx="692.1" cy="718.1" r="3.0" fill="#128583" stroke="#fff" stroke-width="0.4"/><circle cx="700.3" cy="709.0" r="3.0" fill="#128583" stroke="#fff" stroke-width="0.4"/><circle cx="708.5" cy="700.2" r="3.0" fill="#128583" stroke="#fff" stroke-width="0.4"/><circle cx="716.8" cy="691.4" r="3.0" fill="#128583" stroke="#fff" stroke-width="0.4"/><circle cx="725.0" cy="682.6" r="3.0" fill="#128583" stroke="#fff" stroke-width="0.4"/><circle cx="733.2" cy="674.9" r="3.0" fill="#128583" stroke="#fff" stroke-width="0.4"/><circle cx="741.5" cy="667.3" r="3.0" fill="#128583" stroke="#fff" stroke-width="0.4"/><circle cx="749.7" cy="659.6" r="3.0" fill="#128583" stroke="#fff" stroke-width="0.4"/><circle cx="757.9" cy="653.8" r="3.0" fill="#128583" stroke="#fff" stroke-width="0.4"/><circle cx="766.1" cy="648.0" r="3.0" fill="#128583" stroke="#fff" stroke-width="0.4"/><circle cx="774.4" cy="643.9" r="3.0" fill="#128583" stroke="#fff" stroke-width="0.4"/><circle cx="782.6" cy="641.2" r="3.0" fill="#128583" stroke="#fff" stroke-width="0.4"/><circle cx="790.8" cy="639.6" r="3.0" fill="#128583" stroke="#fff" stroke-width="0.4"/><circle cx="799.1" cy="638.0" r="3.0" fill="#128583" stroke="#fff" stroke-width="0.4"/><circle cx="807.3" cy="636.9" r="3.0" fill="#128583" stroke="#fff" stroke-width="0.4"/><circle cx="815.5" cy="636.8" r="3.0" fill="#128583" stroke="#fff" stroke-width="0.4"/><circle cx="823.8" cy="636.7" r="3.0" fill="#128583" stroke="#fff" stroke-width="0.4"/><circle cx="832.0" cy="636.6" r="3.0" fill="#128583" stroke="#fff" stroke-width="0.4"/><circle cx="840.2" cy="636.8" r="3.0" fill="#128583" stroke="#fff" stroke-width="0.4"/><circle cx="848.4" cy="637.0" r="3.0" fill="#128583" stroke="#fff" stroke-width="0.4"/><circle cx="856.7" cy="637.2" r="3.0" fill="#128583" stroke="#fff" stroke-width="0.4"/><circle cx="864.9" cy="637.6" r="3.0" fill="#128583" stroke="#fff" stroke-width="0.4"/><circle cx="873.1" cy="638.3" r="3.0" fill="#128583" stroke="#fff" stroke-width="0.4"/><circle cx="881.4" cy="638.9" r="3.0" fill="#128583" stroke="#fff" stroke-width="0.4"/><circle cx="889.6" cy="639.5" r="3.0" fill="#128583" stroke="#fff" stroke-width="0.4"/><circle cx="897.8" cy="640.1" r="3.0" fill="#128583" stroke="#fff" stroke-width="0.4"/><circle cx="906.0" cy="640.4" r="3.0" fill="#128583" stroke="#fff" stroke-width="0.4"/><circle cx="914.3" cy="640.7" r="3.0" fill="#128583" stroke="#fff" stroke-width="0.4"/><circle cx="922.5" cy="641.0" r="3.0" fill="#128583" stroke="#fff" stroke-width="0.4"/><circle cx="930.7" cy="641.3" r="3.0" fill="#128583" stroke="#fff" stroke-width="0.4"/><circle cx="939.0" cy="641.6" r="3.0" fill="#128583" stroke="#fff" stroke-width="0.4"/><circle cx="947.2" cy="641.8" r="3.0" fill="#128583" stroke="#fff" stroke-width="0.4"/><circle cx="955.4" cy="642.1" r="3.0" fill="#128583" stroke="#fff" stroke-width="0.4"/><circle cx="963.6" cy="642.3" r="3.0" fill="#128583" stroke="#fff" stroke-width="0.4"/><circle cx="971.9" cy="642.5" r="3.0" fill="#128583" stroke="#fff" stroke-width="0.4"/><circle cx="980.1" cy="642.7" r="3.0" fill="#128583" stroke="#fff" stroke-width="0.4"/><circle cx="988.3" cy="642.8" r="3.0" fill="#128583" stroke="#fff" stroke-width="0.4"/><circle cx="996.6" cy="642.9" r="3.0" fill="#128583" stroke="#fff" stroke-width="0.4"/></g>
<g><circle cx="667.4" cy="742.6" r="3.0" fill="#128583" stroke="#fff" stroke-width="0.4"/><circle cx="675.6" cy="734.0" r="3.0" fill="#128583" stroke="#fff" stroke-width="0.4"/><circle cx="683.9" cy="724.5" r="3.0" fill="#128583" stroke="#fff" stroke-width="0.4"/><circle cx="692.1" cy="715.1" r="3.0" fill="#128583" stroke="#fff" stroke-width="0.4"/><circle cx="700.3" cy="706.0" r="3.0" fill="#128583" stroke="#fff" stroke-width="0.4"/><circle cx="708.5" cy="697.2" r="3.0" fill="#128583" stroke="#fff" stroke-width="0.4"/><circle cx="716.8" cy="688.4" r="3.0" fill="#128583" stroke="#fff" stroke-width="0.4"/><circle cx="725.0" cy="679.6" r="3.0" fill="#128583" stroke="#fff" stroke-width="0.4"/><circle cx="733.2" cy="672.0" r="3.0" fill="#128583" stroke="#fff" stroke-width="0.4"/><circle cx="741.5" cy="664.3" r="3.0" fill="#128583" stroke="#fff" stroke-width="0.4"/><circle cx="749.7" cy="656.6" r="3.0" fill="#128583" stroke="#fff" stroke-width="0.4"/><circle cx="757.9" cy="650.8" r="3.0" fill="#128583" stroke="#fff" stroke-width="0.4"/><circle cx="766.1" cy="645.0" r="3.0" fill="#128583" stroke="#fff" stroke-width="0.4"/><circle cx="774.4" cy="640.9" r="3.0" fill="#128583" stroke="#fff" stroke-width="0.4"/><circle cx="782.6" cy="637.8" r="3.0" fill="#128583" stroke="#fff" stroke-width="0.4"/><circle cx="790.8" cy="635.5" r="3.0" fill="#128583" stroke="#fff" stroke-width="0.4"/><circle cx="799.1" cy="633.2" r="3.0" fill="#128583" stroke="#fff" stroke-width="0.4"/><circle cx="807.3" cy="631.6" r="3.0" fill="#128583" stroke="#fff" stroke-width="0.4"/><circle cx="815.5" cy="631.4" r="3.0" fill="#128583" stroke="#fff" stroke-width="0.4"/><circle cx="823.8" cy="631.2" r="3.0" fill="#128583" stroke="#fff" stroke-width="0.4"/><circle cx="832.0" cy="631.0" r="3.0" fill="#128583" stroke="#fff" stroke-width="0.4"/><circle cx="840.2" cy="631.4" r="3.0" fill="#128583" stroke="#fff" stroke-width="0.4"/><circle cx="848.4" cy="631.8" r="3.0" fill="#128583" stroke="#fff" stroke-width="0.4"/><circle cx="856.7" cy="632.2" r="3.0" fill="#128583" stroke="#fff" stroke-width="0.4"/><circle cx="864.9" cy="633.0" r="3.0" fill="#128583" stroke="#fff" stroke-width="0.4"/><circle cx="873.1" cy="633.8" r="3.0" fill="#128583" stroke="#fff" stroke-width="0.4"/><circle cx="881.4" cy="634.7" r="3.0" fill="#128583" stroke="#fff" stroke-width="0.4"/><circle cx="889.6" cy="635.5" r="3.0" fill="#128583" stroke="#fff" stroke-width="0.4"/><circle cx="897.8" cy="636.4" r="3.0" fill="#128583" stroke="#fff" stroke-width="0.4"/><circle cx="906.0" cy="637.0" r="3.0" fill="#128583" stroke="#fff" stroke-width="0.4"/><circle cx="914.3" cy="637.5" r="3.0" fill="#128583" stroke="#fff" stroke-width="0.4"/><circle cx="922.5" cy="638.1" r="3.0" fill="#128583" stroke="#fff" stroke-width="0.4"/><circle cx="930.7" cy="638.7" r="3.0" fill="#128583" stroke="#fff" stroke-width="0.4"/><circle cx="939.0" cy="639.2" r="3.0" fill="#128583" stroke="#fff" stroke-width="0.4"/><circle cx="947.2" cy="639.8" r="3.0" fill="#128583" stroke="#fff" stroke-width="0.4"/><circle cx="955.4" cy="640.3" r="3.0" fill="#128583" stroke="#fff" stroke-width="0.4"/><circle cx="963.6" cy="640.8" r="3.0" fill="#128583" stroke="#fff" stroke-width="0.4"/><circle cx="971.9" cy="641.3" r="3.0" fill="#128583" stroke="#fff" stroke-width="0.4"/><circle cx="980.1" cy="641.7" r="3.0" fill="#128583" stroke="#fff" stroke-width="0.4"/><circle cx="988.3" cy="642.1" r="3.0" fill="#128583" stroke="#fff" stroke-width="0.4"/><circle cx="996.6" cy="642.6" r="3.0" fill="#128583" stroke="#fff" stroke-width="0.4"/></g>
<path d="M667.4 739.2L675.6 730.3L683.9 721.0L692.1 711.7L700.3 702.7L708.5 693.9L716.8 685.0L725.0 676.3L733.2 668.6L741.5 660.9L749.7 653.2L757.9 646.8L766.1 640.3L774.4 635.7L782.6 632.1L790.8 629.7L799.1 627.0L807.3 625.0L815.5 624.3L823.8 623.7L832.0 623.1L840.2 623.6L848.4 624.1L856.7 624.6L864.9 625.5L873.1 626.5L881.4 627.6L889.6 628.6L897.8 629.7L906.0 630.4L914.3 631.1L922.5 631.8L930.7 632.5L939.0 633.2L947.2 633.8L955.4 634.3L963.6 634.9L971.9 635.4L980.1 635.9L988.3 636.3L996.6 636.8" stroke="#b516ba" stroke-width="2.0" fill="none" stroke-linejoin="round" stroke-linecap="round"/>
<g><circle cx="667.4" cy="741.1" r="3.0" fill="#b516ba" stroke="#fff" stroke-width="0.4"/><circle cx="675.6" cy="732.1" r="3.0" fill="#b516ba" stroke="#fff" stroke-width="0.4"/><circle cx="683.9" cy="722.8" r="3.0" fill="#b516ba" stroke="#fff" stroke-width="0.4"/><circle cx="692.1" cy="713.5" r="3.0" fill="#b516ba" stroke="#fff" stroke-width="0.4"/><circle cx="700.3" cy="704.6" r="3.0" fill="#b516ba" stroke="#fff" stroke-width="0.4"/><circle cx="708.5" cy="695.7" r="3.0" fill="#b516ba" stroke="#fff" stroke-width="0.4"/><circle cx="716.8" cy="686.9" r="3.0" fill="#b516ba" stroke="#fff" stroke-width="0.4"/><circle cx="725.0" cy="678.1" r="3.0" fill="#b516ba" stroke="#fff" stroke-width="0.4"/><circle cx="733.2" cy="670.5" r="3.0" fill="#b516ba" stroke="#fff" stroke-width="0.4"/><circle cx="741.5" cy="662.8" r="3.0" fill="#b516ba" stroke="#fff" stroke-width="0.4"/><circle cx="749.7" cy="655.1" r="3.0" fill="#b516ba" stroke="#fff" stroke-width="0.4"/><circle cx="757.9" cy="648.7" r="3.0" fill="#b516ba" stroke="#fff" stroke-width="0.4"/><circle cx="766.1" cy="642.2" r="3.0" fill="#b516ba" stroke="#fff" stroke-width="0.4"/><circle cx="774.4" cy="637.5" r="3.0" fill="#b516ba" stroke="#fff" stroke-width="0.4"/><circle cx="782.6" cy="634.0" r="3.0" fill="#b516ba" stroke="#fff" stroke-width="0.4"/><circle cx="790.8" cy="631.6" r="3.0" fill="#b516ba" stroke="#fff" stroke-width="0.4"/><circle cx="799.1" cy="628.9" r="3.0" fill="#b516ba" stroke="#fff" stroke-width="0.4"/><circle cx="807.3" cy="626.8" r="3.0" fill="#b516ba" stroke="#fff" stroke-width="0.4"/><circle cx="815.5" cy="626.2" r="3.0" fill="#b516ba" stroke="#fff" stroke-width="0.4"/><circle cx="823.8" cy="625.6" r="3.0" fill="#b516ba" stroke="#fff" stroke-width="0.4"/><circle cx="832.0" cy="625.0" r="3.0" fill="#b516ba" stroke="#fff" stroke-width="0.4"/><circle cx="840.2" cy="625.4" r="3.0" fill="#b516ba" stroke="#fff" stroke-width="0.4"/><circle cx="848.4" cy="625.9" r="3.0" fill="#b516ba" stroke="#fff" stroke-width="0.4"/><circle cx="856.7" cy="626.4" r="3.0" fill="#b516ba" stroke="#fff" stroke-width="0.4"/><circle cx="864.9" cy="627.2" r="3.0" fill="#b516ba" stroke="#fff" stroke-width="0.4"/><circle cx="873.1" cy="628.2" r="3.0" fill="#b516ba" stroke="#fff" stroke-width="0.4"/><circle cx="881.4" cy="629.2" r="3.0" fill="#b516ba" stroke="#fff" stroke-width="0.4"/><circle cx="889.6" cy="630.2" r="3.0" fill="#b516ba" stroke="#fff" stroke-width="0.4"/><circle cx="897.8" cy="631.2" r="3.0" fill="#b516ba" stroke="#fff" stroke-width="0.4"/><circle cx="906.0" cy="631.8" r="3.0" fill="#b516ba" stroke="#fff" stroke-width="0.4"/><circle cx="914.3" cy="632.4" r="3.0" fill="#b516ba" stroke="#fff" stroke-width="0.4"/><circle cx="922.5" cy="633.0" r="3.0" fill="#b516ba" stroke="#fff" stroke-width="0.4"/><circle cx="930.7" cy="633.6" r="3.0" fill="#b516ba" stroke="#fff" stroke-width="0.4"/><circle cx="939.0" cy="634.2" r="3.0" fill="#b516ba" stroke="#fff" stroke-width="0.4"/><circle cx="947.2" cy="634.7" r="3.0" fill="#b516ba" stroke="#fff" stroke-width="0.4"/><circle cx="955.4" cy="635.2" r="3.0" fill="#b516ba" stroke="#fff" stroke-width="0.4"/><circle cx="963.6" cy="635.6" r="3.0" fill="#b516ba" stroke="#fff" stroke-width="0.4"/><circle cx="971.9" cy="636.1" r="3.0" fill="#b516ba" stroke="#fff" stroke-width="0.4"/><circle cx="980.1" cy="636.4" r="3.0" fill="#b516ba" stroke="#fff" stroke-width="0.4"/><circle cx="988.3" cy="636.8" r="3.0" fill="#b516ba" stroke="#fff" stroke-width="0.4"/><circle cx="996.6" cy="637.1" r="3.0" fill="#b516ba" stroke="#fff" stroke-width="0.4"/></g>
<g><circle cx="667.4" cy="737.4" r="3.0" fill="#b516ba" stroke="#fff" stroke-width="0.4"/><circle cx="675.6" cy="728.4" r="3.0" fill="#b516ba" stroke="#fff" stroke-width="0.4"/><circle cx="683.9" cy="719.1" r="3.0" fill="#b516ba" stroke="#fff" stroke-width="0.4"/><circle cx="692.1" cy="709.8" r="3.0" fill="#b516ba" stroke="#fff" stroke-width="0.4"/><circle cx="700.3" cy="700.8" r="3.0" fill="#b516ba" stroke="#fff" stroke-width="0.4"/><circle cx="708.5" cy="692.0" r="3.0" fill="#b516ba" stroke="#fff" stroke-width="0.4"/><circle cx="716.8" cy="683.2" r="3.0" fill="#b516ba" stroke="#fff" stroke-width="0.4"/><circle cx="725.0" cy="674.4" r="3.0" fill="#b516ba" stroke="#fff" stroke-width="0.4"/><circle cx="733.2" cy="666.7" r="3.0" fill="#b516ba" stroke="#fff" stroke-width="0.4"/><circle cx="741.5" cy="659.0" r="3.0" fill="#b516ba" stroke="#fff" stroke-width="0.4"/><circle cx="749.7" cy="651.3" r="3.0" fill="#b516ba" stroke="#fff" stroke-width="0.4"/><circle cx="757.9" cy="644.9" r="3.0" fill="#b516ba" stroke="#fff" stroke-width="0.4"/><circle cx="766.1" cy="638.5" r="3.0" fill="#b516ba" stroke="#fff" stroke-width="0.4"/><circle cx="774.4" cy="633.8" r="3.0" fill="#b516ba" stroke="#fff" stroke-width="0.4"/><circle cx="782.6" cy="630.2" r="3.0" fill="#b516ba" stroke="#fff" stroke-width="0.4"/><circle cx="790.8" cy="627.9" r="3.0" fill="#b516ba" stroke="#fff" stroke-width="0.4"/><circle cx="799.1" cy="625.1" r="3.0" fill="#b516ba" stroke="#fff" stroke-width="0.4"/><circle cx="807.3" cy="623.1" r="3.0" fill="#b516ba" stroke="#fff" stroke-width="0.4"/><circle cx="815.5" cy="622.5" r="3.0" fill="#b516ba" stroke="#fff" stroke-width="0.4"/><circle cx="823.8" cy="621.9" r="3.0" fill="#b516ba" stroke="#fff" stroke-width="0.4"/><circle cx="832.0" cy="621.2" r="3.0" fill="#b516ba" stroke="#fff" stroke-width="0.4"/><circle cx="840.2" cy="621.8" r="3.0" fill="#b516ba" stroke="#fff" stroke-width="0.4"/><circle cx="848.4" cy="622.3" r="3.0" fill="#b516ba" stroke="#fff" stroke-width="0.4"/><circle cx="856.7" cy="622.9" r="3.0" fill="#b516ba" stroke="#fff" stroke-width="0.4"/><circle cx="864.9" cy="623.8" r="3.0" fill="#b516ba" stroke="#fff" stroke-width="0.4"/><circle cx="873.1" cy="624.9" r="3.0" fill="#b516ba" stroke="#fff" stroke-width="0.4"/><circle cx="881.4" cy="626.0" r="3.0" fill="#b516ba" stroke="#fff" stroke-width="0.4"/><circle cx="889.6" cy="627.1" r="3.0" fill="#b516ba" stroke="#fff" stroke-width="0.4"/><circle cx="897.8" cy="628.2" r="3.0" fill="#b516ba" stroke="#fff" stroke-width="0.4"/><circle cx="906.0" cy="629.0" r="3.0" fill="#b516ba" stroke="#fff" stroke-width="0.4"/><circle cx="914.3" cy="629.7" r="3.0" fill="#b516ba" stroke="#fff" stroke-width="0.4"/><circle cx="922.5" cy="630.5" r="3.0" fill="#b516ba" stroke="#fff" stroke-width="0.4"/><circle cx="930.7" cy="631.3" r="3.0" fill="#b516ba" stroke="#fff" stroke-width="0.4"/><circle cx="939.0" cy="632.1" r="3.0" fill="#b516ba" stroke="#fff" stroke-width="0.4"/><circle cx="947.2" cy="632.8" r="3.0" fill="#b516ba" stroke="#fff" stroke-width="0.4"/><circle cx="955.4" cy="633.5" r="3.0" fill="#b516ba" stroke="#fff" stroke-width="0.4"/><circle cx="963.6" cy="634.1" r="3.0" fill="#b516ba" stroke="#fff" stroke-width="0.4"/><circle cx="971.9" cy="634.8" r="3.0" fill="#b516ba" stroke="#fff" stroke-width="0.4"/><circle cx="980.1" cy="635.3" r="3.0" fill="#b516ba" stroke="#fff" stroke-width="0.4"/><circle cx="988.3" cy="635.8" r="3.0" fill="#b516ba" stroke="#fff" stroke-width="0.4"/><circle cx="996.6" cy="636.4" r="3.0" fill="#b516ba" stroke="#fff" stroke-width="0.4"/></g>
<path d="M667.4 735.5L675.6 726.1L683.9 715.6L692.1 705.0L700.3 695.5L708.5 686.5L716.8 677.5L725.0 668.9L733.2 660.8L741.5 652.7L749.7 644.6L757.9 637.7L766.1 630.8L774.4 625.8L782.6 621.6L790.8 618.7L799.1 615.9L807.3 613.8L815.5 613.3L823.8 612.8L832.0 612.3L840.2 612.8L848.4 613.3L856.7 613.8L864.9 614.7L873.1 615.8L881.4 616.9L889.6 618.1L897.8 619.2L906.0 620.1L914.3 621.0L922.5 621.9L930.7 622.8L939.0 623.7L947.2 624.5L955.4 625.2L963.6 625.8L971.9 626.5L980.1 627.0L988.3 627.6L996.6 628.2" stroke="#d4d4d4" stroke-width="2.0" fill="none" stroke-linejoin="round" stroke-linecap="round"/>
<g><circle cx="667.4" cy="738.1" r="3.0" fill="#d4d4d4" stroke="#fff" stroke-width="0.4"/><circle cx="675.6" cy="728.7" r="3.0" fill="#d4d4d4" stroke="#fff" stroke-width="0.4"/><circle cx="683.9" cy="718.1" r="3.0" fill="#d4d4d4" stroke="#fff" stroke-width="0.4"/><circle cx="692.1" cy="707.5" r="3.0" fill="#d4d4d4" stroke="#fff" stroke-width="0.4"/><circle cx="700.3" cy="698.0" r="3.0" fill="#d4d4d4" stroke="#fff" stroke-width="0.4"/><circle cx="708.5" cy="689.0" r="3.0" fill="#d4d4d4" stroke="#fff" stroke-width="0.4"/><circle cx="716.8" cy="680.0" r="3.0" fill="#d4d4d4" stroke="#fff" stroke-width="0.4"/><circle cx="725.0" cy="671.3" r="3.0" fill="#d4d4d4" stroke="#fff" stroke-width="0.4"/><circle cx="733.2" cy="663.2" r="3.0" fill="#d4d4d4" stroke="#fff" stroke-width="0.4"/><circle cx="741.5" cy="655.1" r="3.0" fill="#d4d4d4" stroke="#fff" stroke-width="0.4"/><circle cx="749.7" cy="646.9" r="3.0" fill="#d4d4d4" stroke="#fff" stroke-width="0.4"/><circle cx="757.9" cy="639.8" r="3.0" fill="#d4d4d4" stroke="#fff" stroke-width="0.4"/><circle cx="766.1" cy="632.8" r="3.0" fill="#d4d4d4" stroke="#fff" stroke-width="0.4"/><circle cx="774.4" cy="627.8" r="3.0" fill="#d4d4d4" stroke="#fff" stroke-width="0.4"/><circle cx="782.6" cy="623.5" r="3.0" fill="#d4d4d4" stroke="#fff" stroke-width="0.4"/><circle cx="790.8" cy="620.6" r="3.0" fill="#d4d4d4" stroke="#fff" stroke-width="0.4"/><circle cx="799.1" cy="617.8" r="3.0" fill="#d4d4d4" stroke="#fff" stroke-width="0.4"/><circle cx="807.3" cy="615.7" r="3.0" fill="#d4d4d4" stroke="#fff" stroke-width="0.4"/><circle cx="815.5" cy="615.3" r="3.0" fill="#d4d4d4" stroke="#fff" stroke-width="0.4"/><circle cx="823.8" cy="614.8" r="3.0" fill="#d4d4d4" stroke="#fff" stroke-width="0.4"/><circle cx="832.0" cy="614.3" r="3.0" fill="#d4d4d4" stroke="#fff" stroke-width="0.4"/><circle cx="840.2" cy="614.7" r="3.0" fill="#d4d4d4" stroke="#fff" stroke-width="0.4"/><circle cx="848.4" cy="615.1" r="3.0" fill="#d4d4d4" stroke="#fff" stroke-width="0.4"/><circle cx="856.7" cy="615.4" r="3.0" fill="#d4d4d4" stroke="#fff" stroke-width="0.4"/><circle cx="864.9" cy="616.2" r="3.0" fill="#d4d4d4" stroke="#fff" stroke-width="0.4"/><circle cx="873.1" cy="617.2" r="3.0" fill="#d4d4d4" stroke="#fff" stroke-width="0.4"/><circle cx="881.4" cy="618.2" r="3.0" fill="#d4d4d4" stroke="#fff" stroke-width="0.4"/><circle cx="889.6" cy="619.1" r="3.0" fill="#d4d4d4" stroke="#fff" stroke-width="0.4"/><circle cx="897.8" cy="620.1" r="3.0" fill="#d4d4d4" stroke="#fff" stroke-width="0.4"/><circle cx="906.0" cy="621.0" r="3.0" fill="#d4d4d4" stroke="#fff" stroke-width="0.4"/><circle cx="914.3" cy="621.8" r="3.0" fill="#d4d4d4" stroke="#fff" stroke-width="0.4"/><circle cx="922.5" cy="622.7" r="3.0" fill="#d4d4d4" stroke="#fff" stroke-width="0.4"/><circle cx="930.7" cy="623.5" r="3.0" fill="#d4d4d4" stroke="#fff" stroke-width="0.4"/><circle cx="939.0" cy="624.4" r="3.0" fill="#d4d4d4" stroke="#fff" stroke-width="0.4"/><circle cx="947.2" cy="625.1" r="3.0" fill="#d4d4d4" stroke="#fff" stroke-width="0.4"/><circle cx="955.4" cy="625.7" r="3.0" fill="#d4d4d4" stroke="#fff" stroke-width="0.4"/><circle cx="963.6" cy="626.3" r="3.0" fill="#d4d4d4" stroke="#fff" stroke-width="0.4"/><circle cx="971.9" cy="626.9" r="3.0" fill="#d4d4d4" stroke="#fff" stroke-width="0.4"/><circle cx="980.1" cy="627.3" r="3.0" fill="#d4d4d4" stroke="#fff" stroke-width="0.4"/><circle cx="988.3" cy="627.8" r="3.0" fill="#d4d4d4" stroke="#fff" stroke-width="0.4"/><circle cx="996.6" cy="628.3" r="3.0" fill="#d4d4d4" stroke="#fff" stroke-width="0.4"/></g>
<g><circle cx="667.4" cy="732.9" r="3.0" fill="#d4d4d4" stroke="#fff" stroke-width="0.4"/><circle cx="675.6" cy="723.6" r="3.0" fill="#d4d4d4" stroke="#fff" stroke-width="0.4"/><circle cx="683.9" cy="713.0" r="3.0" fill="#d4d4d4" stroke="#fff" stroke-width="0.4"/><circle cx="692.1" cy="702.4" r="3.0" fill="#d4d4d4" stroke="#fff" stroke-width="0.4"/><circle cx="700.3" cy="693.0" r="3.0" fill="#d4d4d4" stroke="#fff" stroke-width="0.4"/><circle cx="708.5" cy="684.0" r="3.0" fill="#d4d4d4" stroke="#fff" stroke-width="0.4"/><circle cx="716.8" cy="675.0" r="3.0" fill="#d4d4d4" stroke="#fff" stroke-width="0.4"/><circle cx="725.0" cy="666.4" r="3.0" fill="#d4d4d4" stroke="#fff" stroke-width="0.4"/><circle cx="733.2" cy="658.3" r="3.0" fill="#d4d4d4" stroke="#fff" stroke-width="0.4"/><circle cx="741.5" cy="650.3" r="3.0" fill="#d4d4d4" stroke="#fff" stroke-width="0.4"/><circle cx="749.7" cy="642.4" r="3.0" fill="#d4d4d4" stroke="#fff" stroke-width="0.4"/><circle cx="757.9" cy="635.5" r="3.0" fill="#d4d4d4" stroke="#fff" stroke-width="0.4"/><circle cx="766.1" cy="628.7" r="3.0" fill="#d4d4d4" stroke="#fff" stroke-width="0.4"/><circle cx="774.4" cy="623.9" r="3.0" fill="#d4d4d4" stroke="#fff" stroke-width="0.4"/><circle cx="782.6" cy="619.7" r="3.0" fill="#d4d4d4" stroke="#fff" stroke-width="0.4"/><circle cx="790.8" cy="616.8" r="3.0" fill="#d4d4d4" stroke="#fff" stroke-width="0.4"/><circle cx="799.1" cy="613.9" r="3.0" fill="#d4d4d4" stroke="#fff" stroke-width="0.4"/><circle cx="807.3" cy="611.8" r="3.0" fill="#d4d4d4" stroke="#fff" stroke-width="0.4"/><circle cx="815.5" cy="611.3" r="3.0" fill="#d4d4d4" stroke="#fff" stroke-width="0.4"/><circle cx="823.8" cy="610.7" r="3.0" fill="#d4d4d4" stroke="#fff" stroke-width="0.4"/><circle cx="832.0" cy="610.2" r="3.0" fill="#d4d4d4" stroke="#fff" stroke-width="0.4"/><circle cx="840.2" cy="610.9" r="3.0" fill="#d4d4d4" stroke="#fff" stroke-width="0.4"/><circle cx="848.4" cy="611.5" r="3.0" fill="#d4d4d4" stroke="#fff" stroke-width="0.4"/><circle cx="856.7" cy="612.1" r="3.0" fill="#d4d4d4" stroke="#fff" stroke-width="0.4"/><circle cx="864.9" cy="613.2" r="3.0" fill="#d4d4d4" stroke="#fff" stroke-width="0.4"/><circle cx="873.1" cy="614.5" r="3.0" fill="#d4d4d4" stroke="#fff" stroke-width="0.4"/><circle cx="881.4" cy="615.7" r="3.0" fill="#d4d4d4" stroke="#fff" stroke-width="0.4"/><circle cx="889.6" cy="617.0" r="3.0" fill="#d4d4d4" stroke="#fff" stroke-width="0.4"/><circle cx="897.8" cy="618.2" r="3.0" fill="#d4d4d4" stroke="#fff" stroke-width="0.4"/><circle cx="906.0" cy="619.2" r="3.0" fill="#d4d4d4" stroke="#fff" stroke-width="0.4"/><circle cx="914.3" cy="620.2" r="3.0" fill="#d4d4d4" stroke="#fff" stroke-width="0.4"/><circle cx="922.5" cy="621.2" r="3.0" fill="#d4d4d4" stroke="#fff" stroke-width="0.4"/><circle cx="930.7" cy="622.1" r="3.0" fill="#d4d4d4" stroke="#fff" stroke-width="0.4"/><circle cx="939.0" cy="623.1" r="3.0" fill="#d4d4d4" stroke="#fff" stroke-width="0.4"/><circle cx="947.2" cy="623.9" r="3.0" fill="#d4d4d4" stroke="#fff" stroke-width="0.4"/><circle cx="955.4" cy="624.7" r="3.0" fill="#d4d4d4" stroke="#fff" stroke-width="0.4"/><circle cx="963.6" cy="625.4" r="3.0" fill="#d4d4d4" stroke="#fff" stroke-width="0.4"/><circle cx="971.9" cy="626.1" r="3.0" fill="#d4d4d4" stroke="#fff" stroke-width="0.4"/><circle cx="980.1" cy="626.7" r="3.0" fill="#d4d4d4" stroke="#fff" stroke-width="0.4"/><circle cx="988.3" cy="627.3" r="3.0" fill="#d4d4d4" stroke="#fff" stroke-width="0.4"/><circle cx="996.6" cy="628.0" r="3.0" fill="#d4d4d4" stroke="#fff" stroke-width="0.4"/></g>
<text transform="translate(109.30 718.30) rotate(-90) scale(1.0104 1)" font-size="45.3" text-anchor="middle">Tumour cell</text>
<text transform="translate(162.50 718.00) rotate(-90) scale(1.006 1)" font-size="45.3" text-anchor="middle">confluency (%nRFP)</text>
<text transform="translate(233.30 21.40)" font-size="29.3" font-weight="bold">M495 + IFNγ (autologous)</text>
<text transform="translate(670.60 21.40)" font-size="29.3" font-weight="bold">M202 + IFNγ (mismatched)</text>
<text transform="translate(0.60 27.60) scale(0.9 1)" font-size="32.6" font-weight="bold">a</text>
<text transform="translate(-0.60 573.80)" font-size="33" font-weight="bold">b</text>
<text transform="translate(566.50 804.00)" font-size="57" font-weight="bold" text-anchor="middle">*</text>
<path d="M1018.7 139.7H1049.9" stroke="#d4d4d4" stroke-width="2.6" fill="none"/>
<circle cx="1034.3" cy="139.7" r="2.7" fill="#d4d4d4"/>
<text transform="translate(1068.30 151.90) scale(1.032 1)" font-size="36.3">Neo12</text>
<path d="M1018.7 185.7H1049.9" stroke="#7d0c10" stroke-width="2.6" fill="none"/>
<circle cx="1034.3" cy="185.7" r="2.7" fill="#7d0c10"/>
<text transform="translate(1068.30 197.90) scale(1.015 1)" font-size="36.3">TCR59</text>
<path d="M1018.7 231.7H1049.9" stroke="#f8f545" stroke-width="2.6" fill="none"/>
<circle cx="1034.3" cy="231.7" r="2.7" fill="#f8f545"/>
<text transform="translate(1068.30 243.90) scale(1.015 1)" font-size="36.3">TCR60</text>
<path d="M1018.7 278.0H1049.9" stroke="#3af0f2" stroke-width="2.6" fill="none"/>
<circle cx="1034.3" cy="278.0" r="2.7" fill="#3af0f2"/>
<text transform="translate(1068.30 291.00) scale(1.015 1)" font-size="36.3">TCR61</text>
<path d="M1018.7 323.6H1049.9" stroke="#cf12d0" stroke-width="2.6" fill="none"/>
<circle cx="1034.3" cy="323.6" r="2.7" fill="#cf12d0"/>
<text transform="translate(1068.30 336.40) scale(1.015 1)" font-size="36.3">TCR62</text>
<path d="M1018.7 363.0H1049.9" stroke="#000" stroke-width="2.6" fill="none"/>
<circle cx="1034.3" cy="363.0" r="3.0" fill="#fff" stroke="#000" stroke-width="2.2"/>
<text transform="translate(1068.30 375.70) scale(1.02 1)" font-size="36.3">RPMI</text>
<path d="M1192.2 186.0H1212.4" stroke="#117a1b" stroke-width="4.7" fill="none"/>
<text transform="translate(1214.40 199.40) scale(1.008 1)" font-size="36.9" font-weight="bold">IFNLR1 - HLA-A*03:01</text>
<path d="M1192.2 232.0H1212.4" stroke="#f5329a" stroke-width="4.7" fill="none"/>
<text transform="translate(1214.40 245.10) scale(1.008 1)" font-size="36.9" font-weight="bold">PLA2G4A - HLA-A*03:01</text>
<path d="M1192.2 277.0H1212.4" stroke="#1463e0" stroke-width="4.7" fill="none"/>
<text transform="translate(1214.80 291.20) scale(1.008 1)" font-size="36.9" font-weight="bold">SLC6A3 - HLA-A*03:01</text>
<path d="M1192.2 324.3H1212.4" stroke="#b866f0" stroke-width="4.7" fill="none"/>
<text transform="translate(1215.50 337.00) scale(1.008 1)" font-size="36.9" font-weight="bold">GSDMB - HLA-C*12:02</text>
<path d="M1016.7 711.8H1047.9" stroke="#d4d4d4" stroke-width="2.6" fill="none"/>
<circle cx="1032.3" cy="711.8" r="2.7" fill="#d4d4d4"/>
<text transform="translate(1066.30 725.00) scale(1.03 1)" font-size="36.3">Neo12</text>
<path d="M1016.7 749.1H1047.9" stroke="#128583" stroke-width="2.6" fill="none"/>
<circle cx="1032.3" cy="749.1" r="2.7" fill="#128583"/>
<text transform="translate(1066.30 760.80) scale(1.015 1)" font-size="36.3">TCR57</text>
<path d="M1016.7 786.2H1047.9" stroke="#b516ba" stroke-width="2.6" fill="none"/>
<circle cx="1032.3" cy="786.2" r="2.7" fill="#b516ba"/>
<text transform="translate(1066.30 798.60) scale(1.015 1)" font-size="36.3">TCR58</text>
<path d="M1016.7 823.0H1047.9" stroke="#000" stroke-width="2.6" fill="none"/>
<circle cx="1032.3" cy="823.0" r="3.0" fill="#fff" stroke="#000" stroke-width="2.2"/>
<text transform="translate(1066.30 836.10) scale(1.02 1)" font-size="36.3">RPMI</text>
<path d="M1187.5 747.6H1208.0" stroke="#ee1111" stroke-width="4.7" fill="none"/>
<text transform="translate(1216.80 760.30) scale(1.016 1)" font-size="36.9" font-weight="bold">NRP1 HLA-A*03:01</text>
<path d="M1187.3 789.3H1208.0" stroke="#f6f227" stroke-width="4.7" fill="none"/>
<text transform="translate(1217.60 804.40)" font-size="37.7" font-weight="bold">TRAPPC10 HLA-C*04:01</text>
</svg>
</body></html>
